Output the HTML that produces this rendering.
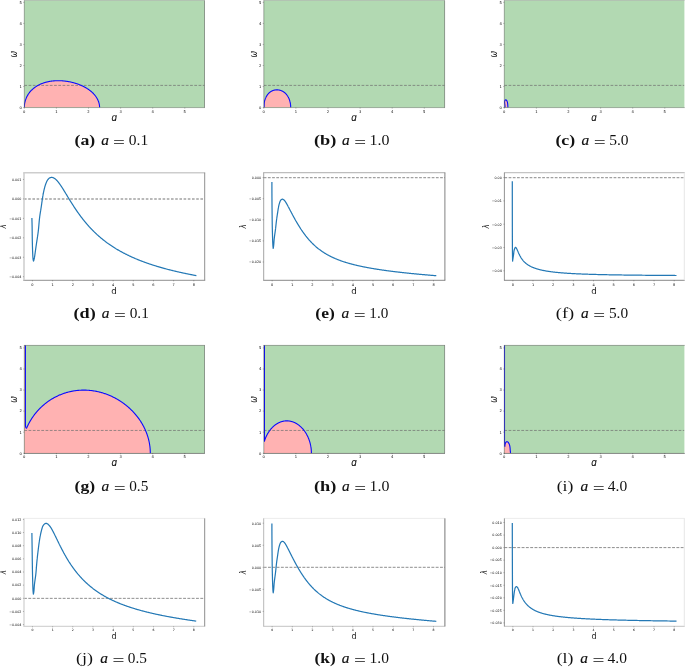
<!DOCTYPE html>
<html><head><meta charset="utf-8"><title>figure</title>
<style>html,body{margin:0;padding:0;background:#fff}svg{display:block}</style>
</head><body>
<svg width="685" height="667" viewBox="0 0 685 667" font-family='"DejaVu Sans","Liberation Sans",sans-serif'>
<rect width="685" height="667" fill="#fff"/>
<clipPath id="c00"><rect x="24.3" y="0.5" width="180.20" height="107.10"/></clipPath>
<rect x="24.3" y="0.5" width="180.20" height="107.10" fill="#b2d9b2"/>
<g clip-path="url(#c00)">
<path d="M24.30,107.60 L24.30,107.35 L24.30,107.20 L24.31,106.92 L24.32,106.62 L24.33,106.31 L24.35,105.99 L24.37,105.68 L24.40,105.36 L24.43,105.05 L24.47,104.74 L24.51,104.42 L24.55,104.11 L24.60,103.79 L24.65,103.48 L24.71,103.17 L24.77,102.85 L24.83,102.54 L24.90,102.23 L24.97,101.92 L25.05,101.61 L25.13,101.31 L25.21,101.00 L25.30,100.69 L25.39,100.39 L25.49,100.08 L25.59,99.78 L25.70,99.48 L25.80,99.18 L25.92,98.88 L26.03,98.58 L26.15,98.29 L26.28,97.99 L26.41,97.70 L26.54,97.40 L26.68,97.11 L26.82,96.83 L26.96,96.54 L27.11,96.25 L27.26,95.97 L27.42,95.69 L27.58,95.41 L27.74,95.13 L27.91,94.85 L28.08,94.58 L28.25,94.31 L28.43,94.03 L28.61,93.77 L28.80,93.50 L28.99,93.24 L29.18,92.97 L29.38,92.71 L29.58,92.46 L29.78,92.20 L29.99,91.95 L30.20,91.70 L30.41,91.45 L30.63,91.20 L30.85,90.96 L31.08,90.72 L31.31,90.48 L31.54,90.24 L31.77,90.01 L32.01,89.78 L32.25,89.55 L32.50,89.32 L32.74,89.10 L33.00,88.88 L33.25,88.66 L33.51,88.44 L33.77,88.23 L34.03,88.02 L34.30,87.81 L34.57,87.61 L34.84,87.40 L35.12,87.20 L35.40,87.01 L35.68,86.81 L35.96,86.62 L36.25,86.44 L36.54,86.25 L36.84,86.07 L37.13,85.89 L37.43,85.71 L37.73,85.54 L38.04,85.37 L38.34,85.20 L38.65,85.04 L38.96,84.88 L39.28,84.72 L39.60,84.57 L39.92,84.41 L40.24,84.26 L40.56,84.12 L40.89,83.97 L41.22,83.83 L41.55,83.70 L41.88,83.56 L42.22,83.43 L42.56,83.31 L42.90,83.18 L43.24,83.06 L43.58,82.94 L43.93,82.82 L44.28,82.71 L44.63,82.60 L44.98,82.50 L45.33,82.39 L45.69,82.29 L46.05,82.20 L46.41,82.10 L46.77,82.01 L47.13,81.92 L47.50,81.84 L47.86,81.76 L48.23,81.68 L48.60,81.60 L48.97,81.53 L49.34,81.46 L49.72,81.39 L50.09,81.33 L50.47,81.27 L50.84,81.21 L51.22,81.16 L51.60,81.11 L51.98,81.06 L52.36,81.01 L52.75,80.97 L53.13,80.93 L53.52,80.89 L53.90,80.86 L54.29,80.83 L54.68,80.80 L55.07,80.78 L55.46,80.76 L55.85,80.74 L56.24,80.72 L56.63,80.71 L57.02,80.70 L57.41,80.69 L57.80,80.69 L58.20,80.68 L58.59,80.69 L58.99,80.69 L59.38,80.70 L59.78,80.71 L60.17,80.72 L60.57,80.73 L60.96,80.75 L61.36,80.77 L61.75,80.80 L62.15,80.82 L62.54,80.85 L62.94,80.88 L63.33,80.92 L63.73,80.95 L64.12,80.99 L64.52,81.03 L64.91,81.08 L65.31,81.13 L65.70,81.18 L66.10,81.23 L66.49,81.28 L66.88,81.34 L67.27,81.40 L67.66,81.47 L68.05,81.53 L68.44,81.60 L68.83,81.67 L69.22,81.74 L69.61,81.82 L70.00,81.90 L70.38,81.98 L70.77,82.06 L71.15,82.15 L71.54,82.23 L71.92,82.32 L72.30,82.42 L72.68,82.51 L73.06,82.61 L73.43,82.71 L73.81,82.81 L74.18,82.91 L74.56,83.02 L74.93,83.13 L75.30,83.24 L75.67,83.36 L76.04,83.47 L76.40,83.59 L76.77,83.71 L77.13,83.83 L77.49,83.96 L77.85,84.08 L78.21,84.21 L78.57,84.35 L78.92,84.48 L79.27,84.62 L79.62,84.75 L79.97,84.89 L80.32,85.04 L80.66,85.18 L81.00,85.33 L81.34,85.48 L81.68,85.63 L82.02,85.78 L82.35,85.93 L82.68,86.09 L83.01,86.25 L83.34,86.41 L83.66,86.57 L83.98,86.74 L84.30,86.91 L84.62,87.08 L84.94,87.25 L85.25,87.42 L85.56,87.59 L85.86,87.77 L86.17,87.95 L86.47,88.13 L86.77,88.31 L87.06,88.50 L87.36,88.68 L87.65,88.87 L87.94,89.06 L88.22,89.25 L88.50,89.44 L88.78,89.64 L89.06,89.84 L89.33,90.03 L89.60,90.24 L89.87,90.44 L90.13,90.64 L90.39,90.85 L90.65,91.05 L90.90,91.26 L91.16,91.47 L91.40,91.68 L91.65,91.90 L91.89,92.11 L92.13,92.33 L92.36,92.55 L92.59,92.77 L92.82,92.99 L93.05,93.21 L93.27,93.43 L93.49,93.66 L93.70,93.89 L93.91,94.12 L94.12,94.34 L94.32,94.58 L94.52,94.81 L94.72,95.04 L94.91,95.28 L95.10,95.51 L95.29,95.75 L95.47,95.99 L95.65,96.23 L95.82,96.47 L95.99,96.71 L96.16,96.96 L96.32,97.20 L96.48,97.45 L96.64,97.69 L96.79,97.94 L96.94,98.19 L97.08,98.44 L97.22,98.69 L97.36,98.94 L97.49,99.19 L97.62,99.45 L97.75,99.70 L97.87,99.96 L97.98,100.21 L98.10,100.47 L98.20,100.73 L98.31,100.98 L98.41,101.24 L98.51,101.50 L98.60,101.76 L98.69,102.02 L98.77,102.29 L98.85,102.55 L98.93,102.81 L99.00,103.07 L99.07,103.34 L99.13,103.60 L99.19,103.87 L99.25,104.13 L99.30,104.40 L99.35,104.66 L99.39,104.93 L99.43,105.19 L99.47,105.46 L99.50,105.73 L99.53,106.00 L99.55,106.26 L99.57,106.53 L99.58,106.80 L99.59,107.06 L99.60,107.33 L99.60,107.60 L99.60,107.60Z" fill="#ffb2b2"/>
<line x1="24.3" x2="204.5" y1="85.40" y2="85.40" stroke="#707070" stroke-opacity="0.9" stroke-width="0.8" stroke-dasharray="2.75 1.5"/>
<path d="M24.30,107.35 L24.30,107.20 L24.31,106.92 L24.32,106.62 L24.33,106.31 L24.35,105.99 L24.37,105.68 L24.40,105.36 L24.43,105.05 L24.47,104.74 L24.51,104.42 L24.55,104.11 L24.60,103.79 L24.65,103.48 L24.71,103.17 L24.77,102.85 L24.83,102.54 L24.90,102.23 L24.97,101.92 L25.05,101.61 L25.13,101.31 L25.21,101.00 L25.30,100.69 L25.39,100.39 L25.49,100.08 L25.59,99.78 L25.70,99.48 L25.80,99.18 L25.92,98.88 L26.03,98.58 L26.15,98.29 L26.28,97.99 L26.41,97.70 L26.54,97.40 L26.68,97.11 L26.82,96.83 L26.96,96.54 L27.11,96.25 L27.26,95.97 L27.42,95.69 L27.58,95.41 L27.74,95.13 L27.91,94.85 L28.08,94.58 L28.25,94.31 L28.43,94.03 L28.61,93.77 L28.80,93.50 L28.99,93.24 L29.18,92.97 L29.38,92.71 L29.58,92.46 L29.78,92.20 L29.99,91.95 L30.20,91.70 L30.41,91.45 L30.63,91.20 L30.85,90.96 L31.08,90.72 L31.31,90.48 L31.54,90.24 L31.77,90.01 L32.01,89.78 L32.25,89.55 L32.50,89.32 L32.74,89.10 L33.00,88.88 L33.25,88.66 L33.51,88.44 L33.77,88.23 L34.03,88.02 L34.30,87.81 L34.57,87.61 L34.84,87.40 L35.12,87.20 L35.40,87.01 L35.68,86.81 L35.96,86.62 L36.25,86.44 L36.54,86.25 L36.84,86.07 L37.13,85.89 L37.43,85.71 L37.73,85.54 L38.04,85.37 L38.34,85.20 L38.65,85.04 L38.96,84.88 L39.28,84.72 L39.60,84.57 L39.92,84.41 L40.24,84.26 L40.56,84.12 L40.89,83.97 L41.22,83.83 L41.55,83.70 L41.88,83.56 L42.22,83.43 L42.56,83.31 L42.90,83.18 L43.24,83.06 L43.58,82.94 L43.93,82.82 L44.28,82.71 L44.63,82.60 L44.98,82.50 L45.33,82.39 L45.69,82.29 L46.05,82.20 L46.41,82.10 L46.77,82.01 L47.13,81.92 L47.50,81.84 L47.86,81.76 L48.23,81.68 L48.60,81.60 L48.97,81.53 L49.34,81.46 L49.72,81.39 L50.09,81.33 L50.47,81.27 L50.84,81.21 L51.22,81.16 L51.60,81.11 L51.98,81.06 L52.36,81.01 L52.75,80.97 L53.13,80.93 L53.52,80.89 L53.90,80.86 L54.29,80.83 L54.68,80.80 L55.07,80.78 L55.46,80.76 L55.85,80.74 L56.24,80.72 L56.63,80.71 L57.02,80.70 L57.41,80.69 L57.80,80.69 L58.20,80.68 L58.59,80.69 L58.99,80.69 L59.38,80.70 L59.78,80.71 L60.17,80.72 L60.57,80.73 L60.96,80.75 L61.36,80.77 L61.75,80.80 L62.15,80.82 L62.54,80.85 L62.94,80.88 L63.33,80.92 L63.73,80.95 L64.12,80.99 L64.52,81.03 L64.91,81.08 L65.31,81.13 L65.70,81.18 L66.10,81.23 L66.49,81.28 L66.88,81.34 L67.27,81.40 L67.66,81.47 L68.05,81.53 L68.44,81.60 L68.83,81.67 L69.22,81.74 L69.61,81.82 L70.00,81.90 L70.38,81.98 L70.77,82.06 L71.15,82.15 L71.54,82.23 L71.92,82.32 L72.30,82.42 L72.68,82.51 L73.06,82.61 L73.43,82.71 L73.81,82.81 L74.18,82.91 L74.56,83.02 L74.93,83.13 L75.30,83.24 L75.67,83.36 L76.04,83.47 L76.40,83.59 L76.77,83.71 L77.13,83.83 L77.49,83.96 L77.85,84.08 L78.21,84.21 L78.57,84.35 L78.92,84.48 L79.27,84.62 L79.62,84.75 L79.97,84.89 L80.32,85.04 L80.66,85.18 L81.00,85.33 L81.34,85.48 L81.68,85.63 L82.02,85.78 L82.35,85.93 L82.68,86.09 L83.01,86.25 L83.34,86.41 L83.66,86.57 L83.98,86.74 L84.30,86.91 L84.62,87.08 L84.94,87.25 L85.25,87.42 L85.56,87.59 L85.86,87.77 L86.17,87.95 L86.47,88.13 L86.77,88.31 L87.06,88.50 L87.36,88.68 L87.65,88.87 L87.94,89.06 L88.22,89.25 L88.50,89.44 L88.78,89.64 L89.06,89.84 L89.33,90.03 L89.60,90.24 L89.87,90.44 L90.13,90.64 L90.39,90.85 L90.65,91.05 L90.90,91.26 L91.16,91.47 L91.40,91.68 L91.65,91.90 L91.89,92.11 L92.13,92.33 L92.36,92.55 L92.59,92.77 L92.82,92.99 L93.05,93.21 L93.27,93.43 L93.49,93.66 L93.70,93.89 L93.91,94.12 L94.12,94.34 L94.32,94.58 L94.52,94.81 L94.72,95.04 L94.91,95.28 L95.10,95.51 L95.29,95.75 L95.47,95.99 L95.65,96.23 L95.82,96.47 L95.99,96.71 L96.16,96.96 L96.32,97.20 L96.48,97.45 L96.64,97.69 L96.79,97.94 L96.94,98.19 L97.08,98.44 L97.22,98.69 L97.36,98.94 L97.49,99.19 L97.62,99.45 L97.75,99.70 L97.87,99.96 L97.98,100.21 L98.10,100.47 L98.20,100.73 L98.31,100.98 L98.41,101.24 L98.51,101.50 L98.60,101.76 L98.69,102.02 L98.77,102.29 L98.85,102.55 L98.93,102.81 L99.00,103.07 L99.07,103.34 L99.13,103.60 L99.19,103.87 L99.25,104.13 L99.30,104.40 L99.35,104.66 L99.39,104.93 L99.43,105.19 L99.47,105.46 L99.50,105.73 L99.53,106.00 L99.55,106.26 L99.57,106.53 L99.58,106.80 L99.59,107.06 L99.60,107.33 L99.60,107.60" fill="none" stroke="#0a0aff" stroke-width="1.1" stroke-linejoin="round"/>
</g>
<line x1="23.900000000000002" x2="204.9" y1="0.5" y2="0.5" stroke="#000" stroke-opacity="0.22" stroke-width="0.8"/>
<line x1="23.900000000000002" x2="204.9" y1="107.6" y2="107.6" stroke="#000" stroke-opacity="0.3" stroke-width="0.9"/>
<line x1="24.3" x2="24.3" y1="0.5" y2="107.6" stroke="#000" stroke-opacity="0.38" stroke-width="0.8"/>
<line x1="204.5" x2="204.5" y1="0.5" y2="107.6" stroke="#000" stroke-opacity="0.45" stroke-width="0.8"/>
<line x1="24.30" x2="24.30" y1="107.6" y2="108.69999999999999" stroke="#000" stroke-opacity="0.7" stroke-width="0.35"/>
<text x="24.30" y="112.60" font-size="3.7" text-anchor="middle" fill="#000">0</text>
<line x1="23.2" x2="24.3" y1="107.60" y2="107.60" stroke="#000" stroke-opacity="0.7" stroke-width="0.35"/>
<text x="21.90" y="108.95" font-size="3.7" text-anchor="end" fill="#000">0</text>
<line x1="56.40" x2="56.40" y1="107.6" y2="108.69999999999999" stroke="#000" stroke-opacity="0.7" stroke-width="0.35"/>
<text x="56.40" y="112.60" font-size="3.7" text-anchor="middle" fill="#000">1</text>
<line x1="23.2" x2="24.3" y1="86.55" y2="86.55" stroke="#000" stroke-opacity="0.7" stroke-width="0.35"/>
<text x="21.90" y="87.90" font-size="3.7" text-anchor="end" fill="#000">1</text>
<line x1="88.50" x2="88.50" y1="107.6" y2="108.69999999999999" stroke="#000" stroke-opacity="0.7" stroke-width="0.35"/>
<text x="88.50" y="112.60" font-size="3.7" text-anchor="middle" fill="#000">2</text>
<line x1="23.2" x2="24.3" y1="65.50" y2="65.50" stroke="#000" stroke-opacity="0.7" stroke-width="0.35"/>
<text x="21.90" y="66.85" font-size="3.7" text-anchor="end" fill="#000">2</text>
<line x1="120.60" x2="120.60" y1="107.6" y2="108.69999999999999" stroke="#000" stroke-opacity="0.7" stroke-width="0.35"/>
<text x="120.60" y="112.60" font-size="3.7" text-anchor="middle" fill="#000">3</text>
<line x1="23.2" x2="24.3" y1="44.45" y2="44.45" stroke="#000" stroke-opacity="0.7" stroke-width="0.35"/>
<text x="21.90" y="45.80" font-size="3.7" text-anchor="end" fill="#000">3</text>
<line x1="152.70" x2="152.70" y1="107.6" y2="108.69999999999999" stroke="#000" stroke-opacity="0.7" stroke-width="0.35"/>
<text x="152.70" y="112.60" font-size="3.7" text-anchor="middle" fill="#000">4</text>
<line x1="23.2" x2="24.3" y1="23.40" y2="23.40" stroke="#000" stroke-opacity="0.7" stroke-width="0.35"/>
<text x="21.90" y="24.75" font-size="3.7" text-anchor="end" fill="#000">4</text>
<line x1="184.80" x2="184.80" y1="107.6" y2="108.69999999999999" stroke="#000" stroke-opacity="0.7" stroke-width="0.35"/>
<text x="184.80" y="112.60" font-size="3.7" text-anchor="middle" fill="#000">5</text>
<line x1="23.2" x2="24.3" y1="2.35" y2="2.35" stroke="#000" stroke-opacity="0.7" stroke-width="0.35"/>
<text x="21.90" y="3.70" font-size="3.7" text-anchor="end" fill="#000">5</text>
<clipPath id="d00"><rect x="106.4" y="115.2" width="16" height="10"/></clipPath>
<g clip-path="url(#d00)"><text transform="translate(114.20,120.7) scale(1,1.22)" font-size="8.8" font-style="italic" text-anchor="middle" fill="#111" stroke="#111" stroke-width="0.12">d</text></g>
<text transform="translate(17.10,54.15) rotate(-90) scale(0.82,1)" font-size="9.6" font-style="italic" text-anchor="middle" fill="#111" stroke="#111" stroke-width="0.06">ω</text>
<clipPath id="c10"><rect x="263.8" y="0.5" width="180.80" height="107.10"/></clipPath>
<rect x="263.8" y="0.5" width="180.80" height="107.10" fill="#b2d9b2"/>
<g clip-path="url(#c10)">
<path d="M263.80,107.60 L264.05,107.60 L264.10,105.50 L264.20,102.86 L264.20,102.86 L264.20,102.84 L264.21,102.82 L264.21,102.80 L264.22,102.76 L264.23,102.72 L264.24,102.66 L264.25,102.61 L264.26,102.54 L264.27,102.47 L264.29,102.39 L264.31,102.31 L264.32,102.22 L264.34,102.13 L264.36,102.03 L264.39,101.92 L264.41,101.81 L264.44,101.70 L264.46,101.59 L264.49,101.47 L264.52,101.34 L264.55,101.22 L264.59,101.09 L264.62,100.96 L264.65,100.83 L264.69,100.69 L264.73,100.55 L264.77,100.42 L264.81,100.28 L264.85,100.14 L264.90,99.99 L264.94,99.85 L264.99,99.71 L265.04,99.56 L265.09,99.42 L265.14,99.27 L265.19,99.12 L265.24,98.98 L265.30,98.83 L265.35,98.68 L265.41,98.54 L265.47,98.39 L265.53,98.25 L265.59,98.10 L265.65,97.95 L265.72,97.81 L265.78,97.66 L265.85,97.52 L265.92,97.37 L265.99,97.23 L266.06,97.09 L266.13,96.95 L266.20,96.80 L266.28,96.66 L266.35,96.52 L266.43,96.38 L266.51,96.25 L266.59,96.11 L266.67,95.97 L266.75,95.84 L266.83,95.71 L266.91,95.57 L267.00,95.44 L267.08,95.31 L267.17,95.18 L267.26,95.05 L267.35,94.93 L267.44,94.80 L267.53,94.68 L267.63,94.56 L267.72,94.43 L267.81,94.31 L267.91,94.20 L268.01,94.08 L268.11,93.96 L268.20,93.85 L268.30,93.73 L268.41,93.62 L268.51,93.51 L268.61,93.40 L268.72,93.30 L268.82,93.19 L268.93,93.09 L269.03,92.99 L269.14,92.88 L269.25,92.79 L269.36,92.69 L269.47,92.59 L269.58,92.50 L269.70,92.40 L269.81,92.31 L269.92,92.22 L270.04,92.13 L270.15,92.05 L270.27,91.96 L270.39,91.88 L270.51,91.80 L270.63,91.72 L270.74,91.64 L270.87,91.56 L270.99,91.49 L271.11,91.42 L271.23,91.34 L271.35,91.27 L271.48,91.21 L271.60,91.14 L271.73,91.07 L271.85,91.01 L271.98,90.95 L272.11,90.89 L272.24,90.83 L272.36,90.78 L272.49,90.72 L272.62,90.67 L272.75,90.62 L272.88,90.57 L273.01,90.52 L273.14,90.47 L273.28,90.43 L273.41,90.38 L273.54,90.34 L273.67,90.30 L273.81,90.27 L273.94,90.23 L274.08,90.19 L274.21,90.16 L274.35,90.13 L274.48,90.10 L274.62,90.07 L274.75,90.05 L274.89,90.02 L275.03,90.00 L275.16,89.98 L275.30,89.96 L275.44,89.94 L275.58,89.92 L275.71,89.91 L275.85,89.89 L275.99,89.88 L276.13,89.87 L276.27,89.86 L276.41,89.86 L276.55,89.85 L276.68,89.85 L276.82,89.85 L276.96,89.85 L277.10,89.85 L277.24,89.85 L277.38,89.86 L277.52,89.86 L277.66,89.87 L277.80,89.88 L277.94,89.89 L278.08,89.91 L278.22,89.92 L278.35,89.94 L278.49,89.96 L278.63,89.97 L278.77,90.00 L278.91,90.02 L279.05,90.04 L279.19,90.07 L279.32,90.10 L279.46,90.13 L279.60,90.16 L279.74,90.19 L279.87,90.22 L280.01,90.26 L280.15,90.30 L280.28,90.34 L280.42,90.38 L280.55,90.42 L280.69,90.46 L280.82,90.51 L280.96,90.55 L281.09,90.60 L281.23,90.65 L281.36,90.71 L281.49,90.76 L281.62,90.81 L281.76,90.87 L281.89,90.93 L282.02,90.99 L282.15,91.05 L282.28,91.11 L282.41,91.18 L282.54,91.25 L282.67,91.31 L282.79,91.38 L282.92,91.46 L283.05,91.53 L283.17,91.60 L283.30,91.68 L283.42,91.76 L283.55,91.84 L283.67,91.92 L283.79,92.00 L283.91,92.09 L284.03,92.17 L284.16,92.26 L284.28,92.35 L284.39,92.44 L284.51,92.53 L284.63,92.63 L284.75,92.72 L284.86,92.82 L284.98,92.92 L285.09,93.02 L285.20,93.12 L285.32,93.23 L285.43,93.33 L285.54,93.44 L285.65,93.55 L285.76,93.66 L285.87,93.77 L285.97,93.88 L286.08,94.00 L286.18,94.12 L286.29,94.23 L286.39,94.35 L286.49,94.48 L286.60,94.60 L286.70,94.72 L286.79,94.85 L286.89,94.98 L286.99,95.10 L287.09,95.24 L287.18,95.37 L287.28,95.50 L287.37,95.64 L287.46,95.77 L287.55,95.91 L287.64,96.05 L287.73,96.19 L287.82,96.33 L287.90,96.48 L287.99,96.62 L288.07,96.77 L288.15,96.91 L288.23,97.06 L288.32,97.21 L288.39,97.37 L288.47,97.52 L288.55,97.67 L288.62,97.83 L288.70,97.99 L288.77,98.14 L288.84,98.30 L288.91,98.46 L288.98,98.63 L289.05,98.79 L289.12,98.95 L289.18,99.12 L289.25,99.29 L289.31,99.45 L289.37,99.62 L289.43,99.79 L289.49,99.96 L289.55,100.13 L289.60,100.31 L289.66,100.48 L289.71,100.66 L289.76,100.83 L289.81,101.01 L289.86,101.19 L289.91,101.37 L289.96,101.55 L290.00,101.73 L290.05,101.91 L290.09,102.09 L290.13,102.27 L290.17,102.46 L290.21,102.64 L290.25,102.82 L290.28,103.01 L290.32,103.20 L290.35,103.38 L290.38,103.57 L290.41,103.76 L290.44,103.95 L290.46,104.14 L290.49,104.33 L290.51,104.52 L290.54,104.71 L290.56,104.90 L290.58,105.09 L290.60,105.28 L290.61,105.47 L290.63,105.67 L290.64,105.86 L290.65,106.05 L290.66,106.24 L290.67,106.44 L290.68,106.63 L290.69,106.82 L290.69,107.02 L290.70,107.21 L290.70,107.41 L290.70,107.60 L290.70,107.60Z" fill="#ffb2b2"/>
<line x1="263.8" x2="444.6" y1="85.40" y2="85.40" stroke="#707070" stroke-opacity="0.9" stroke-width="0.8" stroke-dasharray="2.75 1.5"/>
<path d="M264.05,107.60 L264.10,105.50 L264.20,102.86 L264.20,102.86 L264.20,102.84 L264.21,102.82 L264.21,102.80 L264.22,102.76 L264.23,102.72 L264.24,102.66 L264.25,102.61 L264.26,102.54 L264.27,102.47 L264.29,102.39 L264.31,102.31 L264.32,102.22 L264.34,102.13 L264.36,102.03 L264.39,101.92 L264.41,101.81 L264.44,101.70 L264.46,101.59 L264.49,101.47 L264.52,101.34 L264.55,101.22 L264.59,101.09 L264.62,100.96 L264.65,100.83 L264.69,100.69 L264.73,100.55 L264.77,100.42 L264.81,100.28 L264.85,100.14 L264.90,99.99 L264.94,99.85 L264.99,99.71 L265.04,99.56 L265.09,99.42 L265.14,99.27 L265.19,99.12 L265.24,98.98 L265.30,98.83 L265.35,98.68 L265.41,98.54 L265.47,98.39 L265.53,98.25 L265.59,98.10 L265.65,97.95 L265.72,97.81 L265.78,97.66 L265.85,97.52 L265.92,97.37 L265.99,97.23 L266.06,97.09 L266.13,96.95 L266.20,96.80 L266.28,96.66 L266.35,96.52 L266.43,96.38 L266.51,96.25 L266.59,96.11 L266.67,95.97 L266.75,95.84 L266.83,95.71 L266.91,95.57 L267.00,95.44 L267.08,95.31 L267.17,95.18 L267.26,95.05 L267.35,94.93 L267.44,94.80 L267.53,94.68 L267.63,94.56 L267.72,94.43 L267.81,94.31 L267.91,94.20 L268.01,94.08 L268.11,93.96 L268.20,93.85 L268.30,93.73 L268.41,93.62 L268.51,93.51 L268.61,93.40 L268.72,93.30 L268.82,93.19 L268.93,93.09 L269.03,92.99 L269.14,92.88 L269.25,92.79 L269.36,92.69 L269.47,92.59 L269.58,92.50 L269.70,92.40 L269.81,92.31 L269.92,92.22 L270.04,92.13 L270.15,92.05 L270.27,91.96 L270.39,91.88 L270.51,91.80 L270.63,91.72 L270.74,91.64 L270.87,91.56 L270.99,91.49 L271.11,91.42 L271.23,91.34 L271.35,91.27 L271.48,91.21 L271.60,91.14 L271.73,91.07 L271.85,91.01 L271.98,90.95 L272.11,90.89 L272.24,90.83 L272.36,90.78 L272.49,90.72 L272.62,90.67 L272.75,90.62 L272.88,90.57 L273.01,90.52 L273.14,90.47 L273.28,90.43 L273.41,90.38 L273.54,90.34 L273.67,90.30 L273.81,90.27 L273.94,90.23 L274.08,90.19 L274.21,90.16 L274.35,90.13 L274.48,90.10 L274.62,90.07 L274.75,90.05 L274.89,90.02 L275.03,90.00 L275.16,89.98 L275.30,89.96 L275.44,89.94 L275.58,89.92 L275.71,89.91 L275.85,89.89 L275.99,89.88 L276.13,89.87 L276.27,89.86 L276.41,89.86 L276.55,89.85 L276.68,89.85 L276.82,89.85 L276.96,89.85 L277.10,89.85 L277.24,89.85 L277.38,89.86 L277.52,89.86 L277.66,89.87 L277.80,89.88 L277.94,89.89 L278.08,89.91 L278.22,89.92 L278.35,89.94 L278.49,89.96 L278.63,89.97 L278.77,90.00 L278.91,90.02 L279.05,90.04 L279.19,90.07 L279.32,90.10 L279.46,90.13 L279.60,90.16 L279.74,90.19 L279.87,90.22 L280.01,90.26 L280.15,90.30 L280.28,90.34 L280.42,90.38 L280.55,90.42 L280.69,90.46 L280.82,90.51 L280.96,90.55 L281.09,90.60 L281.23,90.65 L281.36,90.71 L281.49,90.76 L281.62,90.81 L281.76,90.87 L281.89,90.93 L282.02,90.99 L282.15,91.05 L282.28,91.11 L282.41,91.18 L282.54,91.25 L282.67,91.31 L282.79,91.38 L282.92,91.46 L283.05,91.53 L283.17,91.60 L283.30,91.68 L283.42,91.76 L283.55,91.84 L283.67,91.92 L283.79,92.00 L283.91,92.09 L284.03,92.17 L284.16,92.26 L284.28,92.35 L284.39,92.44 L284.51,92.53 L284.63,92.63 L284.75,92.72 L284.86,92.82 L284.98,92.92 L285.09,93.02 L285.20,93.12 L285.32,93.23 L285.43,93.33 L285.54,93.44 L285.65,93.55 L285.76,93.66 L285.87,93.77 L285.97,93.88 L286.08,94.00 L286.18,94.12 L286.29,94.23 L286.39,94.35 L286.49,94.48 L286.60,94.60 L286.70,94.72 L286.79,94.85 L286.89,94.98 L286.99,95.10 L287.09,95.24 L287.18,95.37 L287.28,95.50 L287.37,95.64 L287.46,95.77 L287.55,95.91 L287.64,96.05 L287.73,96.19 L287.82,96.33 L287.90,96.48 L287.99,96.62 L288.07,96.77 L288.15,96.91 L288.23,97.06 L288.32,97.21 L288.39,97.37 L288.47,97.52 L288.55,97.67 L288.62,97.83 L288.70,97.99 L288.77,98.14 L288.84,98.30 L288.91,98.46 L288.98,98.63 L289.05,98.79 L289.12,98.95 L289.18,99.12 L289.25,99.29 L289.31,99.45 L289.37,99.62 L289.43,99.79 L289.49,99.96 L289.55,100.13 L289.60,100.31 L289.66,100.48 L289.71,100.66 L289.76,100.83 L289.81,101.01 L289.86,101.19 L289.91,101.37 L289.96,101.55 L290.00,101.73 L290.05,101.91 L290.09,102.09 L290.13,102.27 L290.17,102.46 L290.21,102.64 L290.25,102.82 L290.28,103.01 L290.32,103.20 L290.35,103.38 L290.38,103.57 L290.41,103.76 L290.44,103.95 L290.46,104.14 L290.49,104.33 L290.51,104.52 L290.54,104.71 L290.56,104.90 L290.58,105.09 L290.60,105.28 L290.61,105.47 L290.63,105.67 L290.64,105.86 L290.65,106.05 L290.66,106.24 L290.67,106.44 L290.68,106.63 L290.69,106.82 L290.69,107.02 L290.70,107.21 L290.70,107.41 L290.70,107.60" fill="none" stroke="#0a0aff" stroke-width="1.1" stroke-linejoin="round"/>
</g>
<line x1="263.40000000000003" x2="445.0" y1="0.5" y2="0.5" stroke="#000" stroke-opacity="0.22" stroke-width="0.8"/>
<line x1="263.40000000000003" x2="445.0" y1="107.6" y2="107.6" stroke="#000" stroke-opacity="0.3" stroke-width="0.9"/>
<line x1="263.8" x2="263.8" y1="0.5" y2="107.6" stroke="#000" stroke-opacity="0.38" stroke-width="0.8"/>
<line x1="444.6" x2="444.6" y1="0.5" y2="107.6" stroke="#000" stroke-opacity="0.45" stroke-width="0.8"/>
<line x1="263.80" x2="263.80" y1="107.6" y2="108.69999999999999" stroke="#000" stroke-opacity="0.7" stroke-width="0.35"/>
<text x="263.80" y="112.60" font-size="3.7" text-anchor="middle" fill="#000">0</text>
<line x1="262.7" x2="263.8" y1="107.60" y2="107.60" stroke="#000" stroke-opacity="0.7" stroke-width="0.35"/>
<text x="261.40" y="108.95" font-size="3.7" text-anchor="end" fill="#000">0</text>
<line x1="295.90" x2="295.90" y1="107.6" y2="108.69999999999999" stroke="#000" stroke-opacity="0.7" stroke-width="0.35"/>
<text x="295.90" y="112.60" font-size="3.7" text-anchor="middle" fill="#000">1</text>
<line x1="262.7" x2="263.8" y1="86.55" y2="86.55" stroke="#000" stroke-opacity="0.7" stroke-width="0.35"/>
<text x="261.40" y="87.90" font-size="3.7" text-anchor="end" fill="#000">1</text>
<line x1="328.00" x2="328.00" y1="107.6" y2="108.69999999999999" stroke="#000" stroke-opacity="0.7" stroke-width="0.35"/>
<text x="328.00" y="112.60" font-size="3.7" text-anchor="middle" fill="#000">2</text>
<line x1="262.7" x2="263.8" y1="65.50" y2="65.50" stroke="#000" stroke-opacity="0.7" stroke-width="0.35"/>
<text x="261.40" y="66.85" font-size="3.7" text-anchor="end" fill="#000">2</text>
<line x1="360.10" x2="360.10" y1="107.6" y2="108.69999999999999" stroke="#000" stroke-opacity="0.7" stroke-width="0.35"/>
<text x="360.10" y="112.60" font-size="3.7" text-anchor="middle" fill="#000">3</text>
<line x1="262.7" x2="263.8" y1="44.45" y2="44.45" stroke="#000" stroke-opacity="0.7" stroke-width="0.35"/>
<text x="261.40" y="45.80" font-size="3.7" text-anchor="end" fill="#000">3</text>
<line x1="392.20" x2="392.20" y1="107.6" y2="108.69999999999999" stroke="#000" stroke-opacity="0.7" stroke-width="0.35"/>
<text x="392.20" y="112.60" font-size="3.7" text-anchor="middle" fill="#000">4</text>
<line x1="262.7" x2="263.8" y1="23.40" y2="23.40" stroke="#000" stroke-opacity="0.7" stroke-width="0.35"/>
<text x="261.40" y="24.75" font-size="3.7" text-anchor="end" fill="#000">4</text>
<line x1="424.30" x2="424.30" y1="107.6" y2="108.69999999999999" stroke="#000" stroke-opacity="0.7" stroke-width="0.35"/>
<text x="424.30" y="112.60" font-size="3.7" text-anchor="middle" fill="#000">5</text>
<line x1="262.7" x2="263.8" y1="2.35" y2="2.35" stroke="#000" stroke-opacity="0.7" stroke-width="0.35"/>
<text x="261.40" y="3.70" font-size="3.7" text-anchor="end" fill="#000">5</text>
<clipPath id="d10"><rect x="346.20000000000005" y="115.2" width="16" height="10"/></clipPath>
<g clip-path="url(#d10)"><text transform="translate(354.00,120.7) scale(1,1.22)" font-size="8.8" font-style="italic" text-anchor="middle" fill="#111" stroke="#111" stroke-width="0.12">d</text></g>
<text transform="translate(256.60,54.15) rotate(-90) scale(0.82,1)" font-size="9.6" font-style="italic" text-anchor="middle" fill="#111" stroke="#111" stroke-width="0.06">ω</text>
<clipPath id="c20"><rect x="504.3" y="0.5" width="180.10" height="107.10"/></clipPath>
<rect x="504.3" y="0.5" width="180.10" height="107.10" fill="#b2d9b2"/>
<g clip-path="url(#c20)">
<path d="M504.30,107.60 L504.50,107.60 L504.66,107.51 L504.79,107.39 L504.88,107.23 L504.95,107.03 L505.00,106.81 L505.02,106.57 L505.02,106.29 L505.01,106.00 L504.98,105.69 L504.95,105.36 L504.90,105.02 L504.85,104.67 L504.80,104.31 L504.75,103.95 L504.70,103.59 L504.65,103.22 L504.62,102.86 L504.59,102.50 L504.58,102.15 L504.59,101.81 L504.62,101.49 L504.67,101.18 L504.74,100.89 L504.84,100.63 L504.98,100.39 L505.14,100.17 L505.34,99.99 L505.56,99.86 L505.78,99.82 L506.00,99.87 L506.21,100.00 L506.40,100.19 L506.57,100.40 L506.73,100.63 L506.87,100.87 L507.00,101.11 L507.11,101.37 L507.22,101.63 L507.31,101.90 L507.39,102.17 L507.45,102.45 L507.51,102.74 L507.57,103.03 L507.61,103.32 L507.65,103.61 L507.68,103.91 L507.71,104.20 L507.73,104.50 L507.75,104.80 L507.77,105.09 L507.79,105.39 L507.81,105.68 L507.83,105.97 L507.85,106.25 L507.87,106.53 L507.90,106.81 L507.93,107.08 L507.96,107.34 L508.01,107.59 L508.01,107.60Z" fill="#ffb2b2"/>
<line x1="504.3" x2="684.4" y1="85.40" y2="85.40" stroke="#707070" stroke-opacity="0.9" stroke-width="0.8" stroke-dasharray="2.75 1.5"/>
<path d="M504.50,107.60 L504.66,107.51 L504.79,107.39 L504.88,107.23 L504.95,107.03 L505.00,106.81 L505.02,106.57 L505.02,106.29 L505.01,106.00 L504.98,105.69 L504.95,105.36 L504.90,105.02 L504.85,104.67 L504.80,104.31 L504.75,103.95 L504.70,103.59 L504.65,103.22 L504.62,102.86 L504.59,102.50 L504.58,102.15 L504.59,101.81 L504.62,101.49 L504.67,101.18 L504.74,100.89 L504.84,100.63 L504.98,100.39 L505.14,100.17 L505.34,99.99 L505.56,99.86 L505.78,99.82 L506.00,99.87 L506.21,100.00 L506.40,100.19 L506.57,100.40 L506.73,100.63 L506.87,100.87 L507.00,101.11 L507.11,101.37 L507.22,101.63 L507.31,101.90 L507.39,102.17 L507.45,102.45 L507.51,102.74 L507.57,103.03 L507.61,103.32 L507.65,103.61 L507.68,103.91 L507.71,104.20 L507.73,104.50 L507.75,104.80 L507.77,105.09 L507.79,105.39 L507.81,105.68 L507.83,105.97 L507.85,106.25 L507.87,106.53 L507.90,106.81 L507.93,107.08 L507.96,107.34 L508.01,107.59" fill="none" stroke="#0a0aff" stroke-width="1.1" stroke-linejoin="round"/>
</g>
<line x1="503.90000000000003" x2="684.8" y1="0.5" y2="0.5" stroke="#000" stroke-opacity="0.22" stroke-width="0.8"/>
<line x1="503.90000000000003" x2="684.8" y1="107.6" y2="107.6" stroke="#000" stroke-opacity="0.3" stroke-width="0.9"/>
<line x1="504.3" x2="504.3" y1="0.5" y2="107.6" stroke="#000" stroke-opacity="0.38" stroke-width="0.8"/>
<line x1="504.30" x2="504.30" y1="107.6" y2="108.69999999999999" stroke="#000" stroke-opacity="0.7" stroke-width="0.35"/>
<text x="504.30" y="112.60" font-size="3.7" text-anchor="middle" fill="#000">0</text>
<line x1="503.2" x2="504.3" y1="107.60" y2="107.60" stroke="#000" stroke-opacity="0.7" stroke-width="0.35"/>
<text x="501.90" y="108.95" font-size="3.7" text-anchor="end" fill="#000">0</text>
<line x1="536.40" x2="536.40" y1="107.6" y2="108.69999999999999" stroke="#000" stroke-opacity="0.7" stroke-width="0.35"/>
<text x="536.40" y="112.60" font-size="3.7" text-anchor="middle" fill="#000">1</text>
<line x1="503.2" x2="504.3" y1="86.55" y2="86.55" stroke="#000" stroke-opacity="0.7" stroke-width="0.35"/>
<text x="501.90" y="87.90" font-size="3.7" text-anchor="end" fill="#000">1</text>
<line x1="568.50" x2="568.50" y1="107.6" y2="108.69999999999999" stroke="#000" stroke-opacity="0.7" stroke-width="0.35"/>
<text x="568.50" y="112.60" font-size="3.7" text-anchor="middle" fill="#000">2</text>
<line x1="503.2" x2="504.3" y1="65.50" y2="65.50" stroke="#000" stroke-opacity="0.7" stroke-width="0.35"/>
<text x="501.90" y="66.85" font-size="3.7" text-anchor="end" fill="#000">2</text>
<line x1="600.60" x2="600.60" y1="107.6" y2="108.69999999999999" stroke="#000" stroke-opacity="0.7" stroke-width="0.35"/>
<text x="600.60" y="112.60" font-size="3.7" text-anchor="middle" fill="#000">3</text>
<line x1="503.2" x2="504.3" y1="44.45" y2="44.45" stroke="#000" stroke-opacity="0.7" stroke-width="0.35"/>
<text x="501.90" y="45.80" font-size="3.7" text-anchor="end" fill="#000">3</text>
<line x1="632.70" x2="632.70" y1="107.6" y2="108.69999999999999" stroke="#000" stroke-opacity="0.7" stroke-width="0.35"/>
<text x="632.70" y="112.60" font-size="3.7" text-anchor="middle" fill="#000">4</text>
<line x1="503.2" x2="504.3" y1="23.40" y2="23.40" stroke="#000" stroke-opacity="0.7" stroke-width="0.35"/>
<text x="501.90" y="24.75" font-size="3.7" text-anchor="end" fill="#000">4</text>
<line x1="664.80" x2="664.80" y1="107.6" y2="108.69999999999999" stroke="#000" stroke-opacity="0.7" stroke-width="0.35"/>
<text x="664.80" y="112.60" font-size="3.7" text-anchor="middle" fill="#000">5</text>
<line x1="503.2" x2="504.3" y1="2.35" y2="2.35" stroke="#000" stroke-opacity="0.7" stroke-width="0.35"/>
<text x="501.90" y="3.70" font-size="3.7" text-anchor="end" fill="#000">5</text>
<clipPath id="d20"><rect x="586.35" y="115.2" width="16" height="10"/></clipPath>
<g clip-path="url(#d20)"><text transform="translate(594.15,120.7) scale(1,1.22)" font-size="8.8" font-style="italic" text-anchor="middle" fill="#111" stroke="#111" stroke-width="0.12">d</text></g>
<text transform="translate(497.10,54.15) rotate(-90) scale(0.82,1)" font-size="9.6" font-style="italic" text-anchor="middle" fill="#111" stroke="#111" stroke-width="0.06">ω</text>
<clipPath id="c01"><rect x="24.3" y="345.4" width="180.20" height="107.80"/></clipPath>
<rect x="24.3" y="345.4" width="180.20" height="107.80" fill="#b2d9b2"/>
<g clip-path="url(#c01)">
<path d="M24.30,453.20 L24.30,345.40 L25.40,345.40 L25.40,343.00 L25.40,423.67 L25.45,425.57 L25.70,427.17 L26.15,428.02 L26.60,428.17 L26.60,428.16 L26.61,428.14 L26.63,428.10 L26.65,428.04 L26.69,427.97 L26.72,427.88 L26.77,427.78 L26.82,427.66 L26.88,427.53 L26.94,427.38 L27.01,427.22 L27.09,427.05 L27.18,426.86 L27.27,426.66 L27.37,426.45 L27.47,426.22 L27.58,425.98 L27.70,425.73 L27.83,425.47 L27.96,425.20 L28.10,424.92 L28.25,424.62 L28.40,424.32 L28.56,424.01 L28.72,423.70 L28.89,423.37 L29.07,423.03 L29.26,422.69 L29.45,422.34 L29.65,421.99 L29.85,421.63 L30.06,421.26 L30.28,420.89 L30.50,420.51 L30.74,420.13 L30.97,419.74 L31.22,419.35 L31.46,418.96 L31.72,418.56 L31.98,418.16 L32.25,417.76 L32.53,417.35 L32.81,416.94 L33.09,416.53 L33.39,416.12 L33.68,415.70 L33.99,415.29 L34.30,414.87 L34.62,414.46 L34.94,414.04 L35.27,413.62 L35.60,413.21 L35.94,412.79 L36.29,412.37 L36.64,411.95 L37.00,411.54 L37.36,411.12 L37.73,410.71 L38.11,410.29 L38.49,409.88 L38.87,409.47 L39.27,409.06 L39.66,408.65 L40.06,408.25 L40.47,407.84 L40.89,407.44 L41.30,407.04 L41.73,406.65 L42.15,406.25 L42.59,405.86 L43.03,405.47 L43.47,405.09 L43.92,404.71 L44.37,404.33 L44.83,403.95 L45.29,403.58 L45.76,403.21 L46.23,402.84 L46.71,402.48 L47.19,402.12 L47.68,401.77 L48.17,401.42 L48.67,401.07 L49.17,400.73 L49.67,400.39 L50.18,400.06 L50.69,399.73 L51.21,399.40 L51.73,399.08 L52.25,398.77 L52.78,398.46 L53.32,398.15 L53.85,397.85 L54.39,397.55 L54.94,397.26 L55.48,396.98 L56.04,396.70 L56.59,396.42 L57.15,396.15 L57.71,395.88 L58.28,395.62 L58.85,395.37 L59.42,395.12 L59.99,394.88 L60.57,394.64 L61.16,394.41 L61.74,394.18 L62.33,393.96 L62.92,393.74 L63.51,393.53 L64.11,393.33 L64.71,393.13 L65.31,392.94 L65.91,392.76 L66.52,392.58 L67.13,392.40 L67.74,392.24 L68.35,392.08 L68.97,391.92 L69.58,391.77 L70.20,391.63 L70.83,391.49 L71.45,391.36 L72.08,391.24 L72.70,391.12 L73.33,391.01 L73.96,390.91 L74.60,390.81 L75.23,390.72 L75.87,390.64 L76.50,390.56 L77.14,390.49 L77.78,390.42 L78.42,390.36 L79.06,390.31 L79.71,390.26 L80.35,390.22 L80.99,390.19 L81.64,390.17 L82.29,390.15 L82.93,390.13 L83.58,390.13 L84.23,390.13 L84.88,390.14 L85.53,390.15 L86.18,390.17 L86.83,390.20 L87.48,390.23 L88.13,390.27 L88.77,390.32 L89.42,390.37 L90.07,390.43 L90.72,390.50 L91.37,390.57 L92.02,390.66 L92.67,390.74 L93.32,390.84 L93.97,390.94 L94.61,391.04 L95.26,391.16 L95.91,391.28 L96.55,391.40 L97.19,391.53 L97.84,391.67 L98.48,391.82 L99.12,391.97 L99.76,392.13 L100.40,392.29 L101.03,392.47 L101.67,392.64 L102.30,392.83 L102.94,393.02 L103.57,393.21 L104.20,393.42 L104.82,393.63 L105.45,393.84 L106.07,394.06 L106.70,394.29 L107.32,394.52 L107.93,394.76 L108.55,395.01 L109.16,395.26 L109.77,395.52 L110.38,395.78 L110.99,396.05 L111.59,396.33 L112.19,396.61 L112.79,396.90 L113.39,397.19 L113.98,397.49 L114.57,397.79 L115.16,398.10 L115.74,398.42 L116.33,398.74 L116.90,399.06 L117.48,399.40 L118.05,399.73 L118.62,400.08 L119.19,400.42 L119.75,400.78 L120.31,401.13 L120.86,401.50 L121.42,401.87 L121.96,402.24 L122.51,402.62 L123.05,403.00 L123.58,403.39 L124.12,403.79 L124.65,404.19 L125.17,404.59 L125.69,405.00 L126.21,405.41 L126.72,405.83 L127.23,406.25 L127.73,406.68 L128.23,407.11 L128.73,407.54 L129.22,407.98 L129.71,408.43 L130.19,408.88 L130.67,409.33 L131.14,409.79 L131.61,410.25 L132.07,410.71 L132.53,411.18 L132.98,411.65 L133.43,412.13 L133.87,412.61 L134.31,413.10 L134.75,413.59 L135.17,414.08 L135.60,414.57 L136.01,415.07 L136.43,415.58 L136.84,416.08 L137.24,416.59 L137.63,417.11 L138.03,417.62 L138.41,418.14 L138.79,418.66 L139.17,419.19 L139.54,419.72 L139.90,420.25 L140.26,420.79 L140.61,421.32 L140.96,421.86 L141.30,422.41 L141.63,422.95 L141.96,423.50 L142.28,424.06 L142.60,424.61 L142.91,425.17 L143.22,425.73 L143.51,426.29 L143.81,426.85 L144.09,427.42 L144.37,427.99 L144.65,428.56 L144.92,429.13 L145.18,429.71 L145.44,430.28 L145.68,430.86 L145.93,431.44 L146.16,432.03 L146.40,432.61 L146.62,433.20 L146.84,433.79 L147.05,434.38 L147.25,434.97 L147.45,435.56 L147.64,436.15 L147.83,436.75 L148.01,437.35 L148.18,437.95 L148.34,438.55 L148.50,439.15 L148.65,439.75 L148.80,440.35 L148.94,440.96 L149.07,441.56 L149.20,442.17 L149.32,442.78 L149.43,443.39 L149.53,444.00 L149.63,444.61 L149.72,445.22 L149.81,445.83 L149.89,446.44 L149.96,447.05 L150.02,447.67 L150.08,448.28 L150.13,448.89 L150.18,449.51 L150.21,450.12 L150.25,450.74 L150.27,451.35 L150.29,451.97 L150.30,452.58 L150.30,453.20 L150.30,453.20Z" fill="#ffb2b2"/>
<line x1="24.3" x2="204.5" y1="430.45" y2="430.45" stroke="#707070" stroke-opacity="0.9" stroke-width="0.8" stroke-dasharray="2.75 1.5"/>
<path d="M25.40,343.00 L25.40,423.67 L25.45,425.57 L25.70,427.17 L26.15,428.02 L26.60,428.17 L26.60,428.16 L26.61,428.14 L26.63,428.10 L26.65,428.04 L26.69,427.97 L26.72,427.88 L26.77,427.78 L26.82,427.66 L26.88,427.53 L26.94,427.38 L27.01,427.22 L27.09,427.05 L27.18,426.86 L27.27,426.66 L27.37,426.45 L27.47,426.22 L27.58,425.98 L27.70,425.73 L27.83,425.47 L27.96,425.20 L28.10,424.92 L28.25,424.62 L28.40,424.32 L28.56,424.01 L28.72,423.70 L28.89,423.37 L29.07,423.03 L29.26,422.69 L29.45,422.34 L29.65,421.99 L29.85,421.63 L30.06,421.26 L30.28,420.89 L30.50,420.51 L30.74,420.13 L30.97,419.74 L31.22,419.35 L31.46,418.96 L31.72,418.56 L31.98,418.16 L32.25,417.76 L32.53,417.35 L32.81,416.94 L33.09,416.53 L33.39,416.12 L33.68,415.70 L33.99,415.29 L34.30,414.87 L34.62,414.46 L34.94,414.04 L35.27,413.62 L35.60,413.21 L35.94,412.79 L36.29,412.37 L36.64,411.95 L37.00,411.54 L37.36,411.12 L37.73,410.71 L38.11,410.29 L38.49,409.88 L38.87,409.47 L39.27,409.06 L39.66,408.65 L40.06,408.25 L40.47,407.84 L40.89,407.44 L41.30,407.04 L41.73,406.65 L42.15,406.25 L42.59,405.86 L43.03,405.47 L43.47,405.09 L43.92,404.71 L44.37,404.33 L44.83,403.95 L45.29,403.58 L45.76,403.21 L46.23,402.84 L46.71,402.48 L47.19,402.12 L47.68,401.77 L48.17,401.42 L48.67,401.07 L49.17,400.73 L49.67,400.39 L50.18,400.06 L50.69,399.73 L51.21,399.40 L51.73,399.08 L52.25,398.77 L52.78,398.46 L53.32,398.15 L53.85,397.85 L54.39,397.55 L54.94,397.26 L55.48,396.98 L56.04,396.70 L56.59,396.42 L57.15,396.15 L57.71,395.88 L58.28,395.62 L58.85,395.37 L59.42,395.12 L59.99,394.88 L60.57,394.64 L61.16,394.41 L61.74,394.18 L62.33,393.96 L62.92,393.74 L63.51,393.53 L64.11,393.33 L64.71,393.13 L65.31,392.94 L65.91,392.76 L66.52,392.58 L67.13,392.40 L67.74,392.24 L68.35,392.08 L68.97,391.92 L69.58,391.77 L70.20,391.63 L70.83,391.49 L71.45,391.36 L72.08,391.24 L72.70,391.12 L73.33,391.01 L73.96,390.91 L74.60,390.81 L75.23,390.72 L75.87,390.64 L76.50,390.56 L77.14,390.49 L77.78,390.42 L78.42,390.36 L79.06,390.31 L79.71,390.26 L80.35,390.22 L80.99,390.19 L81.64,390.17 L82.29,390.15 L82.93,390.13 L83.58,390.13 L84.23,390.13 L84.88,390.14 L85.53,390.15 L86.18,390.17 L86.83,390.20 L87.48,390.23 L88.13,390.27 L88.77,390.32 L89.42,390.37 L90.07,390.43 L90.72,390.50 L91.37,390.57 L92.02,390.66 L92.67,390.74 L93.32,390.84 L93.97,390.94 L94.61,391.04 L95.26,391.16 L95.91,391.28 L96.55,391.40 L97.19,391.53 L97.84,391.67 L98.48,391.82 L99.12,391.97 L99.76,392.13 L100.40,392.29 L101.03,392.47 L101.67,392.64 L102.30,392.83 L102.94,393.02 L103.57,393.21 L104.20,393.42 L104.82,393.63 L105.45,393.84 L106.07,394.06 L106.70,394.29 L107.32,394.52 L107.93,394.76 L108.55,395.01 L109.16,395.26 L109.77,395.52 L110.38,395.78 L110.99,396.05 L111.59,396.33 L112.19,396.61 L112.79,396.90 L113.39,397.19 L113.98,397.49 L114.57,397.79 L115.16,398.10 L115.74,398.42 L116.33,398.74 L116.90,399.06 L117.48,399.40 L118.05,399.73 L118.62,400.08 L119.19,400.42 L119.75,400.78 L120.31,401.13 L120.86,401.50 L121.42,401.87 L121.96,402.24 L122.51,402.62 L123.05,403.00 L123.58,403.39 L124.12,403.79 L124.65,404.19 L125.17,404.59 L125.69,405.00 L126.21,405.41 L126.72,405.83 L127.23,406.25 L127.73,406.68 L128.23,407.11 L128.73,407.54 L129.22,407.98 L129.71,408.43 L130.19,408.88 L130.67,409.33 L131.14,409.79 L131.61,410.25 L132.07,410.71 L132.53,411.18 L132.98,411.65 L133.43,412.13 L133.87,412.61 L134.31,413.10 L134.75,413.59 L135.17,414.08 L135.60,414.57 L136.01,415.07 L136.43,415.58 L136.84,416.08 L137.24,416.59 L137.63,417.11 L138.03,417.62 L138.41,418.14 L138.79,418.66 L139.17,419.19 L139.54,419.72 L139.90,420.25 L140.26,420.79 L140.61,421.32 L140.96,421.86 L141.30,422.41 L141.63,422.95 L141.96,423.50 L142.28,424.06 L142.60,424.61 L142.91,425.17 L143.22,425.73 L143.51,426.29 L143.81,426.85 L144.09,427.42 L144.37,427.99 L144.65,428.56 L144.92,429.13 L145.18,429.71 L145.44,430.28 L145.68,430.86 L145.93,431.44 L146.16,432.03 L146.40,432.61 L146.62,433.20 L146.84,433.79 L147.05,434.38 L147.25,434.97 L147.45,435.56 L147.64,436.15 L147.83,436.75 L148.01,437.35 L148.18,437.95 L148.34,438.55 L148.50,439.15 L148.65,439.75 L148.80,440.35 L148.94,440.96 L149.07,441.56 L149.20,442.17 L149.32,442.78 L149.43,443.39 L149.53,444.00 L149.63,444.61 L149.72,445.22 L149.81,445.83 L149.89,446.44 L149.96,447.05 L150.02,447.67 L150.08,448.28 L150.13,448.89 L150.18,449.51 L150.21,450.12 L150.25,450.74 L150.27,451.35 L150.29,451.97 L150.30,452.58 L150.30,453.20" fill="none" stroke="#0a0aff" stroke-width="1.1" stroke-linejoin="round"/>
</g>
<line x1="23.900000000000002" x2="204.9" y1="345.4" y2="345.4" stroke="#000" stroke-opacity="0.4" stroke-width="0.8"/>
<line x1="23.900000000000002" x2="204.9" y1="453.45" y2="453.45" stroke="#000" stroke-opacity="0.6" stroke-width="0.75"/>
<line x1="24.3" x2="24.3" y1="345.4" y2="453.2" stroke="#000" stroke-opacity="0.38" stroke-width="0.8"/>
<line x1="204.5" x2="204.5" y1="345.4" y2="453.2" stroke="#000" stroke-opacity="0.45" stroke-width="0.8"/>
<line x1="24.30" x2="24.30" y1="453.2" y2="454.3" stroke="#000" stroke-opacity="0.7" stroke-width="0.35"/>
<text x="24.30" y="458.20" font-size="3.7" text-anchor="middle" fill="#000">0</text>
<line x1="23.2" x2="24.3" y1="453.20" y2="453.20" stroke="#000" stroke-opacity="0.7" stroke-width="0.35"/>
<text x="21.90" y="454.55" font-size="3.7" text-anchor="end" fill="#000">0</text>
<line x1="56.40" x2="56.40" y1="453.2" y2="454.3" stroke="#000" stroke-opacity="0.7" stroke-width="0.35"/>
<text x="56.40" y="458.20" font-size="3.7" text-anchor="middle" fill="#000">1</text>
<line x1="23.2" x2="24.3" y1="432.15" y2="432.15" stroke="#000" stroke-opacity="0.7" stroke-width="0.35"/>
<text x="21.90" y="433.50" font-size="3.7" text-anchor="end" fill="#000">1</text>
<line x1="88.50" x2="88.50" y1="453.2" y2="454.3" stroke="#000" stroke-opacity="0.7" stroke-width="0.35"/>
<text x="88.50" y="458.20" font-size="3.7" text-anchor="middle" fill="#000">2</text>
<line x1="23.2" x2="24.3" y1="411.10" y2="411.10" stroke="#000" stroke-opacity="0.7" stroke-width="0.35"/>
<text x="21.90" y="412.45" font-size="3.7" text-anchor="end" fill="#000">2</text>
<line x1="120.60" x2="120.60" y1="453.2" y2="454.3" stroke="#000" stroke-opacity="0.7" stroke-width="0.35"/>
<text x="120.60" y="458.20" font-size="3.7" text-anchor="middle" fill="#000">3</text>
<line x1="23.2" x2="24.3" y1="390.05" y2="390.05" stroke="#000" stroke-opacity="0.7" stroke-width="0.35"/>
<text x="21.90" y="391.40" font-size="3.7" text-anchor="end" fill="#000">3</text>
<line x1="152.70" x2="152.70" y1="453.2" y2="454.3" stroke="#000" stroke-opacity="0.7" stroke-width="0.35"/>
<text x="152.70" y="458.20" font-size="3.7" text-anchor="middle" fill="#000">4</text>
<line x1="23.2" x2="24.3" y1="369.00" y2="369.00" stroke="#000" stroke-opacity="0.7" stroke-width="0.35"/>
<text x="21.90" y="370.35" font-size="3.7" text-anchor="end" fill="#000">4</text>
<line x1="184.80" x2="184.80" y1="453.2" y2="454.3" stroke="#000" stroke-opacity="0.7" stroke-width="0.35"/>
<text x="184.80" y="458.20" font-size="3.7" text-anchor="middle" fill="#000">5</text>
<line x1="23.2" x2="24.3" y1="347.95" y2="347.95" stroke="#000" stroke-opacity="0.7" stroke-width="0.35"/>
<text x="21.90" y="349.30" font-size="3.7" text-anchor="end" fill="#000">5</text>
<clipPath id="d01"><rect x="106.4" y="460.1" width="16" height="10"/></clipPath>
<g clip-path="url(#d01)"><text transform="translate(114.20,466.0) scale(1,1.22)" font-size="8.8" font-style="italic" text-anchor="middle" fill="#111" stroke="#111" stroke-width="0.12">d</text></g>
<text transform="translate(17.10,399.40) rotate(-90) scale(0.82,1)" font-size="9.6" font-style="italic" text-anchor="middle" fill="#111" stroke="#111" stroke-width="0.06">ω</text>
<clipPath id="c11"><rect x="263.8" y="345.4" width="180.80" height="107.80"/></clipPath>
<rect x="263.8" y="345.4" width="180.80" height="107.80" fill="#b2d9b2"/>
<g clip-path="url(#c11)">
<path d="M263.80,453.20 L263.80,345.40 L264.40,345.40 L264.40,343.00 L264.40,439.77 L264.40,441.27 L264.40,441.27 L264.40,441.26 L264.41,441.25 L264.41,441.23 L264.42,441.20 L264.43,441.16 L264.45,441.11 L264.46,441.06 L264.48,441.00 L264.50,440.93 L264.53,440.85 L264.56,440.76 L264.59,440.67 L264.62,440.57 L264.65,440.47 L264.69,440.35 L264.73,440.23 L264.77,440.11 L264.82,439.97 L264.87,439.84 L264.92,439.69 L264.97,439.54 L265.03,439.39 L265.08,439.23 L265.14,439.07 L265.21,438.90 L265.27,438.73 L265.34,438.55 L265.41,438.37 L265.48,438.19 L265.56,438.00 L265.64,437.81 L265.72,437.62 L265.80,437.42 L265.88,437.23 L265.97,437.02 L266.06,436.82 L266.15,436.62 L266.25,436.41 L266.35,436.20 L266.45,435.99 L266.55,435.78 L266.65,435.57 L266.76,435.36 L266.87,435.14 L266.98,434.92 L267.09,434.71 L267.21,434.49 L267.33,434.27 L267.45,434.06 L267.57,433.84 L267.69,433.62 L267.82,433.40 L267.95,433.18 L268.08,432.96 L268.22,432.74 L268.35,432.53 L268.49,432.31 L268.63,432.09 L268.77,431.87 L268.92,431.66 L269.06,431.44 L269.21,431.23 L269.36,431.01 L269.52,430.80 L269.67,430.59 L269.83,430.38 L269.99,430.17 L270.15,429.96 L270.31,429.75 L270.47,429.54 L270.64,429.34 L270.81,429.13 L270.98,428.93 L271.15,428.73 L271.33,428.53 L271.50,428.34 L271.68,428.14 L271.86,427.95 L272.04,427.75 L272.22,427.56 L272.41,427.38 L272.60,427.19 L272.78,427.01 L272.97,426.82 L273.17,426.64 L273.36,426.46 L273.55,426.29 L273.75,426.11 L273.95,425.94 L274.15,425.77 L274.35,425.61 L274.55,425.44 L274.75,425.28 L274.96,425.12 L275.17,424.96 L275.37,424.81 L275.58,424.66 L275.80,424.51 L276.01,424.36 L276.22,424.22 L276.44,424.07 L276.65,423.93 L276.87,423.80 L277.09,423.66 L277.31,423.53 L277.53,423.41 L277.75,423.28 L277.97,423.16 L278.20,423.04 L278.42,422.92 L278.65,422.81 L278.88,422.70 L279.11,422.59 L279.34,422.49 L279.57,422.39 L279.80,422.29 L280.03,422.19 L280.26,422.10 L280.50,422.01 L280.73,421.93 L280.97,421.85 L281.20,421.77 L281.44,421.69 L281.68,421.62 L281.92,421.55 L282.16,421.48 L282.40,421.42 L282.64,421.36 L282.88,421.30 L283.12,421.25 L283.36,421.20 L283.60,421.15 L283.85,421.11 L284.09,421.07 L284.33,421.04 L284.58,421.00 L284.82,420.97 L285.07,420.95 L285.31,420.92 L285.56,420.91 L285.80,420.89 L286.05,420.88 L286.30,420.87 L286.54,420.86 L286.79,420.86 L287.04,420.86 L287.28,420.87 L287.53,420.88 L287.78,420.89 L288.02,420.90 L288.27,420.92 L288.52,420.94 L288.76,420.97 L289.01,421.00 L289.26,421.03 L289.50,421.07 L289.75,421.11 L290.00,421.15 L290.24,421.20 L290.49,421.25 L290.73,421.30 L290.98,421.36 L291.22,421.42 L291.47,421.48 L291.71,421.55 L291.95,421.62 L292.20,421.69 L292.44,421.77 L292.68,421.85 L292.92,421.94 L293.16,422.02 L293.40,422.11 L293.64,422.21 L293.88,422.31 L294.12,422.41 L294.36,422.51 L294.60,422.62 L294.83,422.73 L295.07,422.84 L295.30,422.96 L295.54,423.08 L295.77,423.20 L296.00,423.33 L296.23,423.46 L296.46,423.59 L296.69,423.73 L296.92,423.87 L297.15,424.01 L297.38,424.16 L297.60,424.31 L297.83,424.46 L298.05,424.61 L298.27,424.77 L298.49,424.93 L298.71,425.09 L298.93,425.26 L299.15,425.43 L299.36,425.60 L299.58,425.78 L299.79,425.96 L300.00,426.14 L300.22,426.32 L300.42,426.51 L300.63,426.70 L300.84,426.89 L301.05,427.09 L301.25,427.28 L301.45,427.48 L301.65,427.69 L301.85,427.89 L302.05,428.10 L302.25,428.31 L302.44,428.52 L302.63,428.74 L302.83,428.96 L303.02,429.18 L303.20,429.40 L303.39,429.63 L303.58,429.86 L303.76,430.09 L303.94,430.32 L304.12,430.55 L304.30,430.79 L304.47,431.03 L304.65,431.27 L304.82,431.52 L304.99,431.76 L305.16,432.01 L305.33,432.26 L305.49,432.51 L305.65,432.77 L305.81,433.02 L305.97,433.28 L306.13,433.54 L306.28,433.80 L306.44,434.07 L306.59,434.33 L306.74,434.60 L306.88,434.87 L307.03,435.14 L307.17,435.41 L307.31,435.69 L307.45,435.97 L307.58,436.24 L307.72,436.52 L307.85,436.80 L307.98,437.09 L308.11,437.37 L308.23,437.66 L308.35,437.94 L308.47,438.23 L308.59,438.52 L308.71,438.81 L308.82,439.11 L308.93,439.40 L309.04,439.70 L309.15,439.99 L309.25,440.29 L309.35,440.59 L309.45,440.89 L309.55,441.19 L309.65,441.49 L309.74,441.80 L309.83,442.10 L309.92,442.41 L310.00,442.72 L310.08,443.02 L310.16,443.33 L310.24,443.64 L310.32,443.95 L310.39,444.26 L310.46,444.57 L310.53,444.89 L310.59,445.20 L310.66,445.52 L310.72,445.83 L310.77,446.15 L310.83,446.46 L310.88,446.78 L310.93,447.10 L310.98,447.41 L311.03,447.73 L311.07,448.05 L311.11,448.37 L311.15,448.69 L311.18,449.01 L311.21,449.33 L311.24,449.65 L311.27,449.98 L311.29,450.30 L311.32,450.62 L311.34,450.94 L311.35,451.26 L311.37,451.59 L311.38,451.91 L311.39,452.23 L311.39,452.55 L311.40,452.88 L311.40,453.20 L311.40,453.20Z" fill="#ffb2b2"/>
<line x1="263.8" x2="444.6" y1="430.45" y2="430.45" stroke="#707070" stroke-opacity="0.9" stroke-width="0.8" stroke-dasharray="2.75 1.5"/>
<path d="M264.40,343.00 L264.40,439.77 L264.40,441.27 L264.40,441.27 L264.40,441.26 L264.41,441.25 L264.41,441.23 L264.42,441.20 L264.43,441.16 L264.45,441.11 L264.46,441.06 L264.48,441.00 L264.50,440.93 L264.53,440.85 L264.56,440.76 L264.59,440.67 L264.62,440.57 L264.65,440.47 L264.69,440.35 L264.73,440.23 L264.77,440.11 L264.82,439.97 L264.87,439.84 L264.92,439.69 L264.97,439.54 L265.03,439.39 L265.08,439.23 L265.14,439.07 L265.21,438.90 L265.27,438.73 L265.34,438.55 L265.41,438.37 L265.48,438.19 L265.56,438.00 L265.64,437.81 L265.72,437.62 L265.80,437.42 L265.88,437.23 L265.97,437.02 L266.06,436.82 L266.15,436.62 L266.25,436.41 L266.35,436.20 L266.45,435.99 L266.55,435.78 L266.65,435.57 L266.76,435.36 L266.87,435.14 L266.98,434.92 L267.09,434.71 L267.21,434.49 L267.33,434.27 L267.45,434.06 L267.57,433.84 L267.69,433.62 L267.82,433.40 L267.95,433.18 L268.08,432.96 L268.22,432.74 L268.35,432.53 L268.49,432.31 L268.63,432.09 L268.77,431.87 L268.92,431.66 L269.06,431.44 L269.21,431.23 L269.36,431.01 L269.52,430.80 L269.67,430.59 L269.83,430.38 L269.99,430.17 L270.15,429.96 L270.31,429.75 L270.47,429.54 L270.64,429.34 L270.81,429.13 L270.98,428.93 L271.15,428.73 L271.33,428.53 L271.50,428.34 L271.68,428.14 L271.86,427.95 L272.04,427.75 L272.22,427.56 L272.41,427.38 L272.60,427.19 L272.78,427.01 L272.97,426.82 L273.17,426.64 L273.36,426.46 L273.55,426.29 L273.75,426.11 L273.95,425.94 L274.15,425.77 L274.35,425.61 L274.55,425.44 L274.75,425.28 L274.96,425.12 L275.17,424.96 L275.37,424.81 L275.58,424.66 L275.80,424.51 L276.01,424.36 L276.22,424.22 L276.44,424.07 L276.65,423.93 L276.87,423.80 L277.09,423.66 L277.31,423.53 L277.53,423.41 L277.75,423.28 L277.97,423.16 L278.20,423.04 L278.42,422.92 L278.65,422.81 L278.88,422.70 L279.11,422.59 L279.34,422.49 L279.57,422.39 L279.80,422.29 L280.03,422.19 L280.26,422.10 L280.50,422.01 L280.73,421.93 L280.97,421.85 L281.20,421.77 L281.44,421.69 L281.68,421.62 L281.92,421.55 L282.16,421.48 L282.40,421.42 L282.64,421.36 L282.88,421.30 L283.12,421.25 L283.36,421.20 L283.60,421.15 L283.85,421.11 L284.09,421.07 L284.33,421.04 L284.58,421.00 L284.82,420.97 L285.07,420.95 L285.31,420.92 L285.56,420.91 L285.80,420.89 L286.05,420.88 L286.30,420.87 L286.54,420.86 L286.79,420.86 L287.04,420.86 L287.28,420.87 L287.53,420.88 L287.78,420.89 L288.02,420.90 L288.27,420.92 L288.52,420.94 L288.76,420.97 L289.01,421.00 L289.26,421.03 L289.50,421.07 L289.75,421.11 L290.00,421.15 L290.24,421.20 L290.49,421.25 L290.73,421.30 L290.98,421.36 L291.22,421.42 L291.47,421.48 L291.71,421.55 L291.95,421.62 L292.20,421.69 L292.44,421.77 L292.68,421.85 L292.92,421.94 L293.16,422.02 L293.40,422.11 L293.64,422.21 L293.88,422.31 L294.12,422.41 L294.36,422.51 L294.60,422.62 L294.83,422.73 L295.07,422.84 L295.30,422.96 L295.54,423.08 L295.77,423.20 L296.00,423.33 L296.23,423.46 L296.46,423.59 L296.69,423.73 L296.92,423.87 L297.15,424.01 L297.38,424.16 L297.60,424.31 L297.83,424.46 L298.05,424.61 L298.27,424.77 L298.49,424.93 L298.71,425.09 L298.93,425.26 L299.15,425.43 L299.36,425.60 L299.58,425.78 L299.79,425.96 L300.00,426.14 L300.22,426.32 L300.42,426.51 L300.63,426.70 L300.84,426.89 L301.05,427.09 L301.25,427.28 L301.45,427.48 L301.65,427.69 L301.85,427.89 L302.05,428.10 L302.25,428.31 L302.44,428.52 L302.63,428.74 L302.83,428.96 L303.02,429.18 L303.20,429.40 L303.39,429.63 L303.58,429.86 L303.76,430.09 L303.94,430.32 L304.12,430.55 L304.30,430.79 L304.47,431.03 L304.65,431.27 L304.82,431.52 L304.99,431.76 L305.16,432.01 L305.33,432.26 L305.49,432.51 L305.65,432.77 L305.81,433.02 L305.97,433.28 L306.13,433.54 L306.28,433.80 L306.44,434.07 L306.59,434.33 L306.74,434.60 L306.88,434.87 L307.03,435.14 L307.17,435.41 L307.31,435.69 L307.45,435.97 L307.58,436.24 L307.72,436.52 L307.85,436.80 L307.98,437.09 L308.11,437.37 L308.23,437.66 L308.35,437.94 L308.47,438.23 L308.59,438.52 L308.71,438.81 L308.82,439.11 L308.93,439.40 L309.04,439.70 L309.15,439.99 L309.25,440.29 L309.35,440.59 L309.45,440.89 L309.55,441.19 L309.65,441.49 L309.74,441.80 L309.83,442.10 L309.92,442.41 L310.00,442.72 L310.08,443.02 L310.16,443.33 L310.24,443.64 L310.32,443.95 L310.39,444.26 L310.46,444.57 L310.53,444.89 L310.59,445.20 L310.66,445.52 L310.72,445.83 L310.77,446.15 L310.83,446.46 L310.88,446.78 L310.93,447.10 L310.98,447.41 L311.03,447.73 L311.07,448.05 L311.11,448.37 L311.15,448.69 L311.18,449.01 L311.21,449.33 L311.24,449.65 L311.27,449.98 L311.29,450.30 L311.32,450.62 L311.34,450.94 L311.35,451.26 L311.37,451.59 L311.38,451.91 L311.39,452.23 L311.39,452.55 L311.40,452.88 L311.40,453.20" fill="none" stroke="#0a0aff" stroke-width="1.1" stroke-linejoin="round"/>
</g>
<line x1="263.40000000000003" x2="445.0" y1="345.4" y2="345.4" stroke="#000" stroke-opacity="0.4" stroke-width="0.8"/>
<line x1="263.40000000000003" x2="445.0" y1="453.45" y2="453.45" stroke="#000" stroke-opacity="0.6" stroke-width="0.75"/>
<line x1="263.8" x2="263.8" y1="345.4" y2="453.2" stroke="#000" stroke-opacity="0.38" stroke-width="0.8"/>
<line x1="444.6" x2="444.6" y1="345.4" y2="453.2" stroke="#000" stroke-opacity="0.45" stroke-width="0.8"/>
<line x1="263.80" x2="263.80" y1="453.2" y2="454.3" stroke="#000" stroke-opacity="0.7" stroke-width="0.35"/>
<text x="263.80" y="458.20" font-size="3.7" text-anchor="middle" fill="#000">0</text>
<line x1="262.7" x2="263.8" y1="453.20" y2="453.20" stroke="#000" stroke-opacity="0.7" stroke-width="0.35"/>
<text x="261.40" y="454.55" font-size="3.7" text-anchor="end" fill="#000">0</text>
<line x1="295.90" x2="295.90" y1="453.2" y2="454.3" stroke="#000" stroke-opacity="0.7" stroke-width="0.35"/>
<text x="295.90" y="458.20" font-size="3.7" text-anchor="middle" fill="#000">1</text>
<line x1="262.7" x2="263.8" y1="432.15" y2="432.15" stroke="#000" stroke-opacity="0.7" stroke-width="0.35"/>
<text x="261.40" y="433.50" font-size="3.7" text-anchor="end" fill="#000">1</text>
<line x1="328.00" x2="328.00" y1="453.2" y2="454.3" stroke="#000" stroke-opacity="0.7" stroke-width="0.35"/>
<text x="328.00" y="458.20" font-size="3.7" text-anchor="middle" fill="#000">2</text>
<line x1="262.7" x2="263.8" y1="411.10" y2="411.10" stroke="#000" stroke-opacity="0.7" stroke-width="0.35"/>
<text x="261.40" y="412.45" font-size="3.7" text-anchor="end" fill="#000">2</text>
<line x1="360.10" x2="360.10" y1="453.2" y2="454.3" stroke="#000" stroke-opacity="0.7" stroke-width="0.35"/>
<text x="360.10" y="458.20" font-size="3.7" text-anchor="middle" fill="#000">3</text>
<line x1="262.7" x2="263.8" y1="390.05" y2="390.05" stroke="#000" stroke-opacity="0.7" stroke-width="0.35"/>
<text x="261.40" y="391.40" font-size="3.7" text-anchor="end" fill="#000">3</text>
<line x1="392.20" x2="392.20" y1="453.2" y2="454.3" stroke="#000" stroke-opacity="0.7" stroke-width="0.35"/>
<text x="392.20" y="458.20" font-size="3.7" text-anchor="middle" fill="#000">4</text>
<line x1="262.7" x2="263.8" y1="369.00" y2="369.00" stroke="#000" stroke-opacity="0.7" stroke-width="0.35"/>
<text x="261.40" y="370.35" font-size="3.7" text-anchor="end" fill="#000">4</text>
<line x1="424.30" x2="424.30" y1="453.2" y2="454.3" stroke="#000" stroke-opacity="0.7" stroke-width="0.35"/>
<text x="424.30" y="458.20" font-size="3.7" text-anchor="middle" fill="#000">5</text>
<line x1="262.7" x2="263.8" y1="347.95" y2="347.95" stroke="#000" stroke-opacity="0.7" stroke-width="0.35"/>
<text x="261.40" y="349.30" font-size="3.7" text-anchor="end" fill="#000">5</text>
<clipPath id="d11"><rect x="346.20000000000005" y="460.1" width="16" height="10"/></clipPath>
<g clip-path="url(#d11)"><text transform="translate(354.00,466.0) scale(1,1.22)" font-size="8.8" font-style="italic" text-anchor="middle" fill="#111" stroke="#111" stroke-width="0.12">d</text></g>
<text transform="translate(256.60,399.40) rotate(-90) scale(0.82,1)" font-size="9.6" font-style="italic" text-anchor="middle" fill="#111" stroke="#111" stroke-width="0.06">ω</text>
<clipPath id="c21"><rect x="504.3" y="345.4" width="180.10" height="107.80"/></clipPath>
<rect x="504.3" y="345.4" width="180.10" height="107.80" fill="#b2d9b2"/>
<g clip-path="url(#c21)">
<path d="M504.30,453.20 L504.30,345.40 L504.50,345.40 L504.50,343.00 L504.50,444.50 L504.60,446.00 L504.90,446.40 L504.90,446.23 L504.90,446.01 L504.91,445.75 L504.93,445.45 L504.97,445.13 L505.02,444.78 L505.08,444.41 L505.16,444.04 L505.26,443.67 L505.37,443.31 L505.51,442.97 L505.66,442.65 L505.84,442.37 L506.03,442.12 L506.26,441.92 L506.50,441.77 L506.76,441.69 L507.03,441.67 L507.29,441.72 L507.54,441.84 L507.78,442.01 L508.00,442.22 L508.21,442.45 L508.41,442.69 L508.59,442.94 L508.75,443.20 L508.91,443.46 L509.05,443.73 L509.18,444.01 L509.30,444.30 L509.41,444.58 L509.50,444.88 L509.59,445.18 L509.67,445.48 L509.74,445.78 L509.81,446.09 L509.87,446.41 L509.92,446.72 L509.96,447.04 L510.00,447.36 L510.04,447.68 L510.07,448.00 L510.10,448.32 L510.12,448.64 L510.14,448.96 L510.17,449.28 L510.19,449.60 L510.21,449.92 L510.23,450.24 L510.25,450.55 L510.28,450.86 L510.30,451.17 L510.33,451.47 L510.37,451.77 L510.40,452.07 L510.44,452.36 L510.49,452.64 L510.54,452.92 L510.60,453.20 L510.60,453.20Z" fill="#ffb2b2"/>
<line x1="504.3" x2="684.4" y1="430.45" y2="430.45" stroke="#707070" stroke-opacity="0.9" stroke-width="0.8" stroke-dasharray="2.75 1.5"/>
<path d="M504.50,343.00 L504.50,444.50 L504.60,446.00 L504.90,446.40 L504.90,446.23 L504.90,446.01 L504.91,445.75 L504.93,445.45 L504.97,445.13 L505.02,444.78 L505.08,444.41 L505.16,444.04 L505.26,443.67 L505.37,443.31 L505.51,442.97 L505.66,442.65 L505.84,442.37 L506.03,442.12 L506.26,441.92 L506.50,441.77 L506.76,441.69 L507.03,441.67 L507.29,441.72 L507.54,441.84 L507.78,442.01 L508.00,442.22 L508.21,442.45 L508.41,442.69 L508.59,442.94 L508.75,443.20 L508.91,443.46 L509.05,443.73 L509.18,444.01 L509.30,444.30 L509.41,444.58 L509.50,444.88 L509.59,445.18 L509.67,445.48 L509.74,445.78 L509.81,446.09 L509.87,446.41 L509.92,446.72 L509.96,447.04 L510.00,447.36 L510.04,447.68 L510.07,448.00 L510.10,448.32 L510.12,448.64 L510.14,448.96 L510.17,449.28 L510.19,449.60 L510.21,449.92 L510.23,450.24 L510.25,450.55 L510.28,450.86 L510.30,451.17 L510.33,451.47 L510.37,451.77 L510.40,452.07 L510.44,452.36 L510.49,452.64 L510.54,452.92 L510.60,453.20" fill="none" stroke="#0a0aff" stroke-width="1.1" stroke-linejoin="round"/>
</g>
<line x1="503.90000000000003" x2="684.8" y1="345.4" y2="345.4" stroke="#000" stroke-opacity="0.4" stroke-width="0.8"/>
<line x1="503.90000000000003" x2="684.8" y1="453.45" y2="453.45" stroke="#000" stroke-opacity="0.6" stroke-width="0.75"/>
<line x1="504.3" x2="504.3" y1="345.4" y2="453.2" stroke="#000" stroke-opacity="0.38" stroke-width="0.8"/>
<line x1="504.30" x2="504.30" y1="453.2" y2="454.3" stroke="#000" stroke-opacity="0.7" stroke-width="0.35"/>
<text x="504.30" y="458.20" font-size="3.7" text-anchor="middle" fill="#000">0</text>
<line x1="503.2" x2="504.3" y1="453.20" y2="453.20" stroke="#000" stroke-opacity="0.7" stroke-width="0.35"/>
<text x="501.90" y="454.55" font-size="3.7" text-anchor="end" fill="#000">0</text>
<line x1="536.40" x2="536.40" y1="453.2" y2="454.3" stroke="#000" stroke-opacity="0.7" stroke-width="0.35"/>
<text x="536.40" y="458.20" font-size="3.7" text-anchor="middle" fill="#000">1</text>
<line x1="503.2" x2="504.3" y1="432.15" y2="432.15" stroke="#000" stroke-opacity="0.7" stroke-width="0.35"/>
<text x="501.90" y="433.50" font-size="3.7" text-anchor="end" fill="#000">1</text>
<line x1="568.50" x2="568.50" y1="453.2" y2="454.3" stroke="#000" stroke-opacity="0.7" stroke-width="0.35"/>
<text x="568.50" y="458.20" font-size="3.7" text-anchor="middle" fill="#000">2</text>
<line x1="503.2" x2="504.3" y1="411.10" y2="411.10" stroke="#000" stroke-opacity="0.7" stroke-width="0.35"/>
<text x="501.90" y="412.45" font-size="3.7" text-anchor="end" fill="#000">2</text>
<line x1="600.60" x2="600.60" y1="453.2" y2="454.3" stroke="#000" stroke-opacity="0.7" stroke-width="0.35"/>
<text x="600.60" y="458.20" font-size="3.7" text-anchor="middle" fill="#000">3</text>
<line x1="503.2" x2="504.3" y1="390.05" y2="390.05" stroke="#000" stroke-opacity="0.7" stroke-width="0.35"/>
<text x="501.90" y="391.40" font-size="3.7" text-anchor="end" fill="#000">3</text>
<line x1="632.70" x2="632.70" y1="453.2" y2="454.3" stroke="#000" stroke-opacity="0.7" stroke-width="0.35"/>
<text x="632.70" y="458.20" font-size="3.7" text-anchor="middle" fill="#000">4</text>
<line x1="503.2" x2="504.3" y1="369.00" y2="369.00" stroke="#000" stroke-opacity="0.7" stroke-width="0.35"/>
<text x="501.90" y="370.35" font-size="3.7" text-anchor="end" fill="#000">4</text>
<line x1="664.80" x2="664.80" y1="453.2" y2="454.3" stroke="#000" stroke-opacity="0.7" stroke-width="0.35"/>
<text x="664.80" y="458.20" font-size="3.7" text-anchor="middle" fill="#000">5</text>
<line x1="503.2" x2="504.3" y1="347.95" y2="347.95" stroke="#000" stroke-opacity="0.7" stroke-width="0.35"/>
<text x="501.90" y="349.30" font-size="3.7" text-anchor="end" fill="#000">5</text>
<clipPath id="d21"><rect x="586.35" y="460.1" width="16" height="10"/></clipPath>
<g clip-path="url(#d21)"><text transform="translate(594.15,466.0) scale(1,1.22)" font-size="8.8" font-style="italic" text-anchor="middle" fill="#111" stroke="#111" stroke-width="0.12">d</text></g>
<text transform="translate(497.10,399.40) rotate(-90) scale(0.82,1)" font-size="9.6" font-style="italic" text-anchor="middle" fill="#111" stroke="#111" stroke-width="0.06">ω</text>
<rect x="24.0" y="172.7" width="180.70" height="107.60" fill="#fff"/>
<line x1="24.0" x2="204.7" y1="198.90" y2="198.90" stroke="#a2a2a2" stroke-width="1.5" stroke-dasharray="2.6 1.6"/>
<path d="M31.90,218.10 L31.92,218.83 L31.94,219.56 L31.96,220.29 L31.98,221.02 L32.00,221.74 L32.02,222.47 L32.04,223.20 L32.06,223.93 L32.07,224.66 L32.09,225.39 L32.10,226.12 L32.12,226.85 L32.13,227.57 L32.14,228.30 L32.15,229.03 L32.16,229.76 L32.17,230.49 L32.18,231.22 L32.19,231.95 L32.20,232.68 L32.20,233.41 L32.21,234.13 L32.22,234.86 L32.23,235.59 L32.24,236.32 L32.25,237.05 L32.26,237.78 L32.27,238.51 L32.29,239.24 L32.30,239.96 L32.31,240.69 L32.33,241.42 L32.34,242.15 L32.36,242.88 L32.38,243.61 L32.39,244.34 L32.41,245.07 L32.43,245.79 L32.45,246.52 L32.47,247.25 L32.50,247.98 L32.52,248.71 L32.54,249.44 L32.57,250.17 L32.59,250.90 L32.62,251.63 L32.65,252.35 L32.68,253.08 L32.71,253.81 L32.75,254.54 L32.78,255.27 L32.82,256.00 L32.87,256.73 L32.92,257.46 L32.98,258.18 L33.06,258.91 L33.15,259.64 L33.31,260.37 L33.50,261.10 L33.66,260.68 L33.81,260.25 L33.94,259.82 L34.06,259.39 L34.17,258.95 L34.27,258.51 L34.36,258.07 L34.44,257.62 L34.52,257.18 L34.59,256.73 L34.66,256.29 L34.72,255.84 L34.79,255.39 L34.85,254.94 L34.91,254.50 L34.98,254.05 L35.04,253.60 L35.10,253.15 L35.16,252.71 L35.23,252.26 L35.29,251.81 L35.35,251.36 L35.41,250.92 L35.48,250.47 L35.54,250.02 L35.60,249.58 L35.67,249.13 L35.73,248.69 L35.79,248.24 L35.86,247.79 L35.92,247.35 L35.98,246.90 L36.05,246.45 L36.11,246.01 L36.18,245.56 L36.24,245.12 L36.31,244.67 L36.37,244.23 L36.44,243.78 L36.50,243.33 L36.57,242.89 L36.64,242.44 L36.71,242.00 L36.78,241.55 L36.84,241.10 L36.91,240.66 L36.98,240.21 L37.05,239.77 L37.12,239.32 L37.19,238.88 L37.26,238.43 L37.32,237.98 L37.39,237.54 L37.46,237.09 L37.53,236.65 L37.59,236.20 L37.66,235.75 L37.72,235.31 L37.79,234.86 L37.85,234.41 L37.91,233.97 L37.98,233.52 L38.04,233.07 L38.09,232.63 L38.15,232.18 L38.21,231.73 L38.26,231.28 L38.32,230.84 L38.37,230.39 L38.42,229.94 L38.47,229.49 L38.51,229.04 L38.56,228.59 L38.60,228.14 L38.64,227.69 L38.69,227.25 L38.73,226.80 L38.77,226.35 L38.81,225.90 L38.85,225.45 L38.89,225.00 L38.92,224.55 L38.96,224.10 L39.00,223.65 L39.04,223.20 L39.08,222.75 L39.12,222.30 L39.16,221.85 L39.20,221.40 L39.24,220.95 L39.29,220.50 L39.33,220.06 L39.38,219.61 L39.42,219.16 L39.47,218.71 L39.52,218.26 L39.57,217.81 L39.63,217.37 L39.68,216.92 L39.74,216.47 L39.80,216.03 L39.87,215.58 L39.93,215.13 L40.00,214.69 L40.06,214.24 L40.13,213.80 L40.20,213.35 L40.27,212.90 L40.35,212.46 L40.42,212.01 L40.49,211.57 L40.56,211.12 L40.64,210.68 L40.71,210.23 L40.78,209.79 L40.86,209.34 L40.93,208.90 L41.00,208.45 L41.07,208.01 L41.14,207.56 L41.20,207.11 L41.27,206.67 L41.34,206.22 L41.40,205.78 L41.47,205.33 L41.53,204.88 L41.59,204.44 L41.66,203.99 L41.72,203.54 L41.78,203.10 L41.84,202.65 L41.91,202.20 L41.97,201.76 L42.03,201.31 L42.10,200.86 L42.16,200.42 L42.23,199.97 L42.29,199.52 L42.36,199.08 L42.43,198.63 L42.49,198.19 L42.56,197.74 L42.64,197.29 L42.71,196.85 L42.78,196.40 L42.86,195.96 L42.93,195.51 L43.01,195.07 L43.09,194.63 L43.17,194.18 L43.26,193.74 L43.34,193.29 L43.43,192.85 L43.52,192.41 L43.61,191.97 L43.70,191.53 L43.79,191.09 L43.89,190.64 L43.99,190.20 L44.09,189.76 L44.19,189.33 L44.30,188.89 L44.41,188.45 L44.52,188.01 L44.63,187.58 L44.75,187.14 L44.87,186.71 L45.00,186.27 L45.13,185.84 L45.26,185.41 L45.40,184.98 L45.55,184.55 L45.70,184.13 L45.85,183.70 L46.01,183.28 L46.18,182.86 L46.35,182.44 L46.53,182.02 L46.72,181.61 L46.92,181.20 L47.13,180.80 L47.35,180.40 L47.59,180.02 L47.85,179.65 L48.13,179.29 L48.44,178.96 L48.77,178.64 L49.13,178.34 L49.51,178.07 L49.92,177.84 L50.34,177.65 L50.77,177.51 L51.21,177.42 L51.65,177.39 L52.09,177.43 L52.53,177.51 L52.97,177.65 L53.40,177.82 L53.82,178.03 L54.23,178.26 L54.62,178.52 L55.00,178.78 L55.37,179.06 L55.72,179.36 L56.05,179.66 L56.38,179.97 L56.69,180.29 L57.00,180.62 L57.30,180.96 L57.59,181.30 L57.88,181.64 L58.16,181.99 L58.44,182.35 L58.72,182.70 L58.99,183.06 L59.26,183.42 L59.53,183.79 L59.79,184.15 L60.05,184.52 L60.31,184.89 L60.57,185.26 L60.82,185.64 L61.07,186.01 L61.32,186.39 L61.57,186.76 L61.82,187.14 L62.06,187.52 L62.31,187.90 L62.55,188.28 L62.79,188.66 L63.03,189.04 L63.27,189.42 L63.51,189.80 L63.75,190.19 L63.98,190.57 L64.22,190.96 L64.46,191.34 L64.69,191.72 L64.93,192.11 L65.16,192.49 L65.40,192.88 L65.63,193.26 L65.87,193.65 L66.10,194.04 L66.34,194.42 L66.57,194.81 L66.80,195.19 L67.04,195.58 L67.27,195.96 L67.51,196.35 L67.74,196.73 L67.97,197.12 L68.21,197.50 L68.44,197.89 L68.68,198.27 L68.91,198.66 L69.15,199.04 L69.38,199.43 L69.62,199.81 L69.86,200.20 L70.09,200.58 L70.33,200.96 L70.57,201.35 L70.81,201.73 L71.05,202.11 L71.29,202.50 L71.53,202.88 L71.77,203.26 L72.01,203.64 L72.25,204.02 L72.49,204.40 L72.74,204.78 L72.98,205.16 L73.22,205.54 L73.47,205.92 L73.71,206.30 L73.96,206.67 L74.21,207.05 L74.45,207.43 L74.70,207.81 L74.95,208.18 L75.20,208.56 L75.45,208.93 L75.71,209.31 L75.96,209.68 L76.21,210.05 L76.47,210.43 L76.72,210.80 L76.98,211.17 L77.23,211.54 L77.49,211.91 L77.75,212.28 L78.01,212.65 L78.27,213.02 L78.53,213.38 L78.79,213.75 L79.06,214.12 L79.32,214.48 L79.59,214.85 L79.85,215.21 L80.12,215.57 L80.39,215.94 L80.66,216.30 L80.93,216.66 L81.20,217.02 L81.47,217.38 L81.75,217.74 L82.02,218.09 L82.30,218.45 L82.58,218.81 L82.85,219.16 L83.13,219.52 L83.41,219.87 L83.69,220.22 L83.98,220.57 L84.26,220.92 L84.55,221.27 L84.83,221.62 L85.12,221.97 L85.41,222.32 L85.70,222.66 L85.99,223.01 L86.28,223.35 L86.57,223.70 L86.86,224.04 L87.16,224.38 L87.46,224.72 L87.75,225.06 L88.05,225.40 L88.35,225.73 L88.65,226.07 L88.95,226.41 L89.26,226.74 L89.56,227.07 L89.87,227.40 L90.17,227.73 L90.48,228.06 L90.79,228.39 L91.10,228.72 L91.41,229.05 L91.73,229.37 L92.04,229.69 L92.36,230.02 L92.67,230.34 L92.99,230.66 L93.31,230.98 L93.63,231.30 L93.95,231.61 L94.27,231.93 L94.60,232.24 L94.92,232.56 L95.25,232.87 L95.57,233.18 L95.90,233.49 L96.23,233.80 L96.56,234.10 L96.89,234.41 L97.23,234.71 L97.56,235.02 L97.90,235.32 L98.23,235.62 L98.57,235.92 L98.91,236.21 L99.25,236.51 L99.59,236.81 L99.93,237.10 L100.27,237.39 L100.62,237.69 L100.96,237.98 L101.31,238.26 L101.66,238.55 L102.01,238.84 L102.36,239.12 L102.71,239.41 L103.06,239.69 L103.41,239.97 L103.77,240.25 L104.12,240.53 L104.48,240.80 L104.83,241.08 L105.19,241.35 L105.55,241.63 L105.91,241.90 L106.27,242.17 L106.63,242.44 L107.00,242.70 L107.36,242.97 L107.73,243.23 L108.09,243.50 L108.46,243.76 L108.83,244.02 L109.20,244.28 L109.57,244.54 L109.94,244.79 L110.31,245.05 L110.68,245.30 L111.06,245.55 L111.43,245.80 L111.81,246.05 L112.19,246.30 L112.56,246.55 L112.94,246.80 L113.32,247.04 L113.70,247.28 L114.08,247.52 L114.46,247.76 L114.85,248.00 L115.23,248.24 L115.61,248.48 L116.00,248.71 L116.38,248.95 L116.77,249.18 L117.16,249.41 L117.55,249.64 L117.93,249.87 L118.32,250.10 L118.71,250.32 L119.11,250.55 L119.50,250.77 L119.89,250.99 L120.28,251.21 L120.68,251.43 L121.07,251.65 L121.47,251.87 L121.86,252.08 L122.26,252.30 L122.66,252.51 L123.06,252.72 L123.46,252.93 L123.85,253.14 L124.25,253.35 L124.66,253.56 L125.06,253.76 L125.46,253.97 L125.86,254.17 L126.26,254.37 L126.67,254.57 L127.07,254.77 L127.48,254.97 L127.88,255.17 L128.29,255.37 L128.70,255.56 L129.10,255.75 L129.51,255.95 L129.92,256.14 L130.33,256.33 L130.74,256.52 L131.15,256.71 L131.56,256.89 L131.97,257.08 L132.38,257.26 L132.79,257.45 L133.20,257.63 L133.62,257.81 L134.03,257.99 L134.45,258.17 L134.86,258.35 L135.27,258.53 L135.69,258.70 L136.10,258.88 L136.52,259.05 L136.94,259.23 L137.35,259.40 L137.77,259.57 L138.19,259.74 L138.61,259.91 L139.03,260.08 L139.45,260.24 L139.86,260.41 L140.28,260.57 L140.70,260.74 L141.13,260.90 L141.55,261.06 L141.97,261.22 L142.39,261.38 L142.81,261.54 L143.23,261.70 L143.66,261.86 L144.08,262.02 L144.50,262.17 L144.93,262.33 L145.35,262.48 L145.78,262.63 L146.20,262.78 L146.62,262.94 L147.05,263.09 L147.48,263.23 L147.90,263.38 L148.33,263.53 L148.75,263.68 L149.18,263.82 L149.61,263.97 L150.04,264.11 L150.46,264.25 L150.89,264.40 L151.32,264.54 L151.75,264.68 L152.18,264.82 L152.61,264.96 L153.04,265.10 L153.47,265.23 L153.90,265.37 L154.33,265.51 L154.76,265.64 L155.19,265.78 L155.62,265.91 L156.05,266.04 L156.48,266.17 L156.91,266.30 L157.34,266.44 L157.77,266.56 L158.21,266.69 L158.64,266.82 L159.07,266.95 L159.50,267.08 L159.94,267.20 L160.37,267.33 L160.80,267.45 L161.24,267.58 L161.67,267.70 L162.11,267.82 L162.54,267.94 L162.97,268.07 L163.41,268.19 L163.84,268.31 L164.28,268.43 L164.71,268.54 L165.15,268.66 L165.59,268.78 L166.02,268.90 L166.46,269.01 L166.89,269.13 L167.33,269.24 L167.77,269.36 L168.20,269.47 L168.64,269.58 L169.08,269.70 L169.51,269.81 L169.95,269.92 L170.39,270.03 L170.82,270.14 L171.26,270.25 L171.70,270.36 L172.14,270.46 L172.58,270.57 L173.01,270.68 L173.45,270.78 L173.89,270.89 L174.33,271.00 L174.77,271.10 L175.21,271.20 L175.65,271.31 L176.09,271.41 L176.52,271.51 L176.96,271.62 L177.40,271.72 L177.84,271.82 L178.28,271.92 L178.72,272.02 L179.16,272.12 L179.60,272.22 L180.04,272.31 L180.48,272.41 L180.92,272.51 L181.36,272.61 L181.81,272.70 L182.25,272.80 L182.69,272.89 L183.13,272.99 L183.57,273.08 L184.01,273.18 L184.45,273.27 L184.89,273.36 L185.33,273.45 L185.78,273.55 L186.22,273.64 L186.66,273.73 L187.10,273.82 L187.54,273.91 L187.99,274.00 L188.43,274.09 L188.87,274.18 L189.31,274.26 L189.75,274.35 L190.20,274.44 L190.64,274.53 L191.08,274.61 L191.52,274.70 L191.97,274.79 L192.41,274.87 L192.85,274.96 L193.30,275.04 L193.74,275.12 L194.18,275.21 L194.63,275.29 L195.07,275.37 L195.51,275.46 L195.96,275.54 L196.40,275.62" fill="none" stroke="#2378b5" stroke-width="1.22" stroke-linejoin="round"/>
<line x1="23.25" x2="205.17499999999998" y1="172.7" y2="172.7" stroke="#cdcdcd" stroke-width="1.5"/>
<line x1="23.25" x2="205.17499999999998" y1="280.3" y2="280.3" stroke="#8a8a8a" stroke-width="0.95"/>
<line x1="24.0" x2="24.0" y1="172.7" y2="280.3" stroke="#cdcdcd" stroke-width="1.5"/>
<line x1="204.7" x2="204.7" y1="172.7" y2="280.3" stroke="#8a8a8a" stroke-width="0.95"/>
<line x1="32.45" x2="32.45" y1="280.3" y2="281.40000000000003" stroke="#000" stroke-opacity="0.7" stroke-width="0.35"/>
<text x="32.45" y="285.60" font-size="3.5" text-anchor="middle" fill="#000">0</text>
<line x1="52.62" x2="52.62" y1="280.3" y2="281.40000000000003" stroke="#000" stroke-opacity="0.7" stroke-width="0.35"/>
<text x="52.62" y="285.60" font-size="3.5" text-anchor="middle" fill="#000">1</text>
<line x1="72.79" x2="72.79" y1="280.3" y2="281.40000000000003" stroke="#000" stroke-opacity="0.7" stroke-width="0.35"/>
<text x="72.79" y="285.60" font-size="3.5" text-anchor="middle" fill="#000">2</text>
<line x1="92.96" x2="92.96" y1="280.3" y2="281.40000000000003" stroke="#000" stroke-opacity="0.7" stroke-width="0.35"/>
<text x="92.96" y="285.60" font-size="3.5" text-anchor="middle" fill="#000">3</text>
<line x1="113.13" x2="113.13" y1="280.3" y2="281.40000000000003" stroke="#000" stroke-opacity="0.7" stroke-width="0.35"/>
<text x="113.13" y="285.60" font-size="3.5" text-anchor="middle" fill="#000">4</text>
<line x1="133.30" x2="133.30" y1="280.3" y2="281.40000000000003" stroke="#000" stroke-opacity="0.7" stroke-width="0.35"/>
<text x="133.30" y="285.60" font-size="3.5" text-anchor="middle" fill="#000">5</text>
<line x1="153.47" x2="153.47" y1="280.3" y2="281.40000000000003" stroke="#000" stroke-opacity="0.7" stroke-width="0.35"/>
<text x="153.47" y="285.60" font-size="3.5" text-anchor="middle" fill="#000">6</text>
<line x1="173.64" x2="173.64" y1="280.3" y2="281.40000000000003" stroke="#000" stroke-opacity="0.7" stroke-width="0.35"/>
<text x="173.64" y="285.60" font-size="3.5" text-anchor="middle" fill="#000">7</text>
<line x1="193.81" x2="193.81" y1="280.3" y2="281.40000000000003" stroke="#000" stroke-opacity="0.7" stroke-width="0.35"/>
<text x="193.81" y="285.60" font-size="3.5" text-anchor="middle" fill="#000">8</text>
<line x1="22.9" x2="24.0" y1="179.45" y2="179.45" stroke="#000" stroke-opacity="0.7" stroke-width="0.35"/>
<text x="21.40" y="180.75" font-size="3.3" text-anchor="end" fill="#000">0.001</text>
<line x1="22.9" x2="24.0" y1="198.90" y2="198.90" stroke="#000" stroke-opacity="0.7" stroke-width="0.35"/>
<text x="21.40" y="200.20" font-size="3.3" text-anchor="end" fill="#000">0.000</text>
<line x1="22.9" x2="24.0" y1="218.35" y2="218.35" stroke="#000" stroke-opacity="0.7" stroke-width="0.35"/>
<text x="21.40" y="219.65" font-size="3.3" text-anchor="end" fill="#000">−0.001</text>
<line x1="22.9" x2="24.0" y1="237.80" y2="237.80" stroke="#000" stroke-opacity="0.7" stroke-width="0.35"/>
<text x="21.40" y="239.10" font-size="3.3" text-anchor="end" fill="#000">−0.002</text>
<line x1="22.9" x2="24.0" y1="257.25" y2="257.25" stroke="#000" stroke-opacity="0.7" stroke-width="0.35"/>
<text x="21.40" y="258.55" font-size="3.3" text-anchor="end" fill="#000">−0.003</text>
<line x1="22.9" x2="24.0" y1="276.70" y2="276.70" stroke="#000" stroke-opacity="0.7" stroke-width="0.35"/>
<text x="21.40" y="278.00" font-size="3.3" text-anchor="end" fill="#000">−0.004</text>
<text x="114.05" y="293.90" font-size="8.7" text-anchor="middle" fill="#222">d</text>
<text transform="translate(6.30,226.45) rotate(-90) scale(0.76,1)" font-size="9.2" font-style="italic" text-anchor="middle" fill="#151515">λ</text>
<rect x="263.7" y="172.7" width="181.20" height="107.60" fill="#fff"/>
<line x1="263.7" x2="444.9" y1="177.60" y2="177.60" stroke="#a0a0a0" stroke-width="1.4" stroke-dasharray="2.75 1.45"/>
<path d="M271.90,182.10 L271.90,183.22 L271.90,184.35 L271.90,185.47 L271.91,186.59 L271.91,187.72 L271.91,188.84 L271.92,189.97 L271.92,191.09 L271.92,192.21 L271.93,193.34 L271.94,194.46 L271.94,195.58 L271.95,196.71 L271.96,197.83 L271.97,198.96 L271.97,200.08 L271.98,201.20 L271.99,202.33 L272.00,203.45 L272.01,204.57 L272.02,205.70 L272.03,206.82 L272.04,207.95 L272.05,209.07 L272.07,210.19 L272.08,211.32 L272.09,212.44 L272.10,213.56 L272.11,214.69 L272.13,215.81 L272.14,216.94 L272.15,218.06 L272.17,219.18 L272.18,220.31 L272.19,221.43 L272.21,222.55 L272.22,223.68 L272.24,224.80 L272.26,225.93 L272.28,227.05 L272.31,228.17 L272.33,229.30 L272.36,230.42 L272.39,231.54 L272.42,232.67 L272.45,233.79 L272.48,234.92 L272.52,236.04 L272.55,237.16 L272.58,238.29 L272.62,239.41 L272.66,240.53 L272.70,241.66 L272.75,242.78 L272.81,243.91 L272.87,245.03 L272.95,246.15 L273.07,247.28 L273.20,248.40 L273.28,248.01 L273.35,247.63 L273.42,247.24 L273.48,246.85 L273.54,246.47 L273.59,246.08 L273.64,245.69 L273.68,245.30 L273.72,244.91 L273.76,244.52 L273.79,244.12 L273.82,243.73 L273.85,243.34 L273.88,242.95 L273.91,242.56 L273.94,242.17 L273.96,241.77 L273.99,241.38 L274.02,240.99 L274.05,240.60 L274.08,240.21 L274.12,239.81 L274.15,239.42 L274.19,239.03 L274.23,238.64 L274.28,238.25 L274.32,237.86 L274.37,237.47 L274.41,237.08 L274.46,236.69 L274.51,236.30 L274.57,235.91 L274.62,235.52 L274.67,235.14 L274.73,234.75 L274.78,234.36 L274.84,233.97 L274.89,233.58 L274.95,233.19 L275.01,232.80 L275.06,232.41 L275.12,232.02 L275.17,231.64 L275.23,231.25 L275.28,230.86 L275.33,230.47 L275.39,230.08 L275.44,229.69 L275.49,229.30 L275.54,228.91 L275.58,228.52 L275.63,228.13 L275.67,227.74 L275.72,227.35 L275.76,226.96 L275.81,226.57 L275.85,226.18 L275.89,225.79 L275.93,225.40 L275.97,225.01 L276.01,224.62 L276.06,224.23 L276.10,223.84 L276.14,223.44 L276.18,223.05 L276.22,222.66 L276.27,222.27 L276.31,221.88 L276.36,221.49 L276.41,221.10 L276.45,220.71 L276.50,220.32 L276.55,219.93 L276.60,219.54 L276.65,219.16 L276.70,218.77 L276.76,218.38 L276.81,217.99 L276.87,217.60 L276.92,217.21 L276.98,216.82 L277.04,216.43 L277.10,216.05 L277.16,215.66 L277.22,215.27 L277.28,214.88 L277.34,214.49 L277.40,214.11 L277.47,213.72 L277.53,213.33 L277.59,212.94 L277.65,212.55 L277.71,212.16 L277.76,211.78 L277.82,211.39 L277.88,211.00 L277.94,210.61 L277.99,210.22 L278.05,209.83 L278.11,209.45 L278.17,209.06 L278.23,208.67 L278.30,208.28 L278.37,207.90 L278.43,207.51 L278.51,207.12 L278.58,206.74 L278.66,206.35 L278.74,205.97 L278.83,205.58 L278.92,205.20 L279.01,204.82 L279.11,204.44 L279.21,204.06 L279.32,203.68 L279.43,203.31 L279.54,202.93 L279.67,202.56 L279.80,202.19 L279.93,201.82 L280.08,201.45 L280.23,201.09 L280.41,200.74 L280.60,200.40 L280.84,200.08 L281.12,199.79 L281.44,199.53 L281.80,199.34 L282.18,199.22 L282.56,199.21 L282.94,199.29 L283.31,199.45 L283.66,199.67 L283.97,199.92 L284.26,200.19 L284.52,200.48 L284.77,200.79 L285.00,201.10 L285.23,201.43 L285.44,201.75 L285.66,202.08 L285.87,202.41 L286.07,202.75 L286.27,203.09 L286.47,203.43 L286.67,203.77 L286.86,204.11 L287.05,204.45 L287.24,204.79 L287.43,205.14 L287.62,205.48 L287.81,205.83 L287.99,206.18 L288.18,206.52 L288.36,206.87 L288.55,207.22 L288.73,207.56 L288.91,207.91 L289.10,208.26 L289.28,208.61 L289.46,208.95 L289.64,209.30 L289.83,209.65 L290.01,210.00 L290.19,210.34 L290.37,210.69 L290.55,211.04 L290.74,211.39 L290.92,211.74 L291.10,212.08 L291.29,212.43 L291.47,212.78 L291.65,213.13 L291.84,213.47 L292.02,213.82 L292.20,214.17 L292.39,214.51 L292.57,214.86 L292.76,215.21 L292.95,215.55 L293.13,215.90 L293.32,216.24 L293.51,216.59 L293.69,216.93 L293.88,217.28 L294.07,217.62 L294.26,217.97 L294.45,218.31 L294.64,218.65 L294.83,219.00 L295.02,219.34 L295.22,219.68 L295.41,220.02 L295.60,220.36 L295.80,220.71 L295.99,221.05 L296.19,221.39 L296.38,221.73 L296.58,222.07 L296.78,222.41 L296.98,222.75 L297.18,223.08 L297.38,223.42 L297.58,223.76 L297.78,224.10 L297.98,224.43 L298.19,224.77 L298.39,225.10 L298.59,225.44 L298.80,225.77 L299.01,226.11 L299.21,226.44 L299.42,226.77 L299.63,227.11 L299.84,227.44 L300.06,227.77 L300.27,228.10 L300.48,228.43 L300.70,228.76 L300.91,229.09 L301.13,229.41 L301.35,229.74 L301.56,230.07 L301.78,230.39 L302.00,230.72 L302.23,231.04 L302.45,231.36 L302.67,231.69 L302.90,232.01 L303.13,232.33 L303.35,232.65 L303.58,232.97 L303.81,233.28 L304.05,233.60 L304.28,233.92 L304.51,234.23 L304.75,234.55 L304.98,234.86 L305.22,235.17 L305.46,235.49 L305.70,235.80 L305.94,236.11 L306.19,236.41 L306.43,236.72 L306.68,237.03 L306.92,237.33 L307.17,237.64 L307.42,237.94 L307.67,238.24 L307.93,238.54 L308.18,238.84 L308.44,239.14 L308.69,239.44 L308.95,239.73 L309.21,240.03 L309.47,240.32 L309.74,240.61 L310.00,240.90 L310.27,241.19 L310.54,241.48 L310.80,241.76 L311.07,242.05 L311.35,242.33 L311.62,242.61 L311.89,242.90 L312.17,243.17 L312.45,243.45 L312.73,243.73 L313.01,244.00 L313.29,244.27 L313.58,244.55 L313.86,244.82 L314.15,245.08 L314.44,245.35 L314.73,245.62 L315.02,245.88 L315.31,246.14 L315.61,246.40 L315.90,246.66 L316.20,246.91 L316.50,247.17 L316.80,247.42 L317.10,247.67 L317.40,247.92 L317.71,248.17 L318.01,248.42 L318.32,248.66 L318.63,248.90 L318.94,249.14 L319.25,249.38 L319.57,249.62 L319.88,249.85 L320.20,250.09 L320.51,250.32 L320.83,250.55 L321.15,250.78 L321.47,251.00 L321.80,251.23 L322.12,251.45 L322.45,251.67 L322.77,251.89 L323.10,252.10 L323.43,252.32 L323.76,252.53 L324.09,252.74 L324.42,252.95 L324.76,253.16 L325.09,253.36 L325.43,253.57 L325.76,253.77 L326.10,253.97 L326.44,254.17 L326.78,254.36 L327.12,254.56 L327.46,254.75 L327.81,254.94 L328.15,255.13 L328.50,255.32 L328.84,255.50 L329.19,255.69 L329.54,255.87 L329.89,256.05 L330.24,256.23 L330.59,256.40 L330.94,256.58 L331.29,256.75 L331.65,256.92 L332.00,257.09 L332.36,257.26 L332.71,257.43 L333.07,257.59 L333.42,257.76 L333.78,257.92 L334.14,258.08 L334.50,258.24 L334.86,258.39 L335.22,258.55 L335.58,258.70 L335.94,258.85 L336.31,259.00 L336.67,259.15 L337.03,259.30 L337.40,259.45 L337.76,259.59 L338.13,259.74 L338.50,259.88 L338.86,260.02 L339.23,260.16 L339.60,260.29 L339.97,260.43 L340.34,260.57 L340.70,260.70 L341.07,260.83 L341.44,260.96 L341.82,261.09 L342.19,261.22 L342.56,261.35 L342.93,261.47 L343.30,261.60 L343.68,261.72 L344.05,261.84 L344.42,261.97 L344.80,262.09 L345.17,262.20 L345.54,262.32 L345.92,262.44 L346.30,262.55 L346.67,262.67 L347.05,262.78 L347.42,262.89 L347.80,263.01 L348.18,263.12 L348.55,263.22 L348.93,263.33 L349.31,263.44 L349.69,263.55 L350.07,263.65 L350.44,263.76 L350.82,263.86 L351.20,263.96 L351.58,264.06 L351.96,264.16 L352.34,264.26 L352.72,264.36 L353.10,264.46 L353.48,264.56 L353.86,264.65 L354.24,264.75 L354.63,264.84 L355.01,264.94 L355.39,265.03 L355.77,265.12 L356.15,265.21 L356.54,265.30 L356.92,265.39 L357.30,265.48 L357.68,265.57 L358.07,265.66 L358.45,265.74 L358.83,265.83 L359.22,265.91 L359.60,266.00 L359.98,266.08 L360.37,266.17 L360.75,266.25 L361.13,266.33 L361.52,266.41 L361.90,266.49 L362.29,266.57 L362.67,266.65 L363.06,266.73 L363.44,266.81 L363.83,266.89 L364.21,266.96 L364.60,267.04 L364.98,267.12 L365.37,267.19 L365.75,267.27 L366.14,267.34 L366.52,267.41 L366.91,267.49 L367.30,267.56 L367.68,267.63 L368.07,267.70 L368.45,267.77 L368.84,267.84 L369.23,267.91 L369.61,267.98 L370.00,268.05 L370.39,268.12 L370.77,268.19 L371.16,268.26 L371.55,268.32 L371.94,268.39 L372.32,268.46 L372.71,268.52 L373.10,268.59 L373.48,268.65 L373.87,268.72 L374.26,268.78 L374.65,268.84 L375.03,268.91 L375.42,268.97 L375.81,269.03 L376.20,269.10 L376.59,269.16 L376.97,269.22 L377.36,269.28 L377.75,269.34 L378.14,269.40 L378.53,269.46 L378.91,269.52 L379.30,269.58 L379.69,269.64 L380.08,269.69 L380.47,269.75 L380.86,269.81 L381.24,269.87 L381.63,269.92 L382.02,269.98 L382.41,270.04 L382.80,270.09 L383.19,270.15 L383.58,270.20 L383.97,270.26 L384.35,270.31 L384.74,270.37 L385.13,270.42 L385.52,270.47 L385.91,270.53 L386.30,270.58 L386.69,270.63 L387.08,270.69 L387.47,270.74 L387.86,270.79 L388.25,270.84 L388.64,270.89 L389.02,270.94 L389.41,271.00 L389.80,271.05 L390.19,271.10 L390.58,271.15 L390.97,271.20 L391.36,271.25 L391.75,271.30 L392.14,271.34 L392.53,271.39 L392.92,271.44 L393.31,271.49 L393.70,271.54 L394.09,271.59 L394.48,271.63 L394.87,271.68 L395.26,271.73 L395.65,271.77 L396.04,271.82 L396.43,271.87 L396.82,271.91 L397.21,271.96 L397.60,272.01 L397.99,272.05 L398.38,272.10 L398.77,272.14 L399.16,272.19 L399.55,272.23 L399.94,272.28 L400.33,272.32 L400.72,272.36 L401.11,272.41 L401.50,272.45 L401.89,272.50 L402.28,272.54 L402.67,272.58 L403.06,272.63 L403.45,272.67 L403.84,272.71 L404.23,272.75 L404.62,272.79 L405.01,272.84 L405.41,272.88 L405.80,272.92 L406.19,272.96 L406.58,273.00 L406.97,273.04 L407.36,273.09 L407.75,273.13 L408.14,273.17 L408.53,273.21 L408.92,273.25 L409.31,273.29 L409.70,273.33 L410.09,273.37 L410.48,273.41 L410.87,273.45 L411.26,273.49 L411.66,273.52 L412.05,273.56 L412.44,273.60 L412.83,273.64 L413.22,273.68 L413.61,273.72 L414.00,273.76 L414.39,273.79 L414.78,273.83 L415.17,273.87 L415.56,273.91 L415.96,273.94 L416.35,273.98 L416.74,274.02 L417.13,274.06 L417.52,274.09 L417.91,274.13 L418.30,274.17 L418.69,274.20 L419.08,274.24 L419.47,274.28 L419.87,274.31 L420.26,274.35 L420.65,274.38 L421.04,274.42 L421.43,274.45 L421.82,274.49 L422.21,274.52 L422.60,274.56 L422.99,274.59 L423.39,274.63 L423.78,274.66 L424.17,274.70 L424.56,274.73 L424.95,274.77 L425.34,274.80 L425.73,274.84 L426.12,274.87 L426.52,274.90 L426.91,274.94 L427.30,274.97 L427.69,275.01 L428.08,275.04 L428.47,275.07 L428.86,275.11 L429.25,275.14 L429.65,275.17 L430.04,275.20 L430.43,275.24 L430.82,275.27 L431.21,275.30 L431.60,275.34 L431.99,275.37 L432.39,275.40 L432.78,275.43 L433.17,275.46 L433.56,275.50 L433.95,275.53 L434.34,275.56 L434.73,275.59 L435.13,275.62 L435.52,275.65 L435.91,275.69 L436.30,275.72" fill="none" stroke="#2378b5" stroke-width="1.22" stroke-linejoin="round"/>
<line x1="263.2" x2="445.325" y1="172.7" y2="172.7" stroke="#bdbdbd" stroke-width="1.3"/>
<line x1="263.2" x2="445.325" y1="280.3" y2="280.3" stroke="#7c7c7c" stroke-width="0.9"/>
<line x1="263.7" x2="263.7" y1="172.7" y2="280.3" stroke="#a4a4a4" stroke-width="1.0"/>
<line x1="444.9" x2="444.9" y1="172.7" y2="280.3" stroke="#6c6c6c" stroke-width="0.85"/>
<line x1="272.15" x2="272.15" y1="280.3" y2="281.40000000000003" stroke="#000" stroke-opacity="0.7" stroke-width="0.35"/>
<text x="272.15" y="285.60" font-size="3.5" text-anchor="middle" fill="#000">0</text>
<line x1="292.32" x2="292.32" y1="280.3" y2="281.40000000000003" stroke="#000" stroke-opacity="0.7" stroke-width="0.35"/>
<text x="292.32" y="285.60" font-size="3.5" text-anchor="middle" fill="#000">1</text>
<line x1="312.49" x2="312.49" y1="280.3" y2="281.40000000000003" stroke="#000" stroke-opacity="0.7" stroke-width="0.35"/>
<text x="312.49" y="285.60" font-size="3.5" text-anchor="middle" fill="#000">2</text>
<line x1="332.66" x2="332.66" y1="280.3" y2="281.40000000000003" stroke="#000" stroke-opacity="0.7" stroke-width="0.35"/>
<text x="332.66" y="285.60" font-size="3.5" text-anchor="middle" fill="#000">3</text>
<line x1="352.83" x2="352.83" y1="280.3" y2="281.40000000000003" stroke="#000" stroke-opacity="0.7" stroke-width="0.35"/>
<text x="352.83" y="285.60" font-size="3.5" text-anchor="middle" fill="#000">4</text>
<line x1="373.00" x2="373.00" y1="280.3" y2="281.40000000000003" stroke="#000" stroke-opacity="0.7" stroke-width="0.35"/>
<text x="373.00" y="285.60" font-size="3.5" text-anchor="middle" fill="#000">5</text>
<line x1="393.17" x2="393.17" y1="280.3" y2="281.40000000000003" stroke="#000" stroke-opacity="0.7" stroke-width="0.35"/>
<text x="393.17" y="285.60" font-size="3.5" text-anchor="middle" fill="#000">6</text>
<line x1="413.34" x2="413.34" y1="280.3" y2="281.40000000000003" stroke="#000" stroke-opacity="0.7" stroke-width="0.35"/>
<text x="413.34" y="285.60" font-size="3.5" text-anchor="middle" fill="#000">7</text>
<line x1="433.51" x2="433.51" y1="280.3" y2="281.40000000000003" stroke="#000" stroke-opacity="0.7" stroke-width="0.35"/>
<text x="433.51" y="285.60" font-size="3.5" text-anchor="middle" fill="#000">8</text>
<line x1="262.59999999999997" x2="263.7" y1="177.60" y2="177.60" stroke="#000" stroke-opacity="0.7" stroke-width="0.35"/>
<text x="261.10" y="178.90" font-size="3.3" text-anchor="end" fill="#000">0.000</text>
<line x1="262.59999999999997" x2="263.7" y1="198.70" y2="198.70" stroke="#000" stroke-opacity="0.7" stroke-width="0.35"/>
<text x="261.10" y="200.00" font-size="3.3" text-anchor="end" fill="#000">−0.005</text>
<line x1="262.59999999999997" x2="263.7" y1="219.80" y2="219.80" stroke="#000" stroke-opacity="0.7" stroke-width="0.35"/>
<text x="261.10" y="221.10" font-size="3.3" text-anchor="end" fill="#000">−0.010</text>
<line x1="262.59999999999997" x2="263.7" y1="240.90" y2="240.90" stroke="#000" stroke-opacity="0.7" stroke-width="0.35"/>
<text x="261.10" y="242.20" font-size="3.3" text-anchor="end" fill="#000">−0.015</text>
<line x1="262.59999999999997" x2="263.7" y1="262.00" y2="262.00" stroke="#000" stroke-opacity="0.7" stroke-width="0.35"/>
<text x="261.10" y="263.30" font-size="3.3" text-anchor="end" fill="#000">−0.020</text>
<text x="354.00" y="293.90" font-size="8.7" text-anchor="middle" fill="#222">d</text>
<text transform="translate(246.30,226.45) rotate(-90) scale(0.76,1)" font-size="9.2" font-style="italic" text-anchor="middle" fill="#151515">λ</text>
<rect x="504.4" y="172.7" width="179.90" height="107.60" fill="#fff"/>
<line x1="504.4" x2="684.3" y1="177.60" y2="177.60" stroke="#a0a0a0" stroke-width="1.4" stroke-dasharray="2.75 1.45"/>
<path d="M512.30,181.20 L512.30,182.55 L512.30,183.91 L512.30,185.26 L512.30,186.62 L512.30,187.97 L512.30,189.33 L512.30,190.68 L512.30,192.03 L512.30,193.39 L512.30,194.74 L512.31,196.10 L512.31,197.45 L512.31,198.81 L512.31,200.16 L512.31,201.51 L512.31,202.87 L512.31,204.22 L512.31,205.58 L512.32,206.93 L512.32,208.28 L512.32,209.64 L512.32,210.99 L512.32,212.35 L512.32,213.70 L512.33,215.06 L512.33,216.41 L512.33,217.76 L512.33,219.12 L512.33,220.47 L512.34,221.83 L512.34,223.18 L512.34,224.54 L512.34,225.89 L512.35,227.24 L512.35,228.60 L512.35,229.95 L512.35,231.31 L512.36,232.66 L512.36,234.02 L512.36,235.37 L512.37,236.72 L512.37,238.08 L512.38,239.43 L512.38,240.79 L512.39,242.14 L512.40,243.49 L512.40,244.85 L512.41,246.20 L512.42,247.56 L512.43,248.91 L512.44,250.27 L512.45,251.62 L512.46,252.97 L512.48,254.33 L512.50,255.68 L512.52,257.04 L512.55,258.39 L512.57,259.75 L512.60,261.10 L512.64,260.80 L512.68,260.49 L512.72,260.19 L512.77,259.88 L512.81,259.57 L512.86,259.26 L512.91,258.95 L512.96,258.64 L513.01,258.33 L513.05,258.01 L513.10,257.70 L513.15,257.39 L513.20,257.07 L513.25,256.76 L513.30,256.45 L513.35,256.14 L513.39,255.83 L513.44,255.52 L513.48,255.22 L513.53,254.91 L513.57,254.61 L513.60,254.31 L513.64,254.02 L513.68,253.72 L513.71,253.43 L513.74,253.14 L513.77,252.86 L513.79,252.57 L513.82,252.29 L513.86,252.00 L513.89,251.71 L513.93,251.42 L513.98,251.13 L514.03,250.83 L514.09,250.52 L514.17,250.21 L514.25,249.89 L514.34,249.56 L514.45,249.22 L514.57,248.87 L514.71,248.51 L514.86,248.16 L515.03,247.85 L515.21,247.60 L515.39,247.44 L515.59,247.40 L515.78,247.48 L515.99,247.66 L516.19,247.91 L516.39,248.23 L516.58,248.57 L516.76,248.93 L516.93,249.27 L517.09,249.60 L517.24,249.92 L517.38,250.22 L517.52,250.51 L517.64,250.80 L517.76,251.07 L517.88,251.34 L517.99,251.61 L518.10,251.87 L518.21,252.13 L518.32,252.39 L518.44,252.65 L518.55,252.91 L518.67,253.18 L518.79,253.45 L518.92,253.73 L519.05,254.01 L519.19,254.29 L519.33,254.57 L519.47,254.86 L519.61,255.14 L519.75,255.42 L519.90,255.70 L520.05,255.97 L520.20,256.25 L520.35,256.52 L520.50,256.79 L520.65,257.05 L520.81,257.32 L520.97,257.58 L521.14,257.84 L521.30,258.10 L521.47,258.36 L521.64,258.62 L521.82,258.88 L522.00,259.13 L522.18,259.38 L522.37,259.63 L522.56,259.88 L522.75,260.12 L522.94,260.36 L523.14,260.60 L523.34,260.84 L523.55,261.07 L523.76,261.30 L523.97,261.53 L524.18,261.75 L524.40,261.97 L524.62,262.19 L524.85,262.40 L525.07,262.61 L525.30,262.82 L525.54,263.03 L525.77,263.23 L526.01,263.43 L526.25,263.62 L526.50,263.81 L526.74,264.00 L526.99,264.18 L527.25,264.37 L527.50,264.54 L527.76,264.72 L528.01,264.89 L528.27,265.06 L528.54,265.22 L528.80,265.38 L529.07,265.54 L529.34,265.70 L529.61,265.85 L529.88,266.00 L530.15,266.15 L530.43,266.29 L530.70,266.43 L530.98,266.57 L531.26,266.70 L531.54,266.84 L531.82,266.97 L532.10,267.09 L532.39,267.22 L532.67,267.34 L532.96,267.46 L533.25,267.58 L533.53,267.69 L533.82,267.81 L534.11,267.92 L534.40,268.02 L534.70,268.13 L534.99,268.24 L535.28,268.34 L535.57,268.44 L535.87,268.54 L536.16,268.63 L536.46,268.73 L536.75,268.82 L537.05,268.91 L537.35,269.00 L537.65,269.09 L537.94,269.17 L538.24,269.26 L538.54,269.34 L538.84,269.42 L539.14,269.50 L539.44,269.58 L539.74,269.65 L540.04,269.73 L540.34,269.80 L540.64,269.88 L540.95,269.95 L541.25,270.02 L541.55,270.09 L541.85,270.15 L542.16,270.22 L542.46,270.29 L542.76,270.35 L543.07,270.41 L543.37,270.47 L543.67,270.53 L543.98,270.59 L544.28,270.65 L544.59,270.71 L544.89,270.77 L545.20,270.82 L545.50,270.88 L545.81,270.93 L546.11,270.99 L546.42,271.04 L546.72,271.09 L547.03,271.14 L547.34,271.19 L547.64,271.24 L547.95,271.29 L548.26,271.33 L548.56,271.38 L548.87,271.43 L549.18,271.47 L549.48,271.52 L549.79,271.56 L550.10,271.60 L550.40,271.65 L550.71,271.69 L551.02,271.73 L551.33,271.77 L551.63,271.81 L551.94,271.85 L552.25,271.89 L552.56,271.93 L552.86,271.97 L553.17,272.00 L553.48,272.04 L553.79,272.08 L554.10,272.11 L554.40,272.15 L554.71,272.18 L555.02,272.22 L555.33,272.25 L555.64,272.28 L555.95,272.32 L556.25,272.35 L556.56,272.38 L556.87,272.41 L557.18,272.44 L557.49,272.47 L557.80,272.50 L558.10,272.53 L558.41,272.56 L558.72,272.59 L559.03,272.62 L559.34,272.65 L559.65,272.68 L559.96,272.70 L560.27,272.73 L560.58,272.76 L560.88,272.78 L561.19,272.81 L561.50,272.84 L561.81,272.86 L562.12,272.89 L562.43,272.91 L562.74,272.94 L563.05,272.96 L563.36,272.98 L563.67,273.01 L563.98,273.03 L564.28,273.05 L564.59,273.08 L564.90,273.10 L565.21,273.12 L565.52,273.14 L565.83,273.16 L566.14,273.19 L566.45,273.21 L566.76,273.23 L567.07,273.25 L567.38,273.27 L567.69,273.29 L568.00,273.31 L568.31,273.33 L568.62,273.35 L568.93,273.37 L569.24,273.39 L569.54,273.41 L569.85,273.42 L570.16,273.44 L570.47,273.46 L570.78,273.48 L571.09,273.50 L571.40,273.51 L571.71,273.53 L572.02,273.55 L572.33,273.57 L572.64,273.58 L572.95,273.60 L573.26,273.62 L573.57,273.63 L573.88,273.65 L574.19,273.67 L574.50,273.68 L574.81,273.70 L575.12,273.71 L575.43,273.73 L575.74,273.74 L576.05,273.76 L576.36,273.77 L576.67,273.79 L576.98,273.80 L577.29,273.82 L577.60,273.83 L577.91,273.85 L578.22,273.86 L578.53,273.87 L578.84,273.89 L579.15,273.90 L579.46,273.91 L579.76,273.93 L580.07,273.94 L580.38,273.95 L580.69,273.97 L581.00,273.98 L581.31,273.99 L581.62,274.00 L581.93,274.02 L582.24,274.03 L582.55,274.04 L582.86,274.05 L583.17,274.07 L583.48,274.08 L583.79,274.09 L584.10,274.10 L584.41,274.11 L584.72,274.12 L585.03,274.13 L585.34,274.15 L585.65,274.16 L585.96,274.17 L586.27,274.18 L586.58,274.19 L586.89,274.20 L587.20,274.21 L587.51,274.22 L587.82,274.23 L588.13,274.24 L588.44,274.25 L588.75,274.26 L589.06,274.27 L589.37,274.28 L589.68,274.29 L589.99,274.30 L590.30,274.31 L590.61,274.32 L590.92,274.33 L591.23,274.34 L591.54,274.35 L591.85,274.36 L592.16,274.37 L592.47,274.38 L592.78,274.39 L593.09,274.40 L593.40,274.40 L593.71,274.41 L594.02,274.42 L594.33,274.43 L594.64,274.44 L594.95,274.45 L595.26,274.46 L595.57,274.46 L595.88,274.47 L596.19,274.48 L596.50,274.49 L596.81,274.50 L597.12,274.51 L597.43,274.51 L597.74,274.52 L598.05,274.53 L598.36,274.54 L598.67,274.55 L598.98,274.55 L599.29,274.56 L599.60,274.57 L599.91,274.58 L600.22,274.58 L600.53,274.59 L600.84,274.60 L601.15,274.61 L601.46,274.61 L601.77,274.62 L602.08,274.63 L602.39,274.63 L602.70,274.64 L603.01,274.65 L603.32,274.65 L603.63,274.66 L603.94,274.67 L604.25,274.67 L604.56,274.68 L604.87,274.69 L605.18,274.69 L605.49,274.70 L605.80,274.71 L606.11,274.71 L606.42,274.72 L606.73,274.73 L607.04,274.73 L607.35,274.74 L607.66,274.75 L607.97,274.75 L608.28,274.76 L608.59,274.76 L608.90,274.77 L609.21,274.78 L609.52,274.78 L609.83,274.79 L610.14,274.79 L610.45,274.80 L610.76,274.81 L611.07,274.81 L611.38,274.82 L611.69,274.82 L612.00,274.83 L612.31,274.83 L612.62,274.84 L612.93,274.84 L613.24,274.85 L613.55,274.86 L613.86,274.86 L614.17,274.87 L614.48,274.87 L614.79,274.88 L615.10,274.88 L615.41,274.89 L615.72,274.89 L616.03,274.90 L616.34,274.90 L616.65,274.91 L616.96,274.91 L617.27,274.92 L617.58,274.92 L617.89,274.93 L618.20,274.93 L618.51,274.94 L618.82,274.94 L619.13,274.95 L619.44,274.95 L619.75,274.96 L620.06,274.96 L620.37,274.97 L620.68,274.97 L620.99,274.98 L621.30,274.98 L621.61,274.98 L621.92,274.99 L622.23,274.99 L622.54,275.00 L622.85,275.00 L623.16,275.01 L623.47,275.01 L623.78,275.02 L624.09,275.02 L624.40,275.02 L624.71,275.03 L625.03,275.03 L625.34,275.04 L625.65,275.04 L625.96,275.05 L626.27,275.05 L626.58,275.05 L626.89,275.06 L627.20,275.06 L627.51,275.07 L627.82,275.07 L628.13,275.07 L628.44,275.08 L628.75,275.08 L629.06,275.09 L629.37,275.09 L629.68,275.09 L629.99,275.10 L630.30,275.10 L630.61,275.11 L630.92,275.11 L631.23,275.11 L631.54,275.12 L631.85,275.12 L632.16,275.12 L632.47,275.13 L632.78,275.13 L633.09,275.14 L633.40,275.14 L633.71,275.14 L634.02,275.15 L634.33,275.15 L634.64,275.15 L634.95,275.16 L635.26,275.16 L635.57,275.16 L635.88,275.17 L636.19,275.17 L636.50,275.17 L636.81,275.18 L637.12,275.18 L637.43,275.18 L637.74,275.19 L638.05,275.19 L638.36,275.19 L638.67,275.20 L638.98,275.20 L639.29,275.20 L639.60,275.21 L639.91,275.21 L640.22,275.21 L640.53,275.22 L640.84,275.22 L641.15,275.22 L641.46,275.23 L641.77,275.23 L642.08,275.23 L642.39,275.24 L642.70,275.24 L643.01,275.24 L643.32,275.24 L643.63,275.25 L643.94,275.25 L644.25,275.25 L644.56,275.26 L644.87,275.26 L645.18,275.26 L645.49,275.27 L645.80,275.27 L646.11,275.27 L646.42,275.27 L646.73,275.28 L647.04,275.28 L647.35,275.28 L647.66,275.29 L647.97,275.29 L648.28,275.29 L648.59,275.29 L648.90,275.30 L649.21,275.30 L649.52,275.30 L649.83,275.30 L650.14,275.31 L650.45,275.31 L650.76,275.31 L651.07,275.31 L651.38,275.32 L651.69,275.32 L652.00,275.32 L652.31,275.33 L652.62,275.33 L652.93,275.33 L653.24,275.33 L653.55,275.34 L653.86,275.34 L654.17,275.34 L654.48,275.34 L654.79,275.35 L655.10,275.35 L655.41,275.35 L655.72,275.35 L656.03,275.36 L656.34,275.36 L656.65,275.36 L656.96,275.36 L657.27,275.37 L657.58,275.37 L657.89,275.37 L658.20,275.37 L658.51,275.37 L658.82,275.38 L659.13,275.38 L659.44,275.38 L659.75,275.38 L660.06,275.39 L660.37,275.39 L660.69,275.39 L661.00,275.39 L661.31,275.40 L661.62,275.40 L661.93,275.40 L662.24,275.40 L662.55,275.40 L662.86,275.41 L663.17,275.41 L663.48,275.41 L663.79,275.41 L664.10,275.42 L664.41,275.42 L664.72,275.42 L665.03,275.42 L665.34,275.42 L665.65,275.43 L665.96,275.43 L666.27,275.43 L666.58,275.43 L666.89,275.43 L667.20,275.44 L667.51,275.44 L667.82,275.44 L668.13,275.44 L668.44,275.44 L668.75,275.45 L669.06,275.45 L669.37,275.45 L669.68,275.45 L669.99,275.45 L670.30,275.46 L670.61,275.46 L670.92,275.46 L671.23,275.46 L671.54,275.46 L671.85,275.47 L672.16,275.47 L672.47,275.47 L672.78,275.47 L673.09,275.47 L673.40,275.48 L673.71,275.48 L674.02,275.48 L674.33,275.48 L674.64,275.48 L674.95,275.48 L675.26,275.49 L675.57,275.49 L675.88,275.49 L676.19,275.49 L676.50,275.49" fill="none" stroke="#2378b5" stroke-width="1.22" stroke-linejoin="round"/>
<line x1="503.97499999999997" x2="684.8" y1="172.7" y2="172.7" stroke="#c4c4c4" stroke-width="1.3"/>
<line x1="503.97499999999997" x2="684.8" y1="280.3" y2="280.3" stroke="#7c7c7c" stroke-width="0.9"/>
<line x1="504.4" x2="504.4" y1="172.7" y2="280.3" stroke="#808080" stroke-width="0.85"/>
<line x1="684.3" x2="684.3" y1="172.7" y2="280.3" stroke="#e6e6e6" stroke-width="1.0"/>
<line x1="512.85" x2="512.85" y1="280.3" y2="281.40000000000003" stroke="#000" stroke-opacity="0.7" stroke-width="0.35"/>
<text x="512.85" y="285.60" font-size="3.5" text-anchor="middle" fill="#000">0</text>
<line x1="533.02" x2="533.02" y1="280.3" y2="281.40000000000003" stroke="#000" stroke-opacity="0.7" stroke-width="0.35"/>
<text x="533.02" y="285.60" font-size="3.5" text-anchor="middle" fill="#000">1</text>
<line x1="553.19" x2="553.19" y1="280.3" y2="281.40000000000003" stroke="#000" stroke-opacity="0.7" stroke-width="0.35"/>
<text x="553.19" y="285.60" font-size="3.5" text-anchor="middle" fill="#000">2</text>
<line x1="573.36" x2="573.36" y1="280.3" y2="281.40000000000003" stroke="#000" stroke-opacity="0.7" stroke-width="0.35"/>
<text x="573.36" y="285.60" font-size="3.5" text-anchor="middle" fill="#000">3</text>
<line x1="593.53" x2="593.53" y1="280.3" y2="281.40000000000003" stroke="#000" stroke-opacity="0.7" stroke-width="0.35"/>
<text x="593.53" y="285.60" font-size="3.5" text-anchor="middle" fill="#000">4</text>
<line x1="613.70" x2="613.70" y1="280.3" y2="281.40000000000003" stroke="#000" stroke-opacity="0.7" stroke-width="0.35"/>
<text x="613.70" y="285.60" font-size="3.5" text-anchor="middle" fill="#000">5</text>
<line x1="633.87" x2="633.87" y1="280.3" y2="281.40000000000003" stroke="#000" stroke-opacity="0.7" stroke-width="0.35"/>
<text x="633.87" y="285.60" font-size="3.5" text-anchor="middle" fill="#000">6</text>
<line x1="654.04" x2="654.04" y1="280.3" y2="281.40000000000003" stroke="#000" stroke-opacity="0.7" stroke-width="0.35"/>
<text x="654.04" y="285.60" font-size="3.5" text-anchor="middle" fill="#000">7</text>
<line x1="674.21" x2="674.21" y1="280.3" y2="281.40000000000003" stroke="#000" stroke-opacity="0.7" stroke-width="0.35"/>
<text x="674.21" y="285.60" font-size="3.5" text-anchor="middle" fill="#000">8</text>
<line x1="503.29999999999995" x2="504.4" y1="177.60" y2="177.60" stroke="#000" stroke-opacity="0.7" stroke-width="0.35"/>
<text x="501.80" y="178.90" font-size="3.3" text-anchor="end" fill="#000">0.00</text>
<line x1="503.29999999999995" x2="504.4" y1="200.90" y2="200.90" stroke="#000" stroke-opacity="0.7" stroke-width="0.35"/>
<text x="501.80" y="202.20" font-size="3.3" text-anchor="end" fill="#000">−0.01</text>
<line x1="503.29999999999995" x2="504.4" y1="224.20" y2="224.20" stroke="#000" stroke-opacity="0.7" stroke-width="0.35"/>
<text x="501.80" y="225.50" font-size="3.3" text-anchor="end" fill="#000">−0.02</text>
<line x1="503.29999999999995" x2="504.4" y1="247.50" y2="247.50" stroke="#000" stroke-opacity="0.7" stroke-width="0.35"/>
<text x="501.80" y="248.80" font-size="3.3" text-anchor="end" fill="#000">−0.03</text>
<line x1="503.29999999999995" x2="504.4" y1="270.80" y2="270.80" stroke="#000" stroke-opacity="0.7" stroke-width="0.35"/>
<text x="501.80" y="272.10" font-size="3.3" text-anchor="end" fill="#000">−0.04</text>
<text x="594.05" y="293.90" font-size="8.7" text-anchor="middle" fill="#222">d</text>
<text transform="translate(488.90,226.45) rotate(-90) scale(0.76,1)" font-size="9.2" font-style="italic" text-anchor="middle" fill="#151515">λ</text>
<rect x="24.0" y="518.4" width="180.70" height="107.90" fill="#fff"/>
<line x1="24.0" x2="204.7" y1="598.35" y2="598.35" stroke="#888888" stroke-width="0.95" stroke-dasharray="2.9 1.4"/>
<path d="M31.90,533.00 L31.92,534.04 L31.93,535.07 L31.95,536.11 L31.96,537.14 L31.98,538.18 L31.99,539.21 L32.01,540.25 L32.02,541.28 L32.04,542.32 L32.05,543.36 L32.07,544.39 L32.08,545.43 L32.10,546.46 L32.11,547.50 L32.13,548.53 L32.14,549.57 L32.16,550.61 L32.17,551.64 L32.19,552.68 L32.20,553.71 L32.21,554.75 L32.23,555.78 L32.24,556.82 L32.25,557.85 L32.27,558.89 L32.28,559.93 L32.29,560.96 L32.31,562.00 L32.32,563.03 L32.34,564.07 L32.35,565.10 L32.37,566.14 L32.39,567.17 L32.40,568.21 L32.42,569.25 L32.44,570.28 L32.46,571.32 L32.48,572.35 L32.50,573.39 L32.52,574.42 L32.55,575.46 L32.57,576.49 L32.60,577.53 L32.62,578.57 L32.65,579.60 L32.68,580.64 L32.70,581.67 L32.73,582.71 L32.76,583.74 L32.79,584.78 L32.82,585.82 L32.86,586.85 L32.90,587.89 L32.94,588.92 L32.99,589.96 L33.05,590.99 L33.14,592.03 L33.26,593.06 L33.40,594.10 L33.50,593.67 L33.59,593.24 L33.67,592.81 L33.74,592.37 L33.81,591.94 L33.87,591.50 L33.92,591.06 L33.96,590.63 L34.00,590.19 L34.04,589.75 L34.07,589.31 L34.10,588.87 L34.13,588.43 L34.16,587.99 L34.19,587.55 L34.22,587.11 L34.25,586.67 L34.28,586.23 L34.32,585.79 L34.36,585.35 L34.40,584.92 L34.45,584.48 L34.49,584.04 L34.55,583.60 L34.60,583.17 L34.65,582.73 L34.71,582.29 L34.77,581.86 L34.83,581.42 L34.89,580.98 L34.96,580.55 L35.02,580.11 L35.08,579.68 L35.14,579.24 L35.21,578.80 L35.27,578.37 L35.33,577.93 L35.40,577.50 L35.46,577.06 L35.52,576.62 L35.57,576.19 L35.63,575.75 L35.69,575.31 L35.74,574.88 L35.79,574.44 L35.84,574.00 L35.88,573.56 L35.93,573.13 L35.97,572.69 L36.01,572.25 L36.05,571.81 L36.09,571.37 L36.13,570.93 L36.17,570.50 L36.20,570.06 L36.24,569.62 L36.27,569.18 L36.31,568.74 L36.34,568.30 L36.37,567.86 L36.41,567.42 L36.44,566.98 L36.48,566.54 L36.51,566.11 L36.55,565.67 L36.58,565.23 L36.62,564.79 L36.65,564.35 L36.69,563.91 L36.73,563.47 L36.77,563.03 L36.81,562.60 L36.85,562.16 L36.89,561.72 L36.93,561.28 L36.98,560.84 L37.02,560.40 L37.06,559.97 L37.11,559.53 L37.15,559.09 L37.20,558.65 L37.24,558.21 L37.29,557.78 L37.34,557.34 L37.39,556.90 L37.43,556.46 L37.48,556.03 L37.53,555.59 L37.58,555.15 L37.63,554.71 L37.68,554.28 L37.73,553.84 L37.78,553.40 L37.84,552.96 L37.89,552.53 L37.94,552.09 L37.99,551.65 L38.04,551.21 L38.10,550.78 L38.15,550.34 L38.20,549.90 L38.26,549.47 L38.31,549.03 L38.36,548.59 L38.42,548.15 L38.47,547.72 L38.53,547.28 L38.58,546.84 L38.64,546.40 L38.69,545.97 L38.75,545.53 L38.80,545.09 L38.86,544.66 L38.92,544.22 L38.98,543.78 L39.04,543.35 L39.10,542.91 L39.16,542.47 L39.22,542.04 L39.28,541.60 L39.35,541.17 L39.41,540.73 L39.48,540.30 L39.55,539.86 L39.62,539.43 L39.69,538.99 L39.76,538.56 L39.83,538.12 L39.91,537.69 L39.99,537.26 L40.06,536.82 L40.14,536.39 L40.23,535.96 L40.31,535.53 L40.40,535.09 L40.49,534.66 L40.58,534.23 L40.67,533.80 L40.76,533.37 L40.86,532.94 L40.96,532.51 L41.06,532.09 L41.16,531.66 L41.27,531.23 L41.38,530.80 L41.49,530.38 L41.60,529.95 L41.71,529.52 L41.83,529.10 L41.95,528.67 L42.07,528.25 L42.20,527.83 L42.33,527.41 L42.48,526.99 L42.64,526.58 L42.83,526.18 L43.03,525.79 L43.26,525.41 L43.52,525.04 L43.81,524.69 L44.14,524.35 L44.50,524.04 L44.88,523.78 L45.28,523.57 L45.69,523.44 L46.10,523.40 L46.51,523.45 L46.91,523.58 L47.31,523.77 L47.70,524.03 L48.07,524.32 L48.43,524.64 L48.77,524.97 L49.10,525.31 L49.40,525.66 L49.69,526.01 L49.97,526.36 L50.23,526.71 L50.48,527.07 L50.72,527.43 L50.95,527.79 L51.18,528.16 L51.39,528.53 L51.61,528.91 L51.83,529.28 L52.04,529.66 L52.25,530.05 L52.46,530.43 L52.68,530.82 L52.89,531.21 L53.09,531.60 L53.30,531.99 L53.50,532.38 L53.70,532.77 L53.90,533.16 L54.10,533.56 L54.30,533.95 L54.50,534.34 L54.69,534.74 L54.89,535.13 L55.08,535.53 L55.28,535.92 L55.47,536.32 L55.66,536.72 L55.85,537.11 L56.05,537.51 L56.24,537.90 L56.43,538.30 L56.62,538.70 L56.82,539.09 L57.01,539.49 L57.20,539.88 L57.39,540.28 L57.58,540.68 L57.78,541.07 L57.97,541.47 L58.16,541.87 L58.35,542.26 L58.55,542.66 L58.74,543.05 L58.93,543.45 L59.13,543.84 L59.32,544.24 L59.52,544.63 L59.71,545.03 L59.91,545.42 L60.11,545.81 L60.30,546.21 L60.50,546.60 L60.70,546.99 L60.90,547.39 L61.10,547.78 L61.30,548.17 L61.50,548.56 L61.70,548.96 L61.90,549.35 L62.11,549.74 L62.31,550.13 L62.52,550.52 L62.72,550.91 L62.93,551.29 L63.14,551.68 L63.35,552.07 L63.55,552.46 L63.76,552.85 L63.98,553.23 L64.19,553.62 L64.40,554.00 L64.61,554.39 L64.83,554.77 L65.04,555.16 L65.26,555.54 L65.48,555.92 L65.70,556.30 L65.92,556.69 L66.14,557.07 L66.36,557.45 L66.58,557.83 L66.81,558.21 L67.03,558.58 L67.26,558.96 L67.49,559.34 L67.72,559.71 L67.95,560.09 L68.18,560.46 L68.41,560.84 L68.64,561.21 L68.88,561.58 L69.11,561.96 L69.35,562.33 L69.59,562.70 L69.83,563.07 L70.07,563.44 L70.31,563.80 L70.56,564.17 L70.80,564.54 L71.05,564.90 L71.30,565.26 L71.54,565.63 L71.79,565.99 L72.05,566.35 L72.30,566.71 L72.55,567.07 L72.81,567.43 L73.06,567.79 L73.32,568.15 L73.58,568.50 L73.84,568.86 L74.10,569.21 L74.37,569.56 L74.63,569.91 L74.90,570.26 L75.17,570.61 L75.44,570.96 L75.71,571.31 L75.98,571.66 L76.25,572.00 L76.53,572.34 L76.80,572.69 L77.08,573.03 L77.36,573.37 L77.64,573.71 L77.92,574.05 L78.21,574.38 L78.49,574.72 L78.78,575.05 L79.07,575.39 L79.36,575.72 L79.65,576.05 L79.94,576.38 L80.23,576.71 L80.53,577.03 L80.83,577.36 L81.12,577.68 L81.42,578.01 L81.72,578.33 L82.03,578.65 L82.33,578.97 L82.64,579.28 L82.94,579.60 L83.25,579.91 L83.56,580.23 L83.87,580.54 L84.18,580.85 L84.50,581.16 L84.81,581.46 L85.13,581.77 L85.45,582.07 L85.77,582.38 L86.09,582.68 L86.41,582.98 L86.74,583.28 L87.06,583.57 L87.39,583.87 L87.72,584.16 L88.05,584.45 L88.38,584.75 L88.71,585.03 L89.04,585.32 L89.38,585.61 L89.71,585.89 L90.05,586.18 L90.39,586.46 L90.73,586.74 L91.07,587.02 L91.41,587.29 L91.76,587.57 L92.10,587.84 L92.45,588.11 L92.80,588.38 L93.14,588.65 L93.49,588.92 L93.85,589.18 L94.20,589.45 L94.55,589.71 L94.91,589.97 L95.26,590.23 L95.62,590.49 L95.98,590.74 L96.34,591.00 L96.70,591.25 L97.06,591.50 L97.42,591.75 L97.79,592.00 L98.15,592.24 L98.52,592.49 L98.89,592.73 L99.26,592.97 L99.63,593.21 L100.00,593.45 L100.37,593.68 L100.74,593.92 L101.11,594.15 L101.49,594.38 L101.86,594.61 L102.24,594.84 L102.62,595.07 L103.00,595.29 L103.38,595.52 L103.76,595.74 L104.14,595.96 L104.52,596.18 L104.90,596.39 L105.29,596.61 L105.67,596.83 L106.06,597.04 L106.44,597.25 L106.83,597.46 L107.22,597.67 L107.61,597.87 L107.99,598.08 L108.39,598.28 L108.78,598.49 L109.17,598.69 L109.56,598.89 L109.95,599.08 L110.35,599.28 L110.74,599.48 L111.14,599.67 L111.53,599.86 L111.93,600.05 L112.33,600.24 L112.73,600.43 L113.13,600.62 L113.52,600.80 L113.93,600.99 L114.33,601.17 L114.73,601.35 L115.13,601.53 L115.53,601.71 L115.93,601.89 L116.34,602.06 L116.74,602.24 L117.15,602.41 L117.55,602.58 L117.96,602.75 L118.36,602.92 L118.77,603.09 L119.18,603.26 L119.59,603.42 L119.99,603.59 L120.40,603.75 L120.81,603.91 L121.22,604.08 L121.63,604.23 L122.04,604.39 L122.45,604.55 L122.87,604.71 L123.28,604.86 L123.69,605.02 L124.10,605.17 L124.52,605.32 L124.93,605.47 L125.34,605.62 L125.76,605.77 L126.17,605.92 L126.59,606.07 L127.00,606.21 L127.42,606.36 L127.84,606.50 L128.25,606.64 L128.67,606.78 L129.09,606.92 L129.50,607.06 L129.92,607.20 L130.34,607.34 L130.76,607.48 L131.18,607.61 L131.60,607.75 L132.02,607.88 L132.44,608.01 L132.86,608.15 L133.28,608.28 L133.70,608.41 L134.12,608.54 L134.54,608.66 L134.96,608.79 L135.38,608.92 L135.81,609.04 L136.23,609.17 L136.65,609.29 L137.07,609.42 L137.50,609.54 L137.92,609.66 L138.34,609.78 L138.77,609.90 L139.19,610.02 L139.61,610.14 L140.04,610.26 L140.46,610.37 L140.89,610.49 L141.31,610.61 L141.74,610.72 L142.16,610.83 L142.59,610.95 L143.01,611.06 L143.44,611.17 L143.87,611.28 L144.29,611.39 L144.72,611.50 L145.15,611.61 L145.57,611.72 L146.00,611.83 L146.43,611.94 L146.85,612.04 L147.28,612.15 L147.71,612.25 L148.14,612.36 L148.56,612.46 L148.99,612.56 L149.42,612.67 L149.85,612.77 L150.28,612.87 L150.71,612.97 L151.13,613.07 L151.56,613.17 L151.99,613.27 L152.42,613.37 L152.85,613.47 L153.28,613.56 L153.71,613.66 L154.14,613.76 L154.57,613.85 L155.00,613.95 L155.43,614.04 L155.86,614.13 L156.29,614.23 L156.72,614.32 L157.15,614.41 L157.58,614.51 L158.01,614.60 L158.44,614.69 L158.87,614.78 L159.30,614.87 L159.74,614.96 L160.17,615.05 L160.60,615.13 L161.03,615.22 L161.46,615.31 L161.89,615.40 L162.32,615.48 L162.76,615.57 L163.19,615.66 L163.62,615.74 L164.05,615.83 L164.48,615.91 L164.92,615.99 L165.35,616.08 L165.78,616.16 L166.21,616.24 L166.65,616.32 L167.08,616.41 L167.51,616.49 L167.95,616.57 L168.38,616.65 L168.81,616.73 L169.24,616.81 L169.68,616.89 L170.11,616.97 L170.54,617.05 L170.98,617.12 L171.41,617.20 L171.84,617.28 L172.28,617.36 L172.71,617.43 L173.14,617.51 L173.58,617.59 L174.01,617.66 L174.45,617.74 L174.88,617.81 L175.31,617.89 L175.75,617.96 L176.18,618.04 L176.62,618.11 L177.05,618.18 L177.48,618.25 L177.92,618.33 L178.35,618.40 L178.79,618.47 L179.22,618.54 L179.66,618.61 L180.09,618.69 L180.53,618.76 L180.96,618.83 L181.39,618.90 L181.83,618.97 L182.26,619.04 L182.70,619.11 L183.13,619.17 L183.57,619.24 L184.00,619.31 L184.44,619.38 L184.87,619.45 L185.31,619.51 L185.74,619.58 L186.18,619.65 L186.61,619.71 L187.05,619.78 L187.49,619.85 L187.92,619.91 L188.36,619.98 L188.79,620.04 L189.23,620.11 L189.66,620.17 L190.10,620.24 L190.53,620.30 L190.97,620.37 L191.41,620.43 L191.84,620.49 L192.28,620.56 L192.71,620.62 L193.15,620.68 L193.58,620.74 L194.02,620.81 L194.46,620.87 L194.89,620.93 L195.33,620.99 L195.76,621.05 L196.20,621.11" fill="none" stroke="#2378b5" stroke-width="1.22" stroke-linejoin="round"/>
<line x1="23.4" x2="205.14999999999998" y1="518.4" y2="518.4" stroke="#ececec" stroke-width="1.0"/>
<line x1="23.4" x2="205.14999999999998" y1="626.3" y2="626.3" stroke="#bcbcbc" stroke-width="0.8"/>
<line x1="24.0" x2="24.0" y1="518.4" y2="626.3" stroke="#cfcfcf" stroke-width="1.2"/>
<line x1="204.7" x2="204.7" y1="518.4" y2="626.3" stroke="#808080" stroke-width="0.9"/>
<line x1="32.45" x2="32.45" y1="626.3" y2="627.4" stroke="#000" stroke-opacity="0.7" stroke-width="0.35"/>
<text x="32.45" y="630.90" font-size="3.1" text-anchor="middle" fill="#000">0</text>
<line x1="52.62" x2="52.62" y1="626.3" y2="627.4" stroke="#000" stroke-opacity="0.7" stroke-width="0.35"/>
<text x="52.62" y="630.90" font-size="3.1" text-anchor="middle" fill="#000">1</text>
<line x1="72.79" x2="72.79" y1="626.3" y2="627.4" stroke="#000" stroke-opacity="0.7" stroke-width="0.35"/>
<text x="72.79" y="630.90" font-size="3.1" text-anchor="middle" fill="#000">2</text>
<line x1="92.96" x2="92.96" y1="626.3" y2="627.4" stroke="#000" stroke-opacity="0.7" stroke-width="0.35"/>
<text x="92.96" y="630.90" font-size="3.1" text-anchor="middle" fill="#000">3</text>
<line x1="113.13" x2="113.13" y1="626.3" y2="627.4" stroke="#000" stroke-opacity="0.7" stroke-width="0.35"/>
<text x="113.13" y="630.90" font-size="3.1" text-anchor="middle" fill="#000">4</text>
<line x1="133.30" x2="133.30" y1="626.3" y2="627.4" stroke="#000" stroke-opacity="0.7" stroke-width="0.35"/>
<text x="133.30" y="630.90" font-size="3.1" text-anchor="middle" fill="#000">5</text>
<line x1="153.47" x2="153.47" y1="626.3" y2="627.4" stroke="#000" stroke-opacity="0.7" stroke-width="0.35"/>
<text x="153.47" y="630.90" font-size="3.1" text-anchor="middle" fill="#000">6</text>
<line x1="173.64" x2="173.64" y1="626.3" y2="627.4" stroke="#000" stroke-opacity="0.7" stroke-width="0.35"/>
<text x="173.64" y="630.90" font-size="3.1" text-anchor="middle" fill="#000">7</text>
<line x1="193.81" x2="193.81" y1="626.3" y2="627.4" stroke="#000" stroke-opacity="0.7" stroke-width="0.35"/>
<text x="193.81" y="630.90" font-size="3.1" text-anchor="middle" fill="#000">8</text>
<line x1="22.9" x2="24.0" y1="519.40" y2="519.40" stroke="#000" stroke-opacity="0.7" stroke-width="0.35"/>
<text x="21.40" y="520.70" font-size="3.3" text-anchor="end" fill="#000">0.012</text>
<line x1="22.9" x2="24.0" y1="532.55" y2="532.55" stroke="#000" stroke-opacity="0.7" stroke-width="0.35"/>
<text x="21.40" y="533.85" font-size="3.3" text-anchor="end" fill="#000">0.010</text>
<line x1="22.9" x2="24.0" y1="545.70" y2="545.70" stroke="#000" stroke-opacity="0.7" stroke-width="0.35"/>
<text x="21.40" y="547.00" font-size="3.3" text-anchor="end" fill="#000">0.008</text>
<line x1="22.9" x2="24.0" y1="558.85" y2="558.85" stroke="#000" stroke-opacity="0.7" stroke-width="0.35"/>
<text x="21.40" y="560.15" font-size="3.3" text-anchor="end" fill="#000">0.006</text>
<line x1="22.9" x2="24.0" y1="572.00" y2="572.00" stroke="#000" stroke-opacity="0.7" stroke-width="0.35"/>
<text x="21.40" y="573.30" font-size="3.3" text-anchor="end" fill="#000">0.004</text>
<line x1="22.9" x2="24.0" y1="585.15" y2="585.15" stroke="#000" stroke-opacity="0.7" stroke-width="0.35"/>
<text x="21.40" y="586.45" font-size="3.3" text-anchor="end" fill="#000">0.002</text>
<line x1="22.9" x2="24.0" y1="598.30" y2="598.30" stroke="#000" stroke-opacity="0.7" stroke-width="0.35"/>
<text x="21.40" y="599.60" font-size="3.3" text-anchor="end" fill="#000">0.000</text>
<line x1="22.9" x2="24.0" y1="611.45" y2="611.45" stroke="#000" stroke-opacity="0.7" stroke-width="0.35"/>
<text x="21.40" y="612.75" font-size="3.3" text-anchor="end" fill="#000">−0.002</text>
<line x1="22.9" x2="24.0" y1="624.60" y2="624.60" stroke="#000" stroke-opacity="0.7" stroke-width="0.35"/>
<text x="21.40" y="625.90" font-size="3.3" text-anchor="end" fill="#000">−0.004</text>
<text x="114.05" y="639.00" font-size="8.0" text-anchor="middle" fill="#222">d</text>
<text transform="translate(6.30,572.30) rotate(-90) scale(0.76,1)" font-size="9.2" font-style="italic" text-anchor="middle" fill="#151515">λ</text>
<rect x="263.7" y="518.4" width="181.20" height="107.90" fill="#fff"/>
<line x1="263.7" x2="444.9" y1="567.30" y2="567.30" stroke="#888888" stroke-width="0.95" stroke-dasharray="2.9 1.4"/>
<path d="M271.90,523.49 L271.90,524.67 L271.90,525.84 L271.90,527.02 L271.91,528.19 L271.91,529.37 L271.91,530.54 L271.92,531.71 L271.92,532.89 L271.92,534.06 L271.93,535.24 L271.94,536.41 L271.94,537.59 L271.95,538.76 L271.96,539.93 L271.97,541.11 L271.97,542.28 L271.98,543.46 L271.99,544.63 L272.00,545.81 L272.01,546.98 L272.02,548.15 L272.03,549.33 L272.04,550.50 L272.05,551.68 L272.07,552.85 L272.08,554.03 L272.09,555.20 L272.10,556.37 L272.11,557.55 L272.13,558.72 L272.14,559.90 L272.15,561.07 L272.17,562.25 L272.18,563.42 L272.19,564.59 L272.21,565.77 L272.22,566.94 L272.24,568.12 L272.26,569.29 L272.28,570.47 L272.31,571.64 L272.33,572.81 L272.36,573.99 L272.39,575.16 L272.42,576.34 L272.45,577.51 L272.48,578.69 L272.52,579.86 L272.55,581.04 L272.58,582.21 L272.62,583.38 L272.66,584.56 L272.70,585.73 L272.75,586.91 L272.81,588.08 L272.87,589.26 L272.95,590.43 L273.07,591.60 L273.20,592.78 L273.28,592.38 L273.35,591.99 L273.42,591.60 L273.48,591.20 L273.53,590.80 L273.58,590.41 L273.63,590.01 L273.67,589.61 L273.71,589.22 L273.75,588.82 L273.78,588.42 L273.81,588.02 L273.84,587.62 L273.87,587.22 L273.90,586.82 L273.93,586.42 L273.95,586.02 L273.98,585.62 L274.01,585.23 L274.04,584.83 L274.07,584.43 L274.10,584.03 L274.13,583.63 L274.17,583.23 L274.21,582.83 L274.25,582.44 L274.29,582.04 L274.33,581.64 L274.38,581.24 L274.43,580.85 L274.48,580.45 L274.53,580.05 L274.58,579.65 L274.63,579.26 L274.68,578.86 L274.73,578.46 L274.79,578.07 L274.84,577.67 L274.90,577.28 L274.95,576.88 L275.00,576.48 L275.06,576.09 L275.11,575.69 L275.17,575.29 L275.22,574.90 L275.27,574.50 L275.33,574.10 L275.38,573.71 L275.43,573.31 L275.48,572.91 L275.52,572.52 L275.57,572.12 L275.62,571.72 L275.66,571.32 L275.70,570.93 L275.75,570.53 L275.79,570.13 L275.83,569.73 L275.87,569.33 L275.91,568.94 L275.95,568.54 L275.99,568.14 L276.03,567.74 L276.07,567.34 L276.11,566.95 L276.16,566.55 L276.20,566.15 L276.24,565.75 L276.28,565.35 L276.33,564.96 L276.37,564.56 L276.42,564.16 L276.46,563.76 L276.51,563.37 L276.56,562.97 L276.61,562.57 L276.66,562.18 L276.71,561.78 L276.76,561.38 L276.81,560.99 L276.87,560.59 L276.92,560.19 L276.98,559.80 L277.04,559.40 L277.09,559.01 L277.15,558.61 L277.21,558.21 L277.27,557.82 L277.33,557.42 L277.39,557.03 L277.45,556.63 L277.51,556.24 L277.57,555.84 L277.63,555.44 L277.69,555.05 L277.74,554.65 L277.80,554.26 L277.85,553.86 L277.91,553.46 L277.97,553.07 L278.02,552.67 L278.08,552.28 L278.14,551.88 L278.20,551.49 L278.26,551.09 L278.32,550.70 L278.39,550.30 L278.46,549.91 L278.53,549.51 L278.61,549.12 L278.68,548.73 L278.76,548.34 L278.85,547.94 L278.94,547.55 L279.03,547.16 L279.13,546.78 L279.23,546.39 L279.33,546.00 L279.44,545.62 L279.55,545.23 L279.67,544.85 L279.80,544.47 L279.94,544.10 L280.08,543.72 L280.23,543.35 L280.40,542.99 L280.59,542.64 L280.82,542.30 L281.10,542.00 L281.42,541.73 L281.78,541.52 L282.16,541.39 L282.55,541.37 L282.94,541.46 L283.31,541.63 L283.66,541.86 L283.98,542.12 L284.26,542.40 L284.53,542.70 L284.77,543.02 L285.00,543.35 L285.22,543.68 L285.43,544.01 L285.65,544.36 L285.85,544.70 L286.05,545.04 L286.25,545.39 L286.45,545.74 L286.64,546.09 L286.83,546.44 L287.02,546.79 L287.21,547.15 L287.40,547.50 L287.58,547.86 L287.77,548.21 L287.95,548.57 L288.13,548.92 L288.31,549.28 L288.49,549.64 L288.67,549.99 L288.85,550.35 L289.03,550.71 L289.21,551.06 L289.39,551.42 L289.57,551.78 L289.75,552.14 L289.93,552.50 L290.11,552.85 L290.29,553.21 L290.47,553.57 L290.65,553.93 L290.83,554.28 L291.01,554.64 L291.19,555.00 L291.37,555.35 L291.55,555.71 L291.73,556.07 L291.91,556.43 L292.09,556.78 L292.27,557.14 L292.46,557.49 L292.64,557.85 L292.82,558.21 L293.00,558.56 L293.19,558.92 L293.37,559.27 L293.56,559.63 L293.74,559.98 L293.93,560.34 L294.11,560.69 L294.30,561.05 L294.49,561.40 L294.67,561.75 L294.86,562.11 L295.05,562.46 L295.24,562.81 L295.43,563.16 L295.62,563.51 L295.81,563.87 L296.00,564.22 L296.20,564.57 L296.39,564.92 L296.58,565.27 L296.78,565.62 L296.98,565.96 L297.17,566.31 L297.37,566.66 L297.57,567.01 L297.77,567.36 L297.96,567.70 L298.17,568.05 L298.37,568.40 L298.57,568.74 L298.77,569.09 L298.98,569.43 L299.18,569.77 L299.39,570.12 L299.59,570.46 L299.80,570.80 L300.01,571.14 L300.22,571.48 L300.43,571.82 L300.64,572.16 L300.85,572.50 L301.07,572.84 L301.28,573.18 L301.50,573.51 L301.71,573.85 L301.93,574.19 L302.15,574.52 L302.37,574.85 L302.59,575.19 L302.81,575.52 L303.04,575.85 L303.26,576.18 L303.49,576.51 L303.72,576.84 L303.94,577.17 L304.17,577.50 L304.41,577.82 L304.64,578.15 L304.87,578.48 L305.11,578.80 L305.34,579.12 L305.58,579.44 L305.82,579.76 L306.06,580.08 L306.30,580.40 L306.54,580.72 L306.79,581.04 L307.03,581.35 L307.28,581.67 L307.53,581.98 L307.78,582.29 L308.03,582.61 L308.28,582.92 L308.54,583.22 L308.79,583.53 L309.05,583.84 L309.31,584.14 L309.57,584.45 L309.83,584.75 L310.10,585.05 L310.36,585.35 L310.63,585.65 L310.90,585.95 L311.17,586.24 L311.44,586.53 L311.71,586.83 L311.98,587.12 L312.26,587.41 L312.54,587.70 L312.81,587.98 L313.10,588.27 L313.38,588.55 L313.66,588.84 L313.95,589.12 L314.23,589.39 L314.52,589.67 L314.81,589.95 L315.10,590.22 L315.40,590.49 L315.69,590.77 L315.99,591.03 L316.28,591.30 L316.58,591.57 L316.88,591.83 L317.19,592.09 L317.49,592.35 L317.79,592.61 L318.10,592.87 L318.41,593.12 L318.72,593.38 L319.03,593.63 L319.34,593.88 L319.66,594.12 L319.97,594.37 L320.29,594.61 L320.61,594.86 L320.93,595.10 L321.25,595.33 L321.57,595.57 L321.90,595.80 L322.22,596.04 L322.55,596.27 L322.88,596.50 L323.21,596.72 L323.54,596.95 L323.87,597.17 L324.21,597.39 L324.54,597.61 L324.88,597.83 L325.21,598.04 L325.55,598.26 L325.89,598.47 L326.23,598.68 L326.57,598.89 L326.92,599.09 L327.26,599.30 L327.61,599.50 L327.95,599.70 L328.30,599.90 L328.65,600.09 L329.00,600.29 L329.35,600.48 L329.70,600.67 L330.05,600.86 L330.41,601.05 L330.76,601.23 L331.12,601.42 L331.47,601.60 L331.83,601.78 L332.19,601.96 L332.55,602.13 L332.91,602.31 L333.27,602.48 L333.63,602.65 L333.99,602.82 L334.35,602.99 L334.72,603.16 L335.08,603.32 L335.45,603.48 L335.81,603.64 L336.18,603.80 L336.55,603.96 L336.92,604.12 L337.29,604.27 L337.65,604.43 L338.02,604.58 L338.40,604.73 L338.77,604.88 L339.14,605.03 L339.51,605.17 L339.88,605.32 L340.26,605.46 L340.63,605.60 L341.01,605.74 L341.38,605.88 L341.76,606.02 L342.13,606.16 L342.51,606.29 L342.89,606.43 L343.26,606.56 L343.64,606.69 L344.02,606.82 L344.40,606.95 L344.78,607.07 L345.16,607.20 L345.54,607.32 L345.92,607.45 L346.30,607.57 L346.68,607.69 L347.06,607.81 L347.44,607.93 L347.83,608.05 L348.21,608.17 L348.59,608.28 L348.98,608.40 L349.36,608.51 L349.74,608.62 L350.13,608.73 L350.51,608.84 L350.90,608.95 L351.28,609.06 L351.67,609.17 L352.05,609.28 L352.44,609.38 L352.82,609.49 L353.21,609.59 L353.60,609.69 L353.98,609.79 L354.37,609.89 L354.76,609.99 L355.15,610.09 L355.53,610.19 L355.92,610.29 L356.31,610.39 L356.70,610.48 L357.09,610.58 L357.48,610.67 L357.87,610.76 L358.25,610.86 L358.64,610.95 L359.03,611.04 L359.42,611.13 L359.81,611.22 L360.20,611.31 L360.59,611.40 L360.98,611.48 L361.37,611.57 L361.77,611.65 L362.16,611.74 L362.55,611.82 L362.94,611.91 L363.33,611.99 L363.72,612.07 L364.11,612.16 L364.50,612.24 L364.90,612.32 L365.29,612.40 L365.68,612.48 L366.07,612.56 L366.46,612.64 L366.86,612.71 L367.25,612.79 L367.64,612.87 L368.04,612.94 L368.43,613.02 L368.82,613.09 L369.21,613.17 L369.61,613.24 L370.00,613.32 L370.39,613.39 L370.79,613.46 L371.18,613.53 L371.57,613.60 L371.97,613.67 L372.36,613.74 L372.76,613.81 L373.15,613.88 L373.54,613.95 L373.94,614.02 L374.33,614.09 L374.73,614.16 L375.12,614.22 L375.52,614.29 L375.91,614.36 L376.30,614.42 L376.70,614.49 L377.09,614.55 L377.49,614.62 L377.88,614.68 L378.28,614.74 L378.67,614.81 L379.07,614.87 L379.46,614.93 L379.86,615.00 L380.25,615.06 L380.65,615.12 L381.04,615.18 L381.44,615.24 L381.84,615.30 L382.23,615.36 L382.63,615.42 L383.02,615.48 L383.42,615.54 L383.81,615.60 L384.21,615.66 L384.61,615.71 L385.00,615.77 L385.40,615.83 L385.79,615.89 L386.19,615.94 L386.59,616.00 L386.98,616.05 L387.38,616.11 L387.77,616.16 L388.17,616.22 L388.57,616.27 L388.96,616.33 L389.36,616.38 L389.76,616.44 L390.15,616.49 L390.55,616.54 L390.95,616.60 L391.34,616.65 L391.74,616.70 L392.13,616.75 L392.53,616.81 L392.93,616.86 L393.32,616.91 L393.72,616.96 L394.12,617.01 L394.52,617.06 L394.91,617.11 L395.31,617.16 L395.71,617.21 L396.10,617.26 L396.50,617.31 L396.90,617.36 L397.29,617.41 L397.69,617.46 L398.09,617.51 L398.49,617.55 L398.88,617.60 L399.28,617.65 L399.68,617.70 L400.07,617.74 L400.47,617.79 L400.87,617.84 L401.27,617.89 L401.66,617.93 L402.06,617.98 L402.46,618.02 L402.86,618.07 L403.25,618.12 L403.65,618.16 L404.05,618.21 L404.45,618.25 L404.84,618.30 L405.24,618.34 L405.64,618.38 L406.04,618.43 L406.43,618.47 L406.83,618.52 L407.23,618.56 L407.63,618.60 L408.02,618.65 L408.42,618.69 L408.82,618.73 L409.22,618.78 L409.61,618.82 L410.01,618.86 L410.41,618.90 L410.81,618.94 L411.21,618.99 L411.60,619.03 L412.00,619.07 L412.40,619.11 L412.80,619.15 L413.20,619.19 L413.59,619.23 L413.99,619.27 L414.39,619.31 L414.79,619.35 L415.19,619.39 L415.58,619.43 L415.98,619.47 L416.38,619.51 L416.78,619.55 L417.18,619.59 L417.57,619.63 L417.97,619.67 L418.37,619.71 L418.77,619.75 L419.17,619.79 L419.57,619.83 L419.96,619.86 L420.36,619.90 L420.76,619.94 L421.16,619.98 L421.56,620.02 L421.95,620.05 L422.35,620.09 L422.75,620.13 L423.15,620.17 L423.55,620.20 L423.95,620.24 L424.34,620.28 L424.74,620.31 L425.14,620.35 L425.54,620.39 L425.94,620.42 L426.34,620.46 L426.73,620.50 L427.13,620.53 L427.53,620.57 L427.93,620.60 L428.33,620.64 L428.73,620.67 L429.13,620.71 L429.52,620.74 L429.92,620.78 L430.32,620.81 L430.72,620.85 L431.12,620.88 L431.52,620.92 L431.92,620.95 L432.31,620.99 L432.71,621.02 L433.11,621.05 L433.51,621.09 L433.91,621.12 L434.31,621.16 L434.71,621.19 L435.10,621.22 L435.50,621.26 L435.90,621.29 L436.30,621.32" fill="none" stroke="#2378b5" stroke-width="1.22" stroke-linejoin="round"/>
<line x1="263.2" x2="445.325" y1="518.4" y2="518.4" stroke="#ececec" stroke-width="1.0"/>
<line x1="263.2" x2="445.325" y1="626.3" y2="626.3" stroke="#b4b4b4" stroke-width="0.8"/>
<line x1="263.7" x2="263.7" y1="518.4" y2="626.3" stroke="#b8b8b8" stroke-width="1.0"/>
<line x1="444.9" x2="444.9" y1="518.4" y2="626.3" stroke="#606060" stroke-width="0.85"/>
<line x1="272.15" x2="272.15" y1="626.3" y2="627.4" stroke="#000" stroke-opacity="0.7" stroke-width="0.35"/>
<text x="272.15" y="630.90" font-size="3.1" text-anchor="middle" fill="#000">0</text>
<line x1="292.32" x2="292.32" y1="626.3" y2="627.4" stroke="#000" stroke-opacity="0.7" stroke-width="0.35"/>
<text x="292.32" y="630.90" font-size="3.1" text-anchor="middle" fill="#000">1</text>
<line x1="312.49" x2="312.49" y1="626.3" y2="627.4" stroke="#000" stroke-opacity="0.7" stroke-width="0.35"/>
<text x="312.49" y="630.90" font-size="3.1" text-anchor="middle" fill="#000">2</text>
<line x1="332.66" x2="332.66" y1="626.3" y2="627.4" stroke="#000" stroke-opacity="0.7" stroke-width="0.35"/>
<text x="332.66" y="630.90" font-size="3.1" text-anchor="middle" fill="#000">3</text>
<line x1="352.83" x2="352.83" y1="626.3" y2="627.4" stroke="#000" stroke-opacity="0.7" stroke-width="0.35"/>
<text x="352.83" y="630.90" font-size="3.1" text-anchor="middle" fill="#000">4</text>
<line x1="373.00" x2="373.00" y1="626.3" y2="627.4" stroke="#000" stroke-opacity="0.7" stroke-width="0.35"/>
<text x="373.00" y="630.90" font-size="3.1" text-anchor="middle" fill="#000">5</text>
<line x1="393.17" x2="393.17" y1="626.3" y2="627.4" stroke="#000" stroke-opacity="0.7" stroke-width="0.35"/>
<text x="393.17" y="630.90" font-size="3.1" text-anchor="middle" fill="#000">6</text>
<line x1="413.34" x2="413.34" y1="626.3" y2="627.4" stroke="#000" stroke-opacity="0.7" stroke-width="0.35"/>
<text x="413.34" y="630.90" font-size="3.1" text-anchor="middle" fill="#000">7</text>
<line x1="433.51" x2="433.51" y1="626.3" y2="627.4" stroke="#000" stroke-opacity="0.7" stroke-width="0.35"/>
<text x="433.51" y="630.90" font-size="3.1" text-anchor="middle" fill="#000">8</text>
<line x1="262.59999999999997" x2="263.7" y1="523.20" y2="523.20" stroke="#000" stroke-opacity="0.7" stroke-width="0.35"/>
<text x="261.10" y="524.50" font-size="3.3" text-anchor="end" fill="#000">0.010</text>
<line x1="262.59999999999997" x2="263.7" y1="545.25" y2="545.25" stroke="#000" stroke-opacity="0.7" stroke-width="0.35"/>
<text x="261.10" y="546.55" font-size="3.3" text-anchor="end" fill="#000">0.005</text>
<line x1="262.59999999999997" x2="263.7" y1="567.30" y2="567.30" stroke="#000" stroke-opacity="0.7" stroke-width="0.35"/>
<text x="261.10" y="568.60" font-size="3.3" text-anchor="end" fill="#000">0.000</text>
<line x1="262.59999999999997" x2="263.7" y1="589.35" y2="589.35" stroke="#000" stroke-opacity="0.7" stroke-width="0.35"/>
<text x="261.10" y="590.65" font-size="3.3" text-anchor="end" fill="#000">−0.005</text>
<line x1="262.59999999999997" x2="263.7" y1="611.40" y2="611.40" stroke="#000" stroke-opacity="0.7" stroke-width="0.35"/>
<text x="261.10" y="612.70" font-size="3.3" text-anchor="end" fill="#000">−0.010</text>
<text x="354.00" y="639.00" font-size="8.0" text-anchor="middle" fill="#222">d</text>
<text transform="translate(246.30,572.30) rotate(-90) scale(0.76,1)" font-size="9.2" font-style="italic" text-anchor="middle" fill="#151515">λ</text>
<rect x="504.4" y="518.4" width="179.90" height="107.90" fill="#fff"/>
<line x1="504.4" x2="684.3" y1="547.60" y2="547.60" stroke="#888888" stroke-width="0.95" stroke-dasharray="2.9 1.4"/>
<path d="M512.30,523.00 L512.30,524.36 L512.30,525.73 L512.30,527.09 L512.30,528.46 L512.30,529.82 L512.30,531.19 L512.31,532.55 L512.31,533.92 L512.31,535.28 L512.31,536.64 L512.31,538.01 L512.32,539.37 L512.32,540.74 L512.32,542.10 L512.32,543.47 L512.33,544.83 L512.33,546.19 L512.33,547.56 L512.34,548.92 L512.34,550.29 L512.34,551.65 L512.35,553.02 L512.35,554.38 L512.36,555.75 L512.36,557.11 L512.36,558.47 L512.37,559.84 L512.37,561.20 L512.38,562.57 L512.38,563.93 L512.38,565.30 L512.39,566.66 L512.39,568.03 L512.40,569.39 L512.40,570.75 L512.41,572.12 L512.41,573.48 L512.42,574.85 L512.42,576.21 L512.43,577.58 L512.43,578.94 L512.44,580.31 L512.44,581.67 L512.45,583.03 L512.46,584.40 L512.46,585.76 L512.47,587.13 L512.48,588.49 L512.49,589.86 L512.50,591.22 L512.52,592.58 L512.53,593.95 L512.54,595.31 L512.56,596.68 L512.59,598.04 L512.64,599.41 L512.69,600.77 L512.74,602.14 L512.80,603.50 L512.85,603.18 L512.90,602.87 L512.95,602.55 L512.99,602.24 L513.04,601.92 L513.09,601.61 L513.13,601.29 L513.17,600.97 L513.22,600.66 L513.26,600.34 L513.30,600.03 L513.34,599.71 L513.38,599.39 L513.42,599.08 L513.46,598.76 L513.50,598.44 L513.54,598.13 L513.58,597.81 L513.62,597.49 L513.65,597.17 L513.69,596.86 L513.73,596.54 L513.77,596.22 L513.81,595.90 L513.85,595.58 L513.89,595.26 L513.93,594.94 L513.97,594.62 L514.01,594.30 L514.05,593.98 L514.09,593.66 L514.13,593.35 L514.18,593.03 L514.22,592.71 L514.27,592.39 L514.32,592.08 L514.36,591.76 L514.41,591.45 L514.47,591.13 L514.52,590.82 L514.57,590.51 L514.63,590.20 L514.69,589.89 L514.74,589.58 L514.81,589.27 L514.87,588.97 L514.94,588.67 L515.03,588.36 L515.13,588.07 L515.26,587.77 L515.42,587.48 L515.61,587.19 L515.84,586.91 L516.10,586.70 L516.38,586.60 L516.66,586.66 L516.93,586.84 L517.19,587.09 L517.41,587.35 L517.61,587.62 L517.78,587.88 L517.93,588.16 L518.07,588.43 L518.21,588.71 L518.33,589.00 L518.46,589.29 L518.58,589.58 L518.70,589.88 L518.82,590.17 L518.94,590.47 L519.06,590.77 L519.18,591.07 L519.30,591.37 L519.41,591.67 L519.53,591.97 L519.65,592.27 L519.77,592.56 L519.89,592.86 L520.01,593.16 L520.13,593.45 L520.25,593.74 L520.38,594.04 L520.50,594.33 L520.63,594.62 L520.76,594.91 L520.89,595.21 L521.02,595.50 L521.15,595.79 L521.29,596.08 L521.42,596.37 L521.56,596.65 L521.70,596.94 L521.85,597.23 L521.99,597.51 L522.14,597.79 L522.29,598.08 L522.44,598.36 L522.60,598.64 L522.75,598.91 L522.91,599.19 L523.07,599.47 L523.24,599.74 L523.40,600.01 L523.57,600.28 L523.74,600.55 L523.92,600.82 L524.10,601.09 L524.28,601.35 L524.46,601.61 L524.64,601.87 L524.83,602.13 L525.02,602.39 L525.22,602.64 L525.41,602.89 L525.61,603.14 L525.82,603.39 L526.02,603.63 L526.23,603.87 L526.44,604.11 L526.65,604.35 L526.87,604.59 L527.09,604.82 L527.31,605.05 L527.54,605.28 L527.76,605.50 L527.99,605.72 L528.23,605.94 L528.46,606.15 L528.70,606.37 L528.94,606.58 L529.18,606.78 L529.43,606.99 L529.68,607.19 L529.93,607.39 L530.18,607.58 L530.44,607.77 L530.69,607.96 L530.95,608.15 L531.22,608.33 L531.48,608.51 L531.75,608.69 L532.01,608.86 L532.28,609.03 L532.56,609.20 L532.83,609.36 L533.10,609.52 L533.38,609.68 L533.66,609.84 L533.94,609.99 L534.22,610.14 L534.50,610.29 L534.79,610.44 L535.08,610.58 L535.36,610.72 L535.65,610.86 L535.94,610.99 L536.23,611.12 L536.52,611.25 L536.82,611.38 L537.11,611.50 L537.40,611.63 L537.70,611.75 L538.00,611.86 L538.29,611.98 L538.59,612.09 L538.89,612.21 L539.19,612.32 L539.49,612.42 L539.79,612.53 L540.10,612.63 L540.40,612.73 L540.70,612.83 L541.01,612.93 L541.31,613.03 L541.61,613.12 L541.92,613.22 L542.23,613.31 L542.53,613.40 L542.84,613.48 L543.15,613.57 L543.45,613.66 L543.76,613.74 L544.07,613.82 L544.38,613.90 L544.69,613.98 L545.00,614.06 L545.31,614.14 L545.62,614.21 L545.93,614.29 L546.24,614.36 L546.55,614.43 L546.86,614.50 L547.17,614.57 L547.49,614.64 L547.80,614.71 L548.11,614.77 L548.42,614.84 L548.74,614.90 L549.05,614.96 L549.36,615.03 L549.68,615.09 L549.99,615.15 L550.30,615.21 L550.62,615.26 L550.93,615.32 L551.25,615.38 L551.56,615.43 L551.87,615.49 L552.19,615.54 L552.50,615.60 L552.82,615.65 L553.13,615.70 L553.45,615.75 L553.76,615.80 L554.08,615.85 L554.40,615.90 L554.71,615.95 L555.03,616.00 L555.34,616.05 L555.66,616.09 L555.97,616.14 L556.29,616.18 L556.61,616.23 L556.92,616.27 L557.24,616.32 L557.56,616.36 L557.87,616.40 L558.19,616.44 L558.50,616.48 L558.82,616.53 L559.14,616.57 L559.45,616.61 L559.77,616.64 L560.09,616.68 L560.41,616.72 L560.72,616.76 L561.04,616.80 L561.36,616.83 L561.67,616.87 L561.99,616.91 L562.31,616.94 L562.63,616.98 L562.94,617.01 L563.26,617.05 L563.58,617.08 L563.90,617.11 L564.21,617.15 L564.53,617.18 L564.85,617.21 L565.17,617.24 L565.48,617.28 L565.80,617.31 L566.12,617.34 L566.44,617.37 L566.75,617.40 L567.07,617.43 L567.39,617.46 L567.71,617.49 L568.03,617.52 L568.34,617.55 L568.66,617.58 L568.98,617.60 L569.30,617.63 L569.62,617.66 L569.93,617.69 L570.25,617.71 L570.57,617.74 L570.89,617.77 L571.21,617.79 L571.53,617.82 L571.84,617.85 L572.16,617.87 L572.48,617.90 L572.80,617.92 L573.12,617.95 L573.44,617.97 L573.75,618.00 L574.07,618.02 L574.39,618.04 L574.71,618.07 L575.03,618.09 L575.35,618.11 L575.66,618.14 L575.98,618.16 L576.30,618.18 L576.62,618.20 L576.94,618.23 L577.26,618.25 L577.57,618.27 L577.89,618.29 L578.21,618.31 L578.53,618.33 L578.85,618.36 L579.17,618.38 L579.49,618.40 L579.81,618.42 L580.12,618.44 L580.44,618.46 L580.76,618.48 L581.08,618.50 L581.40,618.52 L581.72,618.54 L582.04,618.56 L582.35,618.57 L582.67,618.59 L582.99,618.61 L583.31,618.63 L583.63,618.65 L583.95,618.67 L584.27,618.69 L584.59,618.70 L584.90,618.72 L585.22,618.74 L585.54,618.76 L585.86,618.77 L586.18,618.79 L586.50,618.81 L586.82,618.83 L587.14,618.84 L587.45,618.86 L587.77,618.88 L588.09,618.89 L588.41,618.91 L588.73,618.93 L589.05,618.94 L589.37,618.96 L589.69,618.97 L590.01,618.99 L590.32,619.00 L590.64,619.02 L590.96,619.04 L591.28,619.05 L591.60,619.07 L591.92,619.08 L592.24,619.10 L592.56,619.11 L592.88,619.13 L593.20,619.14 L593.51,619.15 L593.83,619.17 L594.15,619.18 L594.47,619.20 L594.79,619.21 L595.11,619.23 L595.43,619.24 L595.75,619.25 L596.07,619.27 L596.38,619.28 L596.70,619.29 L597.02,619.31 L597.34,619.32 L597.66,619.33 L597.98,619.35 L598.30,619.36 L598.62,619.37 L598.94,619.39 L599.26,619.40 L599.57,619.41 L599.89,619.42 L600.21,619.44 L600.53,619.45 L600.85,619.46 L601.17,619.47 L601.49,619.49 L601.81,619.50 L602.13,619.51 L602.45,619.52 L602.77,619.53 L603.08,619.55 L603.40,619.56 L603.72,619.57 L604.04,619.58 L604.36,619.59 L604.68,619.60 L605.00,619.62 L605.32,619.63 L605.64,619.64 L605.96,619.65 L606.28,619.66 L606.59,619.67 L606.91,619.68 L607.23,619.69 L607.55,619.70 L607.87,619.71 L608.19,619.72 L608.51,619.74 L608.83,619.75 L609.15,619.76 L609.47,619.77 L609.79,619.78 L610.10,619.79 L610.42,619.80 L610.74,619.81 L611.06,619.82 L611.38,619.83 L611.70,619.84 L612.02,619.85 L612.34,619.86 L612.66,619.87 L612.98,619.88 L613.30,619.89 L613.61,619.90 L613.93,619.91 L614.25,619.92 L614.57,619.93 L614.89,619.93 L615.21,619.94 L615.53,619.95 L615.85,619.96 L616.17,619.97 L616.49,619.98 L616.81,619.99 L617.13,620.00 L617.44,620.01 L617.76,620.02 L618.08,620.03 L618.40,620.03 L618.72,620.04 L619.04,620.05 L619.36,620.06 L619.68,620.07 L620.00,620.08 L620.32,620.09 L620.64,620.10 L620.96,620.10 L621.27,620.11 L621.59,620.12 L621.91,620.13 L622.23,620.14 L622.55,620.15 L622.87,620.15 L623.19,620.16 L623.51,620.17 L623.83,620.18 L624.15,620.19 L624.47,620.19 L624.79,620.20 L625.10,620.21 L625.42,620.22 L625.74,620.23 L626.06,620.23 L626.38,620.24 L626.70,620.25 L627.02,620.26 L627.34,620.26 L627.66,620.27 L627.98,620.28 L628.30,620.29 L628.62,620.29 L628.93,620.30 L629.25,620.31 L629.57,620.32 L629.89,620.32 L630.21,620.33 L630.53,620.34 L630.85,620.35 L631.17,620.35 L631.49,620.36 L631.81,620.37 L632.13,620.37 L632.45,620.38 L632.76,620.39 L633.08,620.39 L633.40,620.40 L633.72,620.41 L634.04,620.42 L634.36,620.42 L634.68,620.43 L635.00,620.44 L635.32,620.44 L635.64,620.45 L635.96,620.46 L636.28,620.46 L636.60,620.47 L636.91,620.48 L637.23,620.48 L637.55,620.49 L637.87,620.49 L638.19,620.50 L638.51,620.51 L638.83,620.51 L639.15,620.52 L639.47,620.53 L639.79,620.53 L640.11,620.54 L640.43,620.55 L640.75,620.55 L641.06,620.56 L641.38,620.56 L641.70,620.57 L642.02,620.58 L642.34,620.58 L642.66,620.59 L642.98,620.59 L643.30,620.60 L643.62,620.61 L643.94,620.61 L644.26,620.62 L644.58,620.62 L644.90,620.63 L645.21,620.64 L645.53,620.64 L645.85,620.65 L646.17,620.65 L646.49,620.66 L646.81,620.66 L647.13,620.67 L647.45,620.68 L647.77,620.68 L648.09,620.69 L648.41,620.69 L648.73,620.70 L649.05,620.70 L649.36,620.71 L649.68,620.71 L650.00,620.72 L650.32,620.73 L650.64,620.73 L650.96,620.74 L651.28,620.74 L651.60,620.75 L651.92,620.75 L652.24,620.76 L652.56,620.76 L652.88,620.77 L653.20,620.77 L653.51,620.78 L653.83,620.78 L654.15,620.79 L654.47,620.79 L654.79,620.80 L655.11,620.80 L655.43,620.81 L655.75,620.81 L656.07,620.82 L656.39,620.82 L656.71,620.83 L657.03,620.83 L657.35,620.84 L657.66,620.84 L657.98,620.85 L658.30,620.85 L658.62,620.86 L658.94,620.86 L659.26,620.87 L659.58,620.87 L659.90,620.88 L660.22,620.88 L660.54,620.89 L660.86,620.89 L661.18,620.90 L661.50,620.90 L661.81,620.91 L662.13,620.91 L662.45,620.92 L662.77,620.92 L663.09,620.92 L663.41,620.93 L663.73,620.93 L664.05,620.94 L664.37,620.94 L664.69,620.95 L665.01,620.95 L665.33,620.96 L665.65,620.96 L665.96,620.97 L666.28,620.97 L666.60,620.97 L666.92,620.98 L667.24,620.98 L667.56,620.99 L667.88,620.99 L668.20,621.00 L668.52,621.00 L668.84,621.00 L669.16,621.01 L669.48,621.01 L669.80,621.02 L670.11,621.02 L670.43,621.03 L670.75,621.03 L671.07,621.03 L671.39,621.04 L671.71,621.04 L672.03,621.05 L672.35,621.05 L672.67,621.05 L672.99,621.06 L673.31,621.06 L673.63,621.07 L673.95,621.07 L674.27,621.07 L674.58,621.08 L674.90,621.08 L675.22,621.09 L675.54,621.09 L675.86,621.09 L676.18,621.10 L676.50,621.10" fill="none" stroke="#2378b5" stroke-width="1.22" stroke-linejoin="round"/>
<line x1="503.95" x2="684.8" y1="518.4" y2="518.4" stroke="#ececec" stroke-width="1.0"/>
<line x1="503.95" x2="684.8" y1="626.3" y2="626.3" stroke="#b4b4b4" stroke-width="0.8"/>
<line x1="504.4" x2="504.4" y1="518.4" y2="626.3" stroke="#8a8a8a" stroke-width="0.9"/>
<line x1="684.3" x2="684.3" y1="518.4" y2="626.3" stroke="#e6e6e6" stroke-width="1.0"/>
<line x1="512.85" x2="512.85" y1="626.3" y2="627.4" stroke="#000" stroke-opacity="0.7" stroke-width="0.35"/>
<text x="512.85" y="630.90" font-size="3.1" text-anchor="middle" fill="#000">0</text>
<line x1="533.02" x2="533.02" y1="626.3" y2="627.4" stroke="#000" stroke-opacity="0.7" stroke-width="0.35"/>
<text x="533.02" y="630.90" font-size="3.1" text-anchor="middle" fill="#000">1</text>
<line x1="553.19" x2="553.19" y1="626.3" y2="627.4" stroke="#000" stroke-opacity="0.7" stroke-width="0.35"/>
<text x="553.19" y="630.90" font-size="3.1" text-anchor="middle" fill="#000">2</text>
<line x1="573.36" x2="573.36" y1="626.3" y2="627.4" stroke="#000" stroke-opacity="0.7" stroke-width="0.35"/>
<text x="573.36" y="630.90" font-size="3.1" text-anchor="middle" fill="#000">3</text>
<line x1="593.53" x2="593.53" y1="626.3" y2="627.4" stroke="#000" stroke-opacity="0.7" stroke-width="0.35"/>
<text x="593.53" y="630.90" font-size="3.1" text-anchor="middle" fill="#000">4</text>
<line x1="613.70" x2="613.70" y1="626.3" y2="627.4" stroke="#000" stroke-opacity="0.7" stroke-width="0.35"/>
<text x="613.70" y="630.90" font-size="3.1" text-anchor="middle" fill="#000">5</text>
<line x1="633.87" x2="633.87" y1="626.3" y2="627.4" stroke="#000" stroke-opacity="0.7" stroke-width="0.35"/>
<text x="633.87" y="630.90" font-size="3.1" text-anchor="middle" fill="#000">6</text>
<line x1="654.04" x2="654.04" y1="626.3" y2="627.4" stroke="#000" stroke-opacity="0.7" stroke-width="0.35"/>
<text x="654.04" y="630.90" font-size="3.1" text-anchor="middle" fill="#000">7</text>
<line x1="674.21" x2="674.21" y1="626.3" y2="627.4" stroke="#000" stroke-opacity="0.7" stroke-width="0.35"/>
<text x="674.21" y="630.90" font-size="3.1" text-anchor="middle" fill="#000">8</text>
<line x1="503.29999999999995" x2="504.4" y1="522.50" y2="522.50" stroke="#000" stroke-opacity="0.7" stroke-width="0.35"/>
<text x="501.80" y="523.80" font-size="3.3" text-anchor="end" fill="#000">0.010</text>
<line x1="503.29999999999995" x2="504.4" y1="535.05" y2="535.05" stroke="#000" stroke-opacity="0.7" stroke-width="0.35"/>
<text x="501.80" y="536.35" font-size="3.3" text-anchor="end" fill="#000">0.005</text>
<line x1="503.29999999999995" x2="504.4" y1="547.60" y2="547.60" stroke="#000" stroke-opacity="0.7" stroke-width="0.35"/>
<text x="501.80" y="548.90" font-size="3.3" text-anchor="end" fill="#000">0.000</text>
<line x1="503.29999999999995" x2="504.4" y1="560.15" y2="560.15" stroke="#000" stroke-opacity="0.7" stroke-width="0.35"/>
<text x="501.80" y="561.45" font-size="3.3" text-anchor="end" fill="#000">−0.005</text>
<line x1="503.29999999999995" x2="504.4" y1="572.70" y2="572.70" stroke="#000" stroke-opacity="0.7" stroke-width="0.35"/>
<text x="501.80" y="574.00" font-size="3.3" text-anchor="end" fill="#000">−0.010</text>
<line x1="503.29999999999995" x2="504.4" y1="585.25" y2="585.25" stroke="#000" stroke-opacity="0.7" stroke-width="0.35"/>
<text x="501.80" y="586.55" font-size="3.3" text-anchor="end" fill="#000">−0.015</text>
<line x1="503.29999999999995" x2="504.4" y1="597.80" y2="597.80" stroke="#000" stroke-opacity="0.7" stroke-width="0.35"/>
<text x="501.80" y="599.10" font-size="3.3" text-anchor="end" fill="#000">−0.020</text>
<line x1="503.29999999999995" x2="504.4" y1="610.35" y2="610.35" stroke="#000" stroke-opacity="0.7" stroke-width="0.35"/>
<text x="501.80" y="611.65" font-size="3.3" text-anchor="end" fill="#000">−0.025</text>
<line x1="503.29999999999995" x2="504.4" y1="622.90" y2="622.90" stroke="#000" stroke-opacity="0.7" stroke-width="0.35"/>
<text x="501.80" y="624.20" font-size="3.3" text-anchor="end" fill="#000">−0.030</text>
<text x="594.05" y="639.00" font-size="8.0" text-anchor="middle" fill="#222">d</text>
<text transform="translate(487.10,572.30) rotate(-90) scale(0.76,1)" font-size="9.2" font-style="italic" text-anchor="middle" fill="#151515">λ</text>
<text y="145.2" font-size="14.4" fill="#111" font-family='"Liberation Serif","DejaVu Serif",serif'><tspan x="74.50" font-weight="bold" textLength="20.70" lengthAdjust="spacingAndGlyphs">(a)</tspan><tspan x="101.30" font-style="italic" stroke="#111" stroke-width="0.15" textLength="7.7" lengthAdjust="spacingAndGlyphs">a</tspan><tspan x="128.80" textLength="19.40" lengthAdjust="spacingAndGlyphs">0.1</tspan></text>
<text x="113.35" y="147.10" font-size="14.4" fill="#111" stroke="#111" stroke-width="0.2" font-family='"Liberation Serif","DejaVu Serif",serif' textLength="11.4" lengthAdjust="spacingAndGlyphs">=</text>
<text y="145.2" font-size="14.4" fill="#111" font-family='"Liberation Serif","DejaVu Serif",serif'><tspan x="314.00" font-weight="bold" textLength="22.40" lengthAdjust="spacingAndGlyphs">(b)</tspan><tspan x="341.90" font-style="italic" stroke="#111" stroke-width="0.15" textLength="7.7" lengthAdjust="spacingAndGlyphs">a</tspan><tspan x="369.60" textLength="19.90" lengthAdjust="spacingAndGlyphs">1.0</tspan></text>
<text x="354.45" y="147.10" font-size="14.4" fill="#111" stroke="#111" stroke-width="0.2" font-family='"Liberation Serif","DejaVu Serif",serif' textLength="11.4" lengthAdjust="spacingAndGlyphs">=</text>
<text y="145.2" font-size="14.4" fill="#111" font-family='"Liberation Serif","DejaVu Serif",serif'><tspan x="555.40" font-weight="bold" textLength="19.80" lengthAdjust="spacingAndGlyphs">(c)</tspan><tspan x="581.40" font-style="italic" stroke="#111" stroke-width="0.15" textLength="7.7" lengthAdjust="spacingAndGlyphs">a</tspan><tspan x="609.20" textLength="19.40" lengthAdjust="spacingAndGlyphs">5.0</tspan></text>
<text x="593.95" y="147.10" font-size="14.4" fill="#111" stroke="#111" stroke-width="0.2" font-family='"Liberation Serif","DejaVu Serif",serif' textLength="11.4" lengthAdjust="spacingAndGlyphs">=</text>
<text y="317.9" font-size="14.4" fill="#111" font-family='"Liberation Serif","DejaVu Serif",serif'><tspan x="73.50" font-weight="bold" textLength="22.20" lengthAdjust="spacingAndGlyphs">(d)</tspan><tspan x="101.70" font-style="italic" stroke="#111" stroke-width="0.15" textLength="7.7" lengthAdjust="spacingAndGlyphs">a</tspan><tspan x="129.70" textLength="19.20" lengthAdjust="spacingAndGlyphs">0.1</tspan></text>
<text x="114.15" y="319.80" font-size="14.4" fill="#111" stroke="#111" stroke-width="0.2" font-family='"Liberation Serif","DejaVu Serif",serif' textLength="11.4" lengthAdjust="spacingAndGlyphs">=</text>
<text y="317.9" font-size="14.4" fill="#111" font-family='"Liberation Serif","DejaVu Serif",serif'><tspan x="315.30" font-weight="bold" textLength="19.50" lengthAdjust="spacingAndGlyphs">(e)</tspan><tspan x="341.40" font-style="italic" stroke="#111" stroke-width="0.15" textLength="7.7" lengthAdjust="spacingAndGlyphs">a</tspan><tspan x="369.30" textLength="19.00" lengthAdjust="spacingAndGlyphs">1.0</tspan></text>
<text x="353.95" y="319.80" font-size="14.4" fill="#111" stroke="#111" stroke-width="0.2" font-family='"Liberation Serif","DejaVu Serif",serif' textLength="11.4" lengthAdjust="spacingAndGlyphs">=</text>
<text y="317.9" font-size="14.4" fill="#111" font-family='"Liberation Serif","DejaVu Serif",serif'><tspan x="555.80" font-weight="normal" textLength="18.50" lengthAdjust="spacingAndGlyphs">(f)</tspan><tspan x="581.00" font-style="italic" stroke="#111" stroke-width="0.15" textLength="7.7" lengthAdjust="spacingAndGlyphs">a</tspan><tspan x="608.90" textLength="19.20" lengthAdjust="spacingAndGlyphs">5.0</tspan></text>
<text x="593.55" y="319.80" font-size="14.4" fill="#111" stroke="#111" stroke-width="0.2" font-family='"Liberation Serif","DejaVu Serif",serif' textLength="11.4" lengthAdjust="spacingAndGlyphs">=</text>
<text y="490.6" font-size="14.4" fill="#111" font-family='"Liberation Serif","DejaVu Serif",serif'><tspan x="74.60" font-weight="bold" textLength="20.60" lengthAdjust="spacingAndGlyphs">(g)</tspan><tspan x="101.40" font-style="italic" stroke="#111" stroke-width="0.15" textLength="7.7" lengthAdjust="spacingAndGlyphs">a</tspan><tspan x="129.20" textLength="19.10" lengthAdjust="spacingAndGlyphs">0.5</tspan></text>
<text x="113.95" y="492.50" font-size="14.4" fill="#111" stroke="#111" stroke-width="0.2" font-family='"Liberation Serif","DejaVu Serif",serif' textLength="11.4" lengthAdjust="spacingAndGlyphs">=</text>
<text y="490.6" font-size="14.4" fill="#111" font-family='"Liberation Serif","DejaVu Serif",serif'><tspan x="314.00" font-weight="bold" textLength="22.40" lengthAdjust="spacingAndGlyphs">(h)</tspan><tspan x="341.90" font-style="italic" stroke="#111" stroke-width="0.15" textLength="7.7" lengthAdjust="spacingAndGlyphs">a</tspan><tspan x="369.60" textLength="19.90" lengthAdjust="spacingAndGlyphs">1.0</tspan></text>
<text x="354.45" y="492.50" font-size="14.4" fill="#111" stroke="#111" stroke-width="0.2" font-family='"Liberation Serif","DejaVu Serif",serif' textLength="11.4" lengthAdjust="spacingAndGlyphs">=</text>
<text y="490.6" font-size="14.4" fill="#111" font-family='"Liberation Serif","DejaVu Serif",serif'><tspan x="556.70" font-weight="normal" textLength="16.70" lengthAdjust="spacingAndGlyphs">(i)</tspan><tspan x="580.50" font-style="italic" stroke="#111" stroke-width="0.15" textLength="7.7" lengthAdjust="spacingAndGlyphs">a</tspan><tspan x="607.80" textLength="19.40" lengthAdjust="spacingAndGlyphs">4.0</tspan></text>
<text x="593.05" y="492.50" font-size="14.4" fill="#111" stroke="#111" stroke-width="0.2" font-family='"Liberation Serif","DejaVu Serif",serif' textLength="11.4" lengthAdjust="spacingAndGlyphs">=</text>
<text y="663.1" font-size="14.4" fill="#111" font-family='"Liberation Serif","DejaVu Serif",serif'><tspan x="76.10" font-weight="normal" textLength="17.00" lengthAdjust="spacingAndGlyphs">(j)</tspan><tspan x="100.20" font-style="italic" stroke="#111" stroke-width="0.15" textLength="7.7" lengthAdjust="spacingAndGlyphs">a</tspan><tspan x="127.80" textLength="19.10" lengthAdjust="spacingAndGlyphs">0.5</tspan></text>
<text x="112.75" y="665.00" font-size="14.4" fill="#111" stroke="#111" stroke-width="0.2" font-family='"Liberation Serif","DejaVu Serif",serif' textLength="11.4" lengthAdjust="spacingAndGlyphs">=</text>
<text y="663.1" font-size="14.4" fill="#111" font-family='"Liberation Serif","DejaVu Serif",serif'><tspan x="314.60" font-weight="bold" textLength="21.10" lengthAdjust="spacingAndGlyphs">(k)</tspan><tspan x="341.70" font-style="italic" stroke="#111" stroke-width="0.15" textLength="7.7" lengthAdjust="spacingAndGlyphs">a</tspan><tspan x="369.60" textLength="19.40" lengthAdjust="spacingAndGlyphs">1.0</tspan></text>
<text x="354.15" y="665.00" font-size="14.4" fill="#111" stroke="#111" stroke-width="0.2" font-family='"Liberation Serif","DejaVu Serif",serif' textLength="11.4" lengthAdjust="spacingAndGlyphs">=</text>
<text y="663.1" font-size="14.4" fill="#111" font-family='"Liberation Serif","DejaVu Serif",serif'><tspan x="556.70" font-weight="normal" textLength="16.70" lengthAdjust="spacingAndGlyphs">(l)</tspan><tspan x="580.20" font-style="italic" stroke="#111" stroke-width="0.15" textLength="7.7" lengthAdjust="spacingAndGlyphs">a</tspan><tspan x="607.50" textLength="19.40" lengthAdjust="spacingAndGlyphs">4.0</tspan></text>
<text x="592.75" y="665.00" font-size="14.4" fill="#111" stroke="#111" stroke-width="0.2" font-family='"Liberation Serif","DejaVu Serif",serif' textLength="11.4" lengthAdjust="spacingAndGlyphs">=</text>
</svg>
</body></html>
